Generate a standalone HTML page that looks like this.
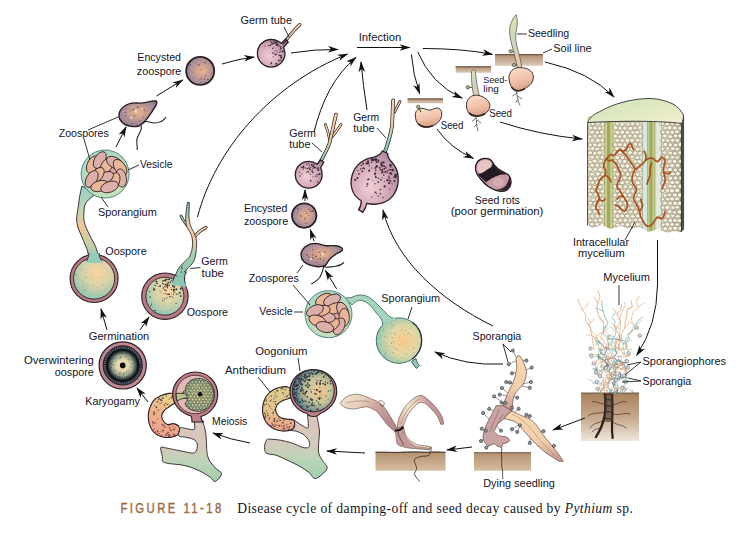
<!DOCTYPE html><html><head><meta charset="utf-8"><title>Figure 11-18</title><style>html,body{margin:0;padding:0;background:#fff}svg{display:block}</style></head><body>
<svg width="750" height="533" viewBox="0 0 750 533">
<rect width="750" height="533" fill="#fff"/>
<defs>
<radialGradient id="gEnc" cx="0.56" cy="0.5" r="0.6"><stop offset="0" stop-color="#eeb184"/><stop offset="0.4" stop-color="#c9a096"/><stop offset="0.8" stop-color="#a08a9a"/><stop offset="1" stop-color="#86748e"/></radialGradient>
<radialGradient id="gZoo" cx="0.5" cy="0.45" r="0.6"><stop offset="0" stop-color="#ecb488"/><stop offset="0.45" stop-color="#c39a94"/><stop offset="0.85" stop-color="#9a8698"/><stop offset="1" stop-color="#86748e"/></radialGradient>
<radialGradient id="gPink" cx="0.4" cy="0.58" r="0.68"><stop offset="0" stop-color="#f0d0d4"/><stop offset="0.55" stop-color="#d4aab8"/><stop offset="1" stop-color="#a8869e"/></radialGradient>
<radialGradient id="gOo" cx="0.58" cy="0.35" r="0.75"><stop offset="0" stop-color="#fbd3a0"/><stop offset="0.45" stop-color="#d9d3a8"/><stop offset="1" stop-color="#7fc3b8"/></radialGradient>
<radialGradient id="gSpor" cx="0.6" cy="0.5" r="0.68"><stop offset="0" stop-color="#fbc98f"/><stop offset="0.45" stop-color="#e4d7a4"/><stop offset="1" stop-color="#7cc4b8"/></radialGradient>
<radialGradient id="gOver" cx="0.5" cy="0.5" r="0.5"><stop offset="0" stop-color="#f2dcae"/><stop offset="0.35" stop-color="#e4d8a8"/><stop offset="0.6" stop-color="#a3ad98"/><stop offset="0.78" stop-color="#46504c"/><stop offset="0.88" stop-color="#14181a"/><stop offset="1" stop-color="#0e1014"/></radialGradient>
<radialGradient id="gOog" cx="0.62" cy="0.5" r="0.6"><stop offset="0" stop-color="#f6c795"/><stop offset="0.5" stop-color="#c9c79a"/><stop offset="1" stop-color="#4c6f80"/></radialGradient>
<radialGradient id="gOog2" cx="0.55" cy="0.5" r="0.6"><stop offset="0" stop-color="#e8d79a"/><stop offset="0.6" stop-color="#b9c79a"/><stop offset="1" stop-color="#6c96a0"/></radialGradient>
<linearGradient id="gStem1" x1="0" y1="0" x2="0" y2="1"><stop offset="0" stop-color="#9ccdb4"/><stop offset="0.45" stop-color="#f0cfa0"/><stop offset="1" stop-color="#7fc3b8"/></linearGradient>
<linearGradient id="gTube" x1="0" y1="1" x2="0" y2="0"><stop offset="0" stop-color="#7fbfb2"/><stop offset="0.5" stop-color="#f0c89a"/><stop offset="1" stop-color="#f4d4a8"/></linearGradient>
<linearGradient id="gSoil" x1="0" y1="0" x2="0" y2="1"><stop offset="0" stop-color="#b5916f"/><stop offset="1" stop-color="#d6bda2"/></linearGradient>
<linearGradient id="gSoil3" x1="0" y1="0" x2="0" y2="1"><stop offset="0" stop-color="#a98160"/><stop offset="0.5" stop-color="#c6a88a"/><stop offset="1" stop-color="#efe6dc"/></linearGradient>
<linearGradient id="gSoilT" x1="0" y1="0" x2="0" y2="1"><stop offset="0" stop-color="#b08d70"/><stop offset="1" stop-color="#dccab8"/></linearGradient>
<linearGradient id="gAnth" x1="0.5" y1="0" x2="0.3" y2="1"><stop offset="0" stop-color="#e9d68f"/><stop offset="0.5" stop-color="#f0b08c"/><stop offset="1" stop-color="#ee9f8c"/></linearGradient>
<linearGradient id="gAnth2" x1="0.5" y1="0" x2="0.5" y2="1"><stop offset="0" stop-color="#d9cf8f"/><stop offset="0.6" stop-color="#e8c08c"/><stop offset="1" stop-color="#ee9f8c"/></linearGradient>
<linearGradient id="gHyph" x1="0" y1="0" x2="0" y2="1"><stop offset="0" stop-color="#dcc4bc"/><stop offset="0.42" stop-color="#d6c8bc"/><stop offset="0.68" stop-color="#bcd4b8"/><stop offset="1" stop-color="#a3cfae"/></linearGradient>
<linearGradient id="gSeed" x1="0.2" y1="0" x2="0.5" y2="1"><stop offset="0" stop-color="#f9dfcc"/><stop offset="0.55" stop-color="#f2c2a8"/><stop offset="1" stop-color="#d69c88"/></linearGradient>
<linearGradient id="gShoot" x1="0" y1="0" x2="0" y2="1"><stop offset="0" stop-color="#e6e4ae"/><stop offset="0.45" stop-color="#c9d8c0"/><stop offset="1" stop-color="#ecc6a8"/></linearGradient>
<linearGradient id="gLeafA" x1="0" y1="0" x2="1" y2="0.6"><stop offset="0" stop-color="#efe6cc"/><stop offset="0.35" stop-color="#e6d2bc"/><stop offset="0.6" stop-color="#cfa4a0"/><stop offset="1" stop-color="#b58a8e"/></linearGradient>
<linearGradient id="gLeafB" x1="0" y1="0.6" x2="1" y2="0.3"><stop offset="0" stop-color="#d9b8a8"/><stop offset="0.3" stop-color="#efe6cc"/><stop offset="0.55" stop-color="#e2c4b4"/><stop offset="0.75" stop-color="#c4979c"/><stop offset="1" stop-color="#b98a92"/></linearGradient>
<linearGradient id="gLeafC" x1="0" y1="0" x2="0" y2="1"><stop offset="0" stop-color="#f8d9b0"/><stop offset="0.6" stop-color="#f0cfae"/><stop offset="1" stop-color="#c99890"/></linearGradient>
<linearGradient id="gCap" x1="0" y1="0" x2="1" y2="1"><stop offset="0" stop-color="#cfe3b4"/><stop offset="1" stop-color="#f1efcf"/></linearGradient>
<radialGradient id="gVes" cx="0.6" cy="0.7" r="0.7"><stop offset="0" stop-color="#d6e2b4"/><stop offset="1" stop-color="#acd8c4"/></radialGradient>
<linearGradient id="gT1" gradientUnits="userSpaceOnUse" x1="0" y1="285" x2="0" y2="200"><stop offset="0" stop-color="#7fbfb2"/><stop offset="0.38" stop-color="#a8cfae"/><stop offset="0.55" stop-color="#f2c9a0"/><stop offset="0.72" stop-color="#ecd0a8"/><stop offset="0.86" stop-color="#9cc8b0"/><stop offset="1" stop-color="#86bcae"/></linearGradient>
<linearGradient id="gT2" gradientUnits="userSpaceOnUse" x1="0" y1="170" x2="0" y2="112"><stop offset="0" stop-color="#7fbfb2"/><stop offset="0.4" stop-color="#bcd0a8"/><stop offset="0.65" stop-color="#f2c9a0"/><stop offset="1" stop-color="#f6d8b0"/></linearGradient>
<linearGradient id="gT3" gradientUnits="userSpaceOnUse" x1="0" y1="160" x2="0" y2="98"><stop offset="0" stop-color="#6fb5aa"/><stop offset="0.4" stop-color="#a8cfb0"/><stop offset="0.6" stop-color="#f2c9a0"/><stop offset="1" stop-color="#f6d8b0"/></linearGradient>
<linearGradient id="gT4" gradientUnits="userSpaceOnUse" x1="283" y1="46" x2="301" y2="26"><stop offset="0" stop-color="#4a7a78"/><stop offset="0.4" stop-color="#d9b890"/><stop offset="1" stop-color="#f6d8b0"/></linearGradient>
<linearGradient id="gS1" gradientUnits="userSpaceOnUse" x1="0" y1="190" x2="0" y2="262"><stop offset="0" stop-color="#9fd0c0"/><stop offset="0.25" stop-color="#b8d8b8"/><stop offset="0.5" stop-color="#eec896"/><stop offset="0.75" stop-color="#c9d0a8"/><stop offset="1" stop-color="#86c6b8"/></linearGradient>
</defs>
<circle cx="200.2" cy="70.9" r="14.0" fill="url(#gEnc)" stroke="#2b2026" stroke-width="1.8"/>
<g fill="#3a2a3a" opacity="0.75"><circle cx="207.8" cy="79.5" r="0.68"/><circle cx="199.9" cy="79.7" r="0.52"/><circle cx="193.8" cy="61.9" r="0.35"/><circle cx="211.4" cy="72.9" r="0.52"/><circle cx="200.2" cy="70.3" r="0.52"/><circle cx="199.1" cy="65.0" r="0.77"/><circle cx="202.0" cy="69.6" r="0.31"/><circle cx="188.5" cy="67.8" r="0.49"/><circle cx="201.9" cy="78.8" r="0.31"/><circle cx="201.7" cy="79.0" r="0.55"/><circle cx="200.8" cy="76.9" r="0.41"/><circle cx="193.7" cy="72.6" r="0.31"/><circle cx="205.1" cy="63.0" r="0.62"/><circle cx="205.1" cy="82.4" r="0.73"/><circle cx="205.4" cy="75.9" r="0.66"/><circle cx="197.3" cy="59.2" r="0.51"/><circle cx="205.1" cy="61.9" r="0.45"/><circle cx="190.2" cy="64.8" r="0.72"/><circle cx="190.6" cy="70.6" r="0.32"/><circle cx="200.7" cy="82.1" r="0.51"/><circle cx="204.5" cy="79.1" r="0.65"/><circle cx="196.7" cy="64.1" r="0.52"/></g>
<g transform="translate(137.0,114.0) scale(1.00)">
<path d="M-18,3 C-19,-6 -9,-12 0,-11 C8,-10 14,-14 19,-13 C21,-12 19,-8 16,-4 C12,2 9,8 2,12 C-6,14 -16,11 -18,3 Z" fill="url(#gZoo)" stroke="#2b2026" stroke-width="1.4"/>
<g fill="#3a2a3a" opacity="0.70"><circle cx="-1.4" cy="8.1" r="0.45"/><circle cx="-8.9" cy="-5.3" r="0.33"/><circle cx="8.0" cy="0.8" r="0.40"/><circle cx="-0.9" cy="10.9" r="0.49"/><circle cx="1.9" cy="-6.5" r="0.56"/><circle cx="3.1" cy="7.1" r="0.65"/><circle cx="-11.4" cy="-1.4" r="0.57"/><circle cx="6.8" cy="3.8" r="0.54"/><circle cx="-2.6" cy="1.8" r="0.65"/><circle cx="-11.2" cy="1.6" r="0.65"/><circle cx="-4.4" cy="-10.3" r="0.46"/><circle cx="0.3" cy="-7.0" r="0.67"/><circle cx="0.5" cy="-2.4" r="0.35"/><circle cx="0.2" cy="10.6" r="0.47"/><circle cx="-6.2" cy="-4.3" r="0.50"/><circle cx="-6.9" cy="4.3" r="0.53"/><circle cx="-11.0" cy="-5.3" r="0.57"/><circle cx="7.2" cy="-4.4" r="0.70"/><circle cx="-4.1" cy="-3.9" r="0.64"/><circle cx="8.2" cy="-2.3" r="0.53"/><circle cx="-3.1" cy="-4.9" r="0.63"/><circle cx="-7.3" cy="-2.6" r="0.33"/><circle cx="4.6" cy="-8.7" r="0.34"/><circle cx="0.2" cy="-6.7" r="0.36"/><circle cx="-4.6" cy="9.3" r="0.65"/><circle cx="6.3" cy="2.4" r="0.32"/></g>
<circle cx="-1" cy="-3" r="1.6" fill="#f6dcc0" opacity="0.9"/><circle cx="-6" cy="4" r="1.2" fill="#f6dcc0" opacity="0.8"/><circle cx="5" cy="-5" r="1" fill="#f6dcc0" opacity="0.8"/>
<path d="M4,11 C6,16 1,20 0,25 C-1,29 1,32 0,36" fill="none" stroke="#222" stroke-width="1.1"/>
<path d="M5,10 C9,5 13,9 17,9 C22,9 26,8 29,3" fill="none" stroke="#222" stroke-width="1.1"/>
</g>
<g transform="translate(-0.8,-0.7)">
<path d="M281,47 C286,42 291,36 295,31 C297,28.5 299,27 300.5,25.5" fill="none" stroke="#2b2026" stroke-width="3.4" stroke-linecap="round" stroke-linejoin="round"/>
<path d="M281,47 C286,42 291,36 295,31 C297,28.5 299,27 300.5,25.5" fill="none" stroke="url(#gT4)" stroke-width="2.0" stroke-linecap="round" stroke-linejoin="round"/>
<path d="M272,40.2 C276,40.2 279.5,42 282,44 C283.6,42.8 285.2,41.5 286.8,40.2 L289,43 C287.3,44.6 285.6,46.3 284.2,48.2 C285.4,50.3 285.8,52 285.8,54 C285.8,61.6 279.6,67.8 272,67.8 C264.4,67.8 258.2,61.6 258.2,54 C258.2,46.4 264.4,40.2 272,40.2 Z" fill="url(#gPink)" stroke="#2b2026" stroke-width="1.3"/>
<g fill="#2a1730" opacity="0.85"><circle cx="277.3" cy="55.1" r="0.66"/><circle cx="274.7" cy="42.6" r="0.92"/><circle cx="278.4" cy="52.9" r="0.63"/><circle cx="281.7" cy="47.3" r="0.69"/><circle cx="278.5" cy="44.9" r="0.91"/><circle cx="279.3" cy="49.7" r="0.46"/><circle cx="277.4" cy="64.8" r="0.98"/><circle cx="279.7" cy="45.8" r="0.66"/><circle cx="277.2" cy="43.0" r="1.02"/><circle cx="277.2" cy="45.5" r="0.88"/><circle cx="273.8" cy="57.5" r="0.55"/><circle cx="272.5" cy="43.3" r="0.73"/><circle cx="281.6" cy="48.8" r="0.93"/><circle cx="275.0" cy="52.6" r="0.44"/><circle cx="272.1" cy="64.1" r="0.85"/><circle cx="276.8" cy="51.4" r="0.70"/><circle cx="279.9" cy="56.0" r="0.83"/><circle cx="273.8" cy="54.2" r="0.65"/><circle cx="273.1" cy="44.5" r="0.68"/><circle cx="270.2" cy="54.1" r="0.47"/><circle cx="283.7" cy="52.2" r="0.88"/><circle cx="281.8" cy="60.9" r="0.76"/><circle cx="265.9" cy="46.7" r="0.57"/><circle cx="271.4" cy="46.0" r="0.73"/><circle cx="280.8" cy="50.9" r="0.63"/><circle cx="281.8" cy="56.6" r="0.77"/><circle cx="279.1" cy="47.0" r="0.50"/><circle cx="276.0" cy="54.4" r="0.52"/><circle cx="273.6" cy="49.1" r="0.77"/><circle cx="281.9" cy="58.5" r="1.00"/><circle cx="279.7" cy="61.2" r="0.93"/><circle cx="271.3" cy="42.1" r="0.63"/><circle cx="281.9" cy="52.3" r="0.50"/><circle cx="275.9" cy="54.0" r="0.56"/><circle cx="281.8" cy="49.5" r="0.61"/><circle cx="276.5" cy="48.6" r="0.49"/><circle cx="281.9" cy="56.5" r="0.93"/><circle cx="277.0" cy="64.2" r="0.74"/><circle cx="273.5" cy="52.9" r="0.52"/><circle cx="280.8" cy="47.4" r="0.59"/><circle cx="276.1" cy="55.6" r="0.73"/><circle cx="272.7" cy="45.0" r="0.73"/><circle cx="280.6" cy="53.3" r="0.70"/><circle cx="274.2" cy="51.2" r="0.36"/><circle cx="271.9" cy="52.2" r="0.34"/><circle cx="269.7" cy="46.2" r="0.84"/><circle cx="274.7" cy="44.1" r="0.68"/><circle cx="271.8" cy="63.3" r="0.52"/><circle cx="282.6" cy="51.6" r="0.49"/><circle cx="276.5" cy="43.7" r="0.95"/><circle cx="278.1" cy="46.1" r="0.74"/><circle cx="274.7" cy="47.7" r="0.51"/></g>
<path d="M283.2,45.2 L287.6,41.2" stroke="#3a2a44" stroke-width="2.2" opacity="0.6"/>
</g>
<path d="M82,186 C80,193 79,200 78.4,206 C77.5,211 76.6,216 76.6,220 C77,225 78.5,230 80.7,234 C82.5,239 85,244 86.8,248.7 C87.8,251.5 88.5,254.5 88.8,258 L99,258 C98,253.5 96.8,249.5 95.4,246.2 C93,241 90,236.5 88,231.6 C86,228 84.5,224 83.9,219.4 C83.5,215 84,211 84.4,207 C85,203 88,199.5 95.3,194.4 Z" fill="url(#gS1)" stroke="#2b2026" stroke-width="0.9"/>
<circle cx="105.1" cy="174.0" r="24.0" fill="url(#gVes)" stroke="#4f8a80" stroke-width="1"/>
<g transform="rotate(0 105.1 174.0)" stroke="#2e1c1c" stroke-width="0.8">
<ellipse cx="106.1" cy="173.0" rx="17.0" ry="15.5" fill="#d9a59c" stroke="none"/>
<ellipse cx="92.6" cy="164.6" rx="9.2" ry="5.3" fill="#e9b697" transform="rotate(-65 92.6 164.6)"/>
<ellipse cx="99.8" cy="160.1" rx="9.2" ry="5.3" fill="#dbb0aa" transform="rotate(-60 99.8 160.1)"/>
<ellipse cx="106.9" cy="165.5" rx="9.2" ry="5.3" fill="#e9b697" transform="rotate(-55 106.9 165.5)"/>
<ellipse cx="114.9" cy="162.8" rx="9.2" ry="5.3" fill="#dbb0aa" transform="rotate(30 114.9 162.8)"/>
<ellipse cx="120.1" cy="167.5" rx="9.2" ry="5.3" fill="#e9b697" transform="rotate(55 120.1 167.5)"/>
<ellipse cx="121.1" cy="178.0" rx="9.2" ry="5.3" fill="#dbb0aa" transform="rotate(80 121.1 178.0)"/>
<ellipse cx="114.1" cy="181.5" rx="9.2" ry="5.3" fill="#e9b697" transform="rotate(-70 114.1 181.5)"/>
<ellipse cx="105.1" cy="178.0" rx="9.2" ry="5.3" fill="#dbb0aa" transform="rotate(-30 105.1 178.0)"/>
<ellipse cx="97.1" cy="175.3" rx="9.2" ry="5.3" fill="#e9b697" transform="rotate(-50 97.1 175.3)"/>
<ellipse cx="91.7" cy="179.0" rx="9.2" ry="5.3" fill="#dbb0aa" transform="rotate(-60 91.7 179.0)"/>
<ellipse cx="99.8" cy="186.0" rx="9.2" ry="5.3" fill="#e9b697" transform="rotate(-15 99.8 186.0)"/>
<ellipse cx="109.6" cy="186.9" rx="9.2" ry="5.3" fill="#dbb0aa" transform="rotate(-20 109.6 186.9)"/>
</g>
<circle cx="94.1" cy="278.5" r="24.0" fill="#b97a84" stroke="#2b2026" stroke-width="1.1"/>
<circle cx="94.1" cy="278.5" r="20.6" fill="url(#gOo)" stroke="#2b2026" stroke-width="0.9"/>
<g fill="#3f7a76" opacity="0.65"><circle cx="82.8" cy="281.2" r="0.51"/><circle cx="78.7" cy="283.3" r="0.32"/><circle cx="80.0" cy="269.5" r="0.47"/><circle cx="92.2" cy="266.3" r="0.33"/><circle cx="105.3" cy="288.0" r="0.42"/><circle cx="100.9" cy="273.3" r="0.28"/><circle cx="91.7" cy="277.9" r="0.40"/><circle cx="80.0" cy="269.5" r="0.35"/><circle cx="78.7" cy="289.4" r="0.26"/><circle cx="97.0" cy="290.8" r="0.28"/><circle cx="78.1" cy="278.8" r="0.47"/><circle cx="83.5" cy="289.9" r="0.50"/><circle cx="92.5" cy="277.2" r="0.31"/><circle cx="89.7" cy="284.1" r="0.29"/><circle cx="103.9" cy="269.4" r="0.26"/><circle cx="108.6" cy="287.0" r="0.25"/><circle cx="99.9" cy="290.0" r="0.37"/><circle cx="76.1" cy="274.4" r="0.55"/><circle cx="76.5" cy="274.3" r="0.44"/><circle cx="81.4" cy="282.3" r="0.27"/><circle cx="96.1" cy="295.6" r="0.44"/><circle cx="82.3" cy="268.3" r="0.27"/><circle cx="99.6" cy="292.2" r="0.27"/><circle cx="86.1" cy="288.8" r="0.26"/><circle cx="102.9" cy="285.4" r="0.48"/><circle cx="97.3" cy="286.9" r="0.29"/><circle cx="83.8" cy="289.6" r="0.33"/><circle cx="85.7" cy="277.6" r="0.53"/><circle cx="87.1" cy="273.0" r="0.33"/><circle cx="103.0" cy="284.5" r="0.43"/><circle cx="87.1" cy="283.6" r="0.39"/><circle cx="83.1" cy="269.3" r="0.31"/><circle cx="85.3" cy="284.7" r="0.41"/><circle cx="103.8" cy="289.9" r="0.38"/><circle cx="92.8" cy="280.8" r="0.39"/><circle cx="91.1" cy="292.1" r="0.25"/><circle cx="97.5" cy="276.6" r="0.30"/><circle cx="87.9" cy="286.1" r="0.37"/><circle cx="93.1" cy="285.6" r="0.45"/><circle cx="85.6" cy="290.5" r="0.53"/><circle cx="91.2" cy="273.3" r="0.31"/><circle cx="76.7" cy="273.7" r="0.31"/><circle cx="83.7" cy="286.2" r="0.54"/><circle cx="76.1" cy="274.9" r="0.45"/><circle cx="101.9" cy="277.3" r="0.51"/><circle cx="92.7" cy="285.2" r="0.26"/></g>
<path d="M88.6,253 C88.6,257 87.6,260.5 85.6,263 L103,263 C100.6,260.5 99.4,257 99.2,253 Z" fill="#93ccb9"/>
<path d="M88.8,253 C88.7,256.5 87.9,259 86.6,260.8 M99,253 C99.2,256.5 100.2,259 101.8,260.6" fill="none" stroke="#2b2026" stroke-width="0.9"/>
<path d="M193.5,241 C194,237 196,234.5 199,232 C201.5,230 204,228.5 206,227.5" fill="none" stroke="#2b2026" stroke-width="3.2" stroke-linecap="round" stroke-linejoin="round"/>
<path d="M193.5,241 C194,237 196,234.5 199,232 C201.5,230 204,228.5 206,227.5" fill="none" stroke="#f4d0a4" stroke-width="1.8" stroke-linecap="round" stroke-linejoin="round"/>
<path d="M186.8,225 C184.5,222.5 182.5,219.5 181,216" fill="none" stroke="#2b2026" stroke-width="2.9" stroke-linecap="round" stroke-linejoin="round"/>
<path d="M186.8,225 C184.5,222.5 182.5,219.5 181,216" fill="none" stroke="#9cc8b0" stroke-width="1.5" stroke-linecap="round" stroke-linejoin="round"/>
<path d="M173.4,281 C175,275 177,271 179.5,267 C182.5,263 186.5,260.5 189.3,257.2 C191.5,253 192.5,248 192.6,243.8 C192.5,240.5 192.2,237.5 191.5,235.2 C190.4,232.5 188.6,230.2 187.4,228 C185.8,225 185.4,220 185.8,215 C186.2,210.5 186.8,206 187.4,202.3 L189.4,202.5 C189.2,207 189,211 188.9,215 C189,219.5 189.8,223.5 191,227 C192.6,230 194.5,233.2 195.4,236.5 C196.6,239 196.8,241.5 196.6,243.8 C196.6,250 195.8,256 194.1,260.9 C192,264.5 189,267 186.8,269.4 C185.3,272.5 184.6,277 184.4,282 Z" fill="url(#gT1)" stroke="#2b2026" stroke-width="0.8"/>
<circle cx="164.9" cy="296.2" r="23.2" fill="#b97a84" stroke="#2b2026" stroke-width="1.1"/>
<circle cx="164.9" cy="296.2" r="19.0" fill="url(#gOo)" stroke="#2b2026" stroke-width="0.9"/>
<g fill="#1a2630" opacity="0.90"><circle cx="166.1" cy="290.7" r="0.64"/><circle cx="173.9" cy="285.9" r="0.57"/><circle cx="174.2" cy="286.8" r="0.81"/><circle cx="174.9" cy="292.6" r="0.52"/><circle cx="164.9" cy="286.6" r="0.78"/><circle cx="167.8" cy="279.5" r="0.64"/><circle cx="169.8" cy="296.5" r="0.67"/><circle cx="168.1" cy="294.2" r="0.62"/><circle cx="176.1" cy="303.4" r="0.58"/><circle cx="173.8" cy="291.1" r="0.76"/><circle cx="155.1" cy="285.5" r="0.65"/><circle cx="157.3" cy="283.4" r="0.53"/><circle cx="169.3" cy="294.2" r="0.74"/><circle cx="163.4" cy="288.0" r="0.72"/><circle cx="173.5" cy="294.6" r="0.59"/><circle cx="172.6" cy="285.8" r="0.70"/><circle cx="167.4" cy="287.7" r="0.67"/><circle cx="162.8" cy="281.1" r="0.73"/><circle cx="169.4" cy="285.1" r="0.53"/><circle cx="165.4" cy="280.7" r="0.81"/><circle cx="180.0" cy="292.7" r="0.85"/><circle cx="174.5" cy="282.4" r="0.57"/><circle cx="167.9" cy="294.4" r="0.58"/><circle cx="173.5" cy="289.6" r="0.82"/><circle cx="173.0" cy="298.0" r="0.48"/><circle cx="174.4" cy="289.4" r="0.77"/><circle cx="167.1" cy="297.8" r="0.55"/><circle cx="167.2" cy="284.1" r="0.74"/><circle cx="154.7" cy="288.9" r="0.62"/><circle cx="166.7" cy="285.8" r="0.55"/><circle cx="171.6" cy="293.2" r="0.43"/><circle cx="170.3" cy="282.4" r="0.80"/><circle cx="153.2" cy="287.9" r="0.48"/><circle cx="156.3" cy="283.8" r="0.52"/><circle cx="150.6" cy="305.9" r="0.56"/><circle cx="165.4" cy="284.4" r="0.72"/><circle cx="178.3" cy="293.8" r="0.64"/><circle cx="171.1" cy="280.3" r="0.67"/><circle cx="155.2" cy="310.6" r="0.78"/><circle cx="149.7" cy="291.6" r="0.63"/><circle cx="180.8" cy="296.1" r="0.96"/><circle cx="167.8" cy="284.9" r="0.75"/><circle cx="174.1" cy="287.3" r="0.73"/><circle cx="162.5" cy="283.3" r="0.59"/><circle cx="170.9" cy="287.4" r="0.44"/><circle cx="164.0" cy="280.5" r="0.87"/><circle cx="168.9" cy="279.3" r="0.92"/><circle cx="171.3" cy="289.5" r="0.65"/><circle cx="163.3" cy="284.2" r="0.64"/><circle cx="170.5" cy="297.1" r="0.41"/><circle cx="172.7" cy="286.1" r="0.59"/><circle cx="166.5" cy="279.8" r="0.55"/><circle cx="160.2" cy="286.1" r="0.84"/><circle cx="175.4" cy="282.0" r="0.79"/><circle cx="172.2" cy="296.8" r="0.52"/><circle cx="176.2" cy="294.0" r="0.49"/><circle cx="180.8" cy="288.7" r="0.97"/><circle cx="173.9" cy="290.9" r="0.59"/><circle cx="160.8" cy="292.0" r="0.45"/><circle cx="164.9" cy="290.0" r="0.75"/><circle cx="151.5" cy="304.1" r="0.70"/><circle cx="153.9" cy="289.6" r="0.85"/><circle cx="175.3" cy="284.8" r="0.54"/><circle cx="150.2" cy="296.9" r="0.74"/><circle cx="163.5" cy="293.9" r="0.44"/><circle cx="174.4" cy="282.8" r="0.50"/><circle cx="168.2" cy="282.6" r="0.82"/><circle cx="164.8" cy="298.9" r="0.62"/><circle cx="154.0" cy="289.6" r="0.85"/><circle cx="166.3" cy="285.0" r="0.79"/><circle cx="176.4" cy="289.3" r="0.95"/><circle cx="156.5" cy="281.8" r="0.91"/><circle cx="168.8" cy="279.1" r="0.51"/><circle cx="167.6" cy="285.9" r="0.85"/><circle cx="165.8" cy="293.7" r="0.64"/><circle cx="162.5" cy="300.6" r="0.66"/><circle cx="156.3" cy="281.3" r="0.74"/><circle cx="176.8" cy="294.3" r="0.53"/><circle cx="158.9" cy="286.5" r="0.52"/><circle cx="165.9" cy="279.4" r="0.93"/></g>
<g fill="#3f7a76" opacity="0.70"><circle cx="173.7" cy="292.7" r="0.43"/><circle cx="152.1" cy="305.9" r="0.31"/><circle cx="169.7" cy="282.6" r="0.39"/><circle cx="172.5" cy="303.6" r="0.30"/><circle cx="159.7" cy="290.4" r="0.47"/><circle cx="156.9" cy="295.5" r="0.30"/><circle cx="168.7" cy="283.9" r="0.45"/><circle cx="173.1" cy="301.3" r="0.44"/><circle cx="174.9" cy="304.9" r="0.37"/><circle cx="159.6" cy="284.0" r="0.37"/><circle cx="151.9" cy="301.6" r="0.37"/><circle cx="148.9" cy="288.8" r="0.33"/><circle cx="170.3" cy="309.6" r="0.31"/><circle cx="162.3" cy="298.4" r="0.50"/><circle cx="159.2" cy="303.3" r="0.29"/><circle cx="164.1" cy="305.2" r="0.48"/><circle cx="160.8" cy="311.5" r="0.39"/><circle cx="148.2" cy="295.3" r="0.35"/><circle cx="158.0" cy="312.2" r="0.31"/><circle cx="164.4" cy="302.0" r="0.42"/><circle cx="170.8" cy="303.4" r="0.39"/><circle cx="153.1" cy="307.2" r="0.34"/><circle cx="159.1" cy="299.2" r="0.29"/><circle cx="154.3" cy="310.2" r="0.39"/></g>
<path d="M174.2,276 C174,279.5 172.6,282 170.5,284 L186.5,287.5 C185,284.5 184.3,281 184.4,277 Z" fill="#8cc6b6"/>
<path d="M174.3,276 C174.1,278.5 173.3,280.3 172.2,281.8 M184.4,277 C184.3,279.5 184.6,281.5 185.4,283.6" fill="none" stroke="#2b2026" stroke-width="0.9"/>
<g fill="#23323a" opacity="0.85"><circle cx="186.3" cy="272.6" r="0.58"/><circle cx="185.4" cy="269.0" r="0.44"/><circle cx="182.6" cy="266.0" r="0.46"/><circle cx="181.7" cy="267.1" r="0.62"/><circle cx="184.7" cy="271.6" r="0.67"/><circle cx="181.4" cy="272.0" r="0.63"/><circle cx="181.7" cy="268.6" r="0.54"/><circle cx="182.0" cy="268.3" r="0.58"/><circle cx="185.1" cy="272.0" r="0.38"/><circle cx="184.4" cy="274.7" r="0.49"/></g>
<circle cx="122.7" cy="365.4" r="23.6" fill="#c08890" stroke="#2b2026" stroke-width="1.2"/>
<circle cx="122.7" cy="365.4" r="19.6" fill="#70768a" stroke="#15151c" stroke-width="1"/>
<circle cx="122.7" cy="365.4" r="18.1" fill="none" stroke="#14141c" stroke-width="2.4" stroke-dasharray="1.1 0.8" opacity="0.8"/>
<circle cx="122.7" cy="365.4" r="17.0" fill="url(#gOver)"/>
<g fill="#2a3430" opacity="0.55"><circle cx="123.5" cy="375.6" r="0.41"/><circle cx="114.2" cy="358.9" r="0.32"/><circle cx="134.7" cy="366.4" r="0.38"/><circle cx="124.0" cy="378.3" r="0.44"/><circle cx="127.8" cy="357.0" r="0.49"/><circle cx="129.0" cy="374.2" r="0.56"/><circle cx="111.4" cy="363.7" r="0.50"/><circle cx="133.3" cy="369.9" r="0.48"/><circle cx="120.4" cy="372.2" r="0.56"/><circle cx="111.6" cy="367.3" r="0.56"/><circle cx="119.9" cy="353.2" r="0.42"/><circle cx="125.7" cy="356.2" r="0.58"/><circle cx="128.2" cy="360.2" r="0.34"/><circle cx="125.3" cy="377.9" r="0.43"/><circle cx="116.5" cy="359.1" r="0.45"/><circle cx="115.8" cy="371.4" r="0.48"/><circle cx="112.0" cy="359.1" r="0.50"/><circle cx="133.6" cy="360.2" r="0.60"/><circle cx="118.9" cy="358.4" r="0.56"/><circle cx="134.8" cy="362.7" r="0.47"/><circle cx="120.8" cy="357.3" r="0.55"/><circle cx="114.9" cy="361.5" r="0.32"/><circle cx="130.6" cy="355.1" r="0.33"/><circle cx="125.7" cy="356.4" r="0.35"/><circle cx="119.5" cy="376.6" r="0.56"/><circle cx="133.0" cy="368.3" r="0.31"/><circle cx="120.9" cy="356.6" r="0.56"/><circle cx="132.7" cy="364.2" r="0.60"/><circle cx="120.0" cy="372.3" r="0.48"/><circle cx="130.7" cy="367.0" r="0.42"/><circle cx="116.6" cy="360.3" r="0.31"/><circle cx="128.7" cy="358.8" r="0.59"/><circle cx="130.1" cy="359.8" r="0.44"/><circle cx="111.9" cy="364.0" r="0.48"/><circle cx="112.7" cy="361.5" r="0.58"/><circle cx="113.1" cy="365.0" r="0.52"/><circle cx="123.4" cy="374.2" r="0.59"/><circle cx="112.5" cy="364.0" r="0.30"/><circle cx="113.7" cy="370.7" r="0.31"/><circle cx="114.6" cy="358.2" r="0.32"/><circle cx="115.9" cy="358.4" r="0.50"/><circle cx="115.9" cy="374.4" r="0.52"/><circle cx="130.0" cy="366.4" r="0.50"/><circle cx="131.0" cy="363.5" r="0.44"/><circle cx="115.2" cy="360.5" r="0.41"/><circle cx="119.2" cy="373.9" r="0.48"/><circle cx="119.8" cy="374.2" r="0.53"/><circle cx="133.0" cy="367.2" r="0.52"/><circle cx="119.6" cy="373.1" r="0.54"/><circle cx="123.3" cy="373.5" r="0.43"/><circle cx="120.3" cy="358.2" r="0.40"/><circle cx="116.7" cy="375.8" r="0.43"/><circle cx="127.6" cy="359.1" r="0.40"/><circle cx="115.5" cy="355.4" r="0.44"/><circle cx="123.9" cy="373.0" r="0.46"/><circle cx="127.0" cy="376.4" r="0.55"/><circle cx="126.2" cy="373.3" r="0.54"/><circle cx="115.3" cy="356.2" r="0.40"/><circle cx="128.7" cy="371.8" r="0.54"/><circle cx="121.5" cy="374.4" r="0.43"/><circle cx="114.4" cy="370.0" r="0.58"/><circle cx="126.6" cy="371.2" r="0.58"/><circle cx="132.1" cy="356.6" r="0.43"/><circle cx="134.7" cy="361.5" r="0.37"/><circle cx="122.4" cy="353.4" r="0.50"/><circle cx="114.0" cy="364.4" r="0.40"/><circle cx="123.7" cy="372.7" r="0.48"/><circle cx="120.0" cy="376.9" r="0.31"/><circle cx="131.9" cy="359.0" r="0.58"/><circle cx="132.6" cy="357.9" r="0.47"/></g>
<circle cx="122.7" cy="365.4" r="2.8" fill="#08080c"/>
<path d="M194.1,421.0 C194.2,422.4 195.4,427.8 194.5,429.1 C193.6,430.5 190.6,429.3 188.6,429.1 C186.6,428.9 184.0,427.7 182.4,427.7 C180.8,427.7 179.4,427.7 178.8,429.1 C178.2,430.5 177.9,434.7 178.8,436.0 C179.7,437.3 182.2,436.6 184.4,437.0 C186.6,437.4 189.7,437.9 191.7,438.6 C193.7,439.4 195.2,440.2 196.2,441.5 C197.1,442.8 197.4,444.7 197.4,446.3 C197.4,447.9 197.0,449.9 196.2,451.0 C195.4,452.1 194.5,453.0 192.7,453.1 C190.9,453.2 188.4,452.4 185.5,451.9 C182.6,451.3 178.5,450.5 175.1,449.8 C171.7,449.1 167.2,448.1 164.8,447.7 C162.4,447.3 161.1,446.2 160.7,447.7 C160.3,449.2 161.9,454.2 162.3,456.6 C162.7,459.0 161.7,460.6 163.1,461.8 C164.5,463.0 168.0,463.3 171.0,463.8 C174.0,464.3 177.9,464.3 181.3,464.9 C184.8,465.5 188.2,466.4 191.7,467.6 C195.1,468.8 198.9,470.5 202.0,472.1 C205.1,473.7 208.0,475.8 210.2,477.3 C212.4,478.9 213.5,482.0 215.4,481.4 C217.3,480.8 221.4,475.9 221.6,473.8 C221.8,471.7 218.3,471.0 216.4,469.0 C214.5,467.0 211.8,464.4 210.2,461.8 C208.6,459.2 207.7,456.6 207.1,453.5 C206.5,450.4 206.7,446.6 206.5,443.2 C206.3,439.8 206.1,435.8 205.7,432.9 C205.3,430.0 204.6,427.6 204.0,425.6 C203.4,423.6 202.3,421.8 202.0,421.0 Z" fill="url(#gHyph)" stroke="#2b2026" stroke-width="0.9" stroke-linejoin="round"/>
<path d="M184.4,394.6 C183.0,394.4 178.8,393.8 176.2,393.6 C173.6,393.4 171.5,393.0 168.9,393.4 C166.3,393.8 163.3,394.5 160.7,395.7 C158.1,396.9 155.3,398.6 153.4,400.8 C151.5,403.0 150.2,406.2 149.3,409.1 C148.5,412.0 148.1,415.5 148.3,418.4 C148.5,421.3 149.1,424.1 150.3,426.7 C151.5,429.3 153.4,432.2 155.5,433.9 C157.6,435.6 160.1,436.4 162.7,437.0 C165.3,437.6 168.6,437.6 171.0,437.3 C173.4,437.0 175.8,436.4 177.2,435.2 C178.6,434.0 179.4,431.6 179.6,430.0 C179.8,428.4 179.3,426.7 178.2,425.6 C177.1,424.5 174.8,423.8 173.1,423.6 C171.4,423.4 169.4,425.0 167.9,424.6 C166.4,424.2 164.8,422.9 163.8,421.5 C162.8,420.1 161.7,418.0 161.7,416.3 C161.7,414.6 162.6,412.8 163.8,411.2 C165.0,409.6 167.0,408.4 168.9,407.0 C170.8,405.6 173.0,404.1 175.1,402.9 C177.2,401.7 179.6,400.6 181.3,399.8 C183.0,399.0 184.7,398.5 185.4,398.2 Z" fill="url(#gAnth)" stroke="#2b2026" stroke-width="1.1" stroke-linejoin="round"/>
<clipPath id="cpA1"><path d="M184.4,394.6 C183.0,394.4 178.8,393.8 176.2,393.6 C173.6,393.4 171.5,393.0 168.9,393.4 C166.3,393.8 163.3,394.5 160.7,395.7 C158.1,396.9 155.3,398.6 153.4,400.8 C151.5,403.0 150.2,406.2 149.3,409.1 C148.5,412.0 148.1,415.5 148.3,418.4 C148.5,421.3 149.1,424.1 150.3,426.7 C151.5,429.3 153.4,432.2 155.5,433.9 C157.6,435.6 160.1,436.4 162.7,437.0 C165.3,437.6 168.6,437.6 171.0,437.3 C173.4,437.0 175.8,436.4 177.2,435.2 C178.6,434.0 179.4,431.6 179.6,430.0 C179.8,428.4 179.3,426.7 178.2,425.6 C177.1,424.5 174.8,423.8 173.1,423.6 C171.4,423.4 169.4,425.0 167.9,424.6 C166.4,424.2 164.8,422.9 163.8,421.5 C162.8,420.1 161.7,418.0 161.7,416.3 C161.7,414.6 162.6,412.8 163.8,411.2 C165.0,409.6 167.0,408.4 168.9,407.0 C170.8,405.6 173.0,404.1 175.1,402.9 C177.2,401.7 179.6,400.6 181.3,399.8 C183.0,399.0 184.7,398.5 185.4,398.2 Z"/></clipPath>
<g clip-path="url(#cpA1)" fill="#4a3030" opacity="0.75"><circle cx="161.9" cy="402.6" r="0.54"/><circle cx="182.6" cy="418.6" r="0.83"/><circle cx="168.6" cy="409.6" r="0.85"/><circle cx="169.5" cy="427.9" r="0.81"/><circle cx="179.7" cy="412.2" r="0.54"/><circle cx="152.8" cy="425.3" r="0.54"/><circle cx="172.5" cy="420.6" r="0.48"/><circle cx="177.6" cy="393.5" r="0.93"/><circle cx="179.8" cy="401.9" r="0.85"/><circle cx="175.6" cy="397.8" r="0.82"/><circle cx="151.8" cy="434.0" r="0.83"/><circle cx="185.2" cy="394.5" r="0.62"/><circle cx="171.2" cy="420.0" r="0.55"/><circle cx="181.6" cy="430.9" r="0.62"/><circle cx="152.7" cy="422.7" r="0.67"/><circle cx="172.9" cy="414.7" r="0.67"/><circle cx="147.8" cy="398.2" r="0.70"/><circle cx="175.4" cy="411.6" r="0.86"/><circle cx="168.1" cy="432.5" r="0.81"/><circle cx="159.6" cy="398.4" r="0.49"/><circle cx="148.5" cy="431.7" r="0.93"/><circle cx="176.3" cy="397.0" r="0.81"/><circle cx="152.0" cy="432.9" r="0.81"/><circle cx="176.2" cy="420.0" r="0.68"/><circle cx="180.1" cy="436.2" r="0.58"/><circle cx="164.1" cy="425.7" r="0.82"/><circle cx="163.0" cy="412.7" r="0.98"/><circle cx="157.8" cy="401.7" r="0.83"/><circle cx="157.8" cy="433.3" r="0.63"/><circle cx="183.1" cy="409.5" r="0.94"/><circle cx="176.3" cy="425.7" r="0.57"/><circle cx="153.4" cy="393.4" r="0.55"/><circle cx="173.0" cy="395.0" r="0.58"/><circle cx="169.1" cy="399.1" r="0.63"/><circle cx="155.9" cy="423.1" r="0.52"/><circle cx="185.9" cy="419.5" r="0.84"/><circle cx="168.5" cy="414.9" r="0.98"/><circle cx="181.9" cy="429.8" r="0.47"/><circle cx="170.0" cy="435.3" r="0.80"/><circle cx="167.0" cy="421.9" r="0.55"/><circle cx="175.4" cy="428.1" r="0.49"/><circle cx="166.9" cy="419.4" r="0.64"/><circle cx="173.6" cy="434.4" r="0.95"/><circle cx="159.0" cy="399.0" r="0.92"/><circle cx="170.9" cy="430.2" r="0.93"/><circle cx="157.9" cy="419.0" r="0.62"/><circle cx="178.1" cy="423.8" r="0.58"/><circle cx="166.5" cy="419.3" r="0.58"/><circle cx="154.1" cy="413.8" r="0.49"/><circle cx="166.3" cy="435.2" r="0.90"/><circle cx="149.1" cy="430.0" r="0.84"/><circle cx="174.6" cy="393.2" r="0.87"/><circle cx="154.6" cy="428.9" r="0.63"/><circle cx="161.3" cy="399.9" r="0.93"/><circle cx="155.7" cy="432.1" r="0.73"/><circle cx="152.8" cy="422.1" r="0.74"/><circle cx="148.1" cy="429.9" r="0.60"/><circle cx="147.9" cy="427.3" r="0.85"/><circle cx="162.0" cy="400.6" r="0.74"/><circle cx="169.9" cy="423.7" r="0.72"/><circle cx="169.1" cy="425.2" r="0.55"/><circle cx="154.0" cy="414.3" r="0.86"/><circle cx="178.3" cy="431.3" r="0.69"/><circle cx="174.8" cy="396.9" r="0.66"/><circle cx="149.6" cy="430.4" r="1.00"/><circle cx="173.1" cy="426.6" r="0.65"/><circle cx="178.0" cy="395.9" r="0.65"/><circle cx="160.7" cy="431.7" r="0.55"/><circle cx="153.2" cy="396.1" r="0.91"/><circle cx="159.3" cy="433.5" r="0.62"/><circle cx="179.6" cy="401.0" r="0.95"/><circle cx="185.0" cy="432.4" r="0.83"/><circle cx="182.0" cy="434.1" r="0.98"/><circle cx="157.7" cy="431.1" r="0.88"/><circle cx="160.5" cy="399.7" r="0.94"/><circle cx="165.4" cy="416.4" r="0.94"/><circle cx="165.9" cy="403.6" r="0.83"/><circle cx="167.8" cy="404.5" r="0.83"/><circle cx="182.3" cy="403.3" r="0.90"/><circle cx="176.4" cy="416.0" r="0.56"/><circle cx="172.9" cy="404.9" r="0.59"/><circle cx="180.3" cy="404.4" r="0.50"/><circle cx="180.0" cy="437.8" r="0.62"/><circle cx="162.8" cy="417.0" r="0.86"/><circle cx="147.5" cy="421.8" r="0.58"/><circle cx="183.2" cy="411.1" r="0.97"/><circle cx="164.6" cy="422.1" r="0.47"/><circle cx="154.9" cy="405.6" r="0.65"/><circle cx="153.7" cy="411.4" r="0.50"/><circle cx="169.1" cy="436.3" r="0.92"/><circle cx="171.3" cy="437.2" r="0.85"/><circle cx="171.7" cy="413.0" r="0.50"/><circle cx="181.8" cy="433.2" r="0.89"/><circle cx="173.9" cy="429.4" r="0.98"/><circle cx="184.9" cy="427.4" r="0.46"/><circle cx="183.9" cy="418.1" r="0.70"/><circle cx="163.8" cy="404.4" r="0.47"/><circle cx="171.1" cy="420.4" r="0.50"/><circle cx="183.0" cy="433.6" r="0.93"/><circle cx="168.0" cy="409.7" r="0.71"/><circle cx="161.5" cy="436.0" r="0.96"/><circle cx="182.0" cy="415.9" r="0.73"/><circle cx="173.8" cy="405.3" r="0.55"/><circle cx="185.4" cy="404.4" r="0.60"/><circle cx="166.2" cy="396.1" r="0.74"/><circle cx="153.2" cy="430.1" r="0.50"/><circle cx="178.3" cy="404.4" r="0.88"/><circle cx="178.2" cy="435.9" r="0.55"/><circle cx="185.4" cy="398.8" r="0.64"/><circle cx="147.3" cy="414.7" r="0.50"/><circle cx="168.7" cy="434.9" r="0.88"/><circle cx="172.3" cy="396.2" r="0.99"/><circle cx="161.2" cy="435.7" r="0.53"/><circle cx="158.7" cy="435.6" r="0.86"/><circle cx="154.3" cy="413.0" r="0.75"/><circle cx="156.8" cy="402.1" r="0.50"/><circle cx="166.9" cy="411.1" r="0.64"/><circle cx="165.7" cy="407.9" r="0.66"/><circle cx="176.8" cy="398.8" r="0.50"/><circle cx="164.4" cy="405.3" r="0.71"/><circle cx="180.5" cy="435.5" r="0.90"/><circle cx="182.9" cy="402.6" r="0.64"/><circle cx="151.4" cy="405.3" r="0.59"/><circle cx="156.4" cy="407.3" r="0.97"/><circle cx="167.1" cy="433.4" r="0.74"/><circle cx="176.2" cy="422.8" r="0.78"/><circle cx="183.1" cy="419.3" r="0.73"/><circle cx="155.9" cy="396.6" r="0.69"/><circle cx="162.8" cy="398.0" r="0.97"/><circle cx="147.7" cy="412.3" r="0.59"/><circle cx="162.9" cy="430.5" r="0.98"/><circle cx="162.5" cy="424.8" r="0.94"/><circle cx="158.3" cy="410.2" r="0.69"/><circle cx="179.6" cy="405.9" r="0.94"/><circle cx="154.2" cy="423.3" r="0.80"/><circle cx="148.3" cy="407.1" r="0.91"/><circle cx="162.7" cy="394.6" r="0.71"/><circle cx="168.1" cy="413.6" r="0.68"/><circle cx="183.6" cy="422.9" r="0.69"/><circle cx="164.4" cy="427.4" r="0.58"/><circle cx="165.8" cy="427.0" r="0.50"/><circle cx="152.8" cy="394.3" r="0.82"/><circle cx="178.2" cy="422.4" r="0.79"/><circle cx="148.2" cy="408.7" r="0.70"/><circle cx="160.1" cy="403.5" r="0.65"/><circle cx="155.9" cy="395.2" r="0.76"/><circle cx="148.0" cy="411.9" r="0.67"/><circle cx="178.6" cy="424.5" r="0.70"/><circle cx="147.2" cy="424.7" r="0.85"/><circle cx="171.9" cy="437.6" r="0.72"/><circle cx="162.4" cy="416.6" r="0.51"/><circle cx="171.4" cy="398.1" r="0.82"/><circle cx="170.9" cy="423.5" r="0.55"/><circle cx="174.8" cy="435.4" r="0.99"/><circle cx="176.8" cy="399.2" r="0.88"/><circle cx="153.9" cy="437.1" r="0.47"/><circle cx="147.7" cy="410.5" r="0.49"/><circle cx="184.1" cy="434.8" r="0.59"/><circle cx="180.9" cy="408.1" r="0.90"/><circle cx="151.9" cy="435.3" r="0.70"/><circle cx="156.2" cy="412.5" r="0.45"/><circle cx="148.5" cy="413.8" r="0.78"/><circle cx="185.9" cy="416.0" r="0.63"/><circle cx="157.2" cy="393.0" r="0.95"/><circle cx="174.3" cy="404.2" r="0.87"/><circle cx="173.9" cy="421.4" r="0.70"/><circle cx="180.9" cy="434.6" r="0.87"/><circle cx="154.2" cy="412.6" r="0.80"/><circle cx="184.1" cy="415.2" r="0.72"/><circle cx="149.7" cy="395.0" r="0.60"/></g>
<path d="M191,416 C181,413 173,405 172.7,394.5 C172.7,382 183,372 195.2,372 C208,372 217.7,382 217.7,394.5 C217.7,405 210,414 201,416.5 C201,419 202,421 204,422 L192,422 C192,420 192,418 191,416 Z" fill="#c08088" stroke="#2b2026" stroke-width="1.2"/>
<circle cx="195.2" cy="394.5" r="19.3" fill="#e2b9b4" stroke="#2b2026" stroke-width="0.8"/>
<clipPath id="cpOs"><path d="M186,389 C185,385 189,380 195,379 C203,377 212,382 213.5,391 C215,400 210,409 201,411 C194,412 187,409 185,404 L188,399 L183,398 L183,392 Z"/></clipPath>
<path d="M186,389 C185,385 189,380 195,379 C203,377 212,382 213.5,391 C215,400 210,409 201,411 C194,412 187,409 185,404 L188,399 L183,398 L183,392 Z" fill="url(#gOog2)" stroke="#2b2026" stroke-width="0.9"/>
<g clip-path="url(#cpOs)" fill="#dcd68c" fill-opacity="0.55" stroke="#22323a" stroke-width="0.5" stroke-opacity="0.8"><circle cx="184.2" cy="378.9" r="1.45"/><circle cx="187.2" cy="379.2" r="1.45"/><circle cx="190.6" cy="379.0" r="1.45"/><circle cx="194.2" cy="379.1" r="1.45"/><circle cx="197.4" cy="379.1" r="1.45"/><circle cx="201.0" cy="379.2" r="1.45"/><circle cx="204.1" cy="379.3" r="1.45"/><circle cx="207.6" cy="379.2" r="1.45"/><circle cx="211.2" cy="379.2" r="1.45"/><circle cx="214.4" cy="378.9" r="1.45"/><circle cx="185.5" cy="382.1" r="1.45"/><circle cx="189.1" cy="381.7" r="1.45"/><circle cx="192.3" cy="381.6" r="1.45"/><circle cx="195.7" cy="381.9" r="1.45"/><circle cx="199.3" cy="382.0" r="1.45"/><circle cx="202.4" cy="382.1" r="1.45"/><circle cx="206.4" cy="382.0" r="1.45"/><circle cx="209.6" cy="382.1" r="1.45"/><circle cx="212.7" cy="381.9" r="1.45"/><circle cx="183.7" cy="385.0" r="1.45"/><circle cx="187.4" cy="384.6" r="1.45"/><circle cx="190.8" cy="385.0" r="1.45"/><circle cx="194.2" cy="384.6" r="1.45"/><circle cx="197.9" cy="384.5" r="1.45"/><circle cx="201.2" cy="385.1" r="1.45"/><circle cx="204.6" cy="385.1" r="1.45"/><circle cx="207.8" cy="384.6" r="1.45"/><circle cx="211.2" cy="384.9" r="1.45"/><circle cx="214.8" cy="384.7" r="1.45"/><circle cx="186.0" cy="387.4" r="1.45"/><circle cx="189.1" cy="387.4" r="1.45"/><circle cx="192.4" cy="388.0" r="1.45"/><circle cx="195.7" cy="388.0" r="1.45"/><circle cx="199.5" cy="387.8" r="1.45"/><circle cx="202.4" cy="387.7" r="1.45"/><circle cx="206.2" cy="387.5" r="1.45"/><circle cx="209.4" cy="387.5" r="1.45"/><circle cx="213.1" cy="387.9" r="1.45"/><circle cx="184.3" cy="390.8" r="1.45"/><circle cx="187.4" cy="390.3" r="1.45"/><circle cx="190.8" cy="390.8" r="1.45"/><circle cx="194.4" cy="390.3" r="1.45"/><circle cx="197.3" cy="390.4" r="1.45"/><circle cx="201.3" cy="390.4" r="1.45"/><circle cx="204.3" cy="390.6" r="1.45"/><circle cx="208.0" cy="390.4" r="1.45"/><circle cx="211.1" cy="390.8" r="1.45"/><circle cx="214.4" cy="390.4" r="1.45"/><circle cx="185.4" cy="393.8" r="1.45"/><circle cx="188.9" cy="393.5" r="1.45"/><circle cx="192.4" cy="393.8" r="1.45"/><circle cx="196.0" cy="393.6" r="1.45"/><circle cx="199.3" cy="393.4" r="1.45"/><circle cx="202.9" cy="393.3" r="1.45"/><circle cx="206.2" cy="393.4" r="1.45"/><circle cx="209.4" cy="393.5" r="1.45"/><circle cx="212.7" cy="393.6" r="1.45"/><circle cx="183.7" cy="396.1" r="1.45"/><circle cx="187.2" cy="396.2" r="1.45"/><circle cx="191.0" cy="396.4" r="1.45"/><circle cx="194.3" cy="396.6" r="1.45"/><circle cx="197.4" cy="396.7" r="1.45"/><circle cx="200.9" cy="396.4" r="1.45"/><circle cx="204.4" cy="396.5" r="1.45"/><circle cx="208.0" cy="396.2" r="1.45"/><circle cx="211.4" cy="396.4" r="1.45"/><circle cx="214.5" cy="396.6" r="1.45"/><circle cx="185.9" cy="399.5" r="1.45"/><circle cx="189.0" cy="399.5" r="1.45"/><circle cx="192.7" cy="399.6" r="1.45"/><circle cx="196.1" cy="399.6" r="1.45"/><circle cx="199.3" cy="399.4" r="1.45"/><circle cx="202.9" cy="399.3" r="1.45"/><circle cx="206.1" cy="399.2" r="1.45"/><circle cx="209.7" cy="399.2" r="1.45"/><circle cx="213.0" cy="399.3" r="1.45"/><circle cx="184.1" cy="402.1" r="1.45"/><circle cx="187.1" cy="402.3" r="1.45"/><circle cx="190.6" cy="402.1" r="1.45"/><circle cx="194.4" cy="401.9" r="1.45"/><circle cx="197.8" cy="402.3" r="1.45"/><circle cx="201.0" cy="402.3" r="1.45"/><circle cx="204.1" cy="401.9" r="1.45"/><circle cx="207.9" cy="402.3" r="1.45"/><circle cx="211.3" cy="402.4" r="1.45"/><circle cx="214.5" cy="402.0" r="1.45"/><circle cx="186.0" cy="404.8" r="1.45"/><circle cx="189.1" cy="405.2" r="1.45"/><circle cx="192.8" cy="404.9" r="1.45"/><circle cx="196.0" cy="404.8" r="1.45"/><circle cx="199.3" cy="405.2" r="1.45"/><circle cx="202.9" cy="404.8" r="1.45"/><circle cx="206.2" cy="404.9" r="1.45"/><circle cx="209.4" cy="405.4" r="1.45"/><circle cx="213.1" cy="404.8" r="1.45"/><circle cx="183.7" cy="407.7" r="1.45"/><circle cx="187.6" cy="407.7" r="1.45"/><circle cx="191.0" cy="408.2" r="1.45"/><circle cx="194.4" cy="408.3" r="1.45"/><circle cx="197.7" cy="408.2" r="1.45"/><circle cx="201.0" cy="408.1" r="1.45"/><circle cx="204.1" cy="408.0" r="1.45"/><circle cx="208.1" cy="407.9" r="1.45"/><circle cx="211.3" cy="407.8" r="1.45"/><circle cx="214.6" cy="408.0" r="1.45"/><circle cx="185.9" cy="410.8" r="1.45"/><circle cx="189.1" cy="410.7" r="1.45"/><circle cx="192.5" cy="411.2" r="1.45"/><circle cx="195.8" cy="411.0" r="1.45"/><circle cx="199.3" cy="410.7" r="1.45"/><circle cx="202.8" cy="410.7" r="1.45"/><circle cx="206.2" cy="411.2" r="1.45"/><circle cx="209.4" cy="411.0" r="1.45"/><circle cx="212.8" cy="411.0" r="1.45"/></g>
<path d="M176,393.5 C180,393 184,393.5 187,394.5 L187,398 C183,398 180,399.5 177,401 Z" fill="#b9c48a" stroke="#2b2026" stroke-width="0.8"/>
<circle cx="200.2" cy="394.3" r="2.3" fill="#0c0c10"/>
<path d="M307.5,415.0 C307.6,417.1 308.9,425.7 308.2,427.5 C307.4,429.3 304.9,426.9 303.0,426.0 C301.1,425.1 298.6,423.1 297.0,422.2 C295.4,421.3 294.2,419.4 293.2,420.7 C292.2,421.9 290.5,427.9 291.0,429.7 C291.5,431.4 294.2,430.4 296.2,431.2 C298.2,431.9 301.0,432.8 303.0,434.2 C305.0,435.6 307.1,437.8 308.2,439.5 C309.3,441.2 309.8,443.3 309.7,444.7 C309.6,446.1 308.9,447.3 307.5,447.7 C306.1,448.1 304.0,447.8 301.5,447.0 C299.0,446.2 296.0,444.3 292.5,443.2 C289.0,442.1 284.2,440.9 280.5,440.2 C276.8,439.5 272.2,439.3 270.0,439.2 C267.8,439.1 267.9,438.4 267.0,439.5 C266.1,440.6 264.8,443.2 264.7,445.5 C264.6,447.8 264.3,451.4 266.2,453.0 C268.1,454.6 272.4,453.9 276.0,455.2 C279.6,456.4 284.0,458.6 288.0,460.5 C292.0,462.4 296.5,464.5 300.0,466.5 C303.5,468.5 306.4,470.5 309.0,472.5 C311.6,474.5 312.7,479.1 315.7,478.5 C318.7,477.9 325.9,471.7 327.0,468.7 C328.1,465.7 323.9,463.1 322.5,460.5 C321.1,457.9 319.3,456.0 318.7,453.0 C318.1,450.0 318.6,446.0 318.7,442.5 C318.8,439.0 319.6,435.5 319.5,432.0 C319.4,428.5 318.5,424.3 318.0,421.5 C317.5,418.7 316.8,416.1 316.5,415.0 Z" fill="url(#gHyph)" stroke="#2b2026" stroke-width="0.9" stroke-linejoin="round"/>
<path d="M292.5,389.5 C291.6,389.1 288.9,387.2 287.0,386.8 C285.1,386.4 283.2,386.6 281.0,387.0 C278.8,387.4 276.2,388.3 274.0,389.5 C271.8,390.7 269.6,392.2 268.0,394.0 C266.4,395.8 265.1,398.2 264.2,400.5 C263.3,402.8 262.8,405.5 262.6,408.0 C262.4,410.5 262.6,413.2 263.2,415.5 C263.8,417.8 264.7,420.1 266.0,422.0 C267.3,423.9 269.0,425.6 271.0,427.0 C273.0,428.4 275.5,429.6 278.0,430.3 C280.5,431.0 283.6,431.2 286.0,431.0 C288.4,430.8 291.0,430.4 292.5,429.3 C294.0,428.2 294.7,426.1 294.8,424.5 C294.9,422.9 294.5,420.7 293.3,419.8 C292.1,418.9 289.5,419.6 287.5,419.3 C285.5,419.0 283.2,418.8 281.5,418.0 C279.8,417.2 278.2,415.9 277.2,414.5 C276.2,413.1 275.6,411.2 275.6,409.5 C275.7,407.8 276.4,405.9 277.5,404.5 C278.6,403.1 280.2,401.9 282.0,401.0 C283.8,400.1 286.1,399.5 288.0,398.8 C289.9,398.1 292.6,397.3 293.5,397.0 Z" fill="url(#gAnth2)" stroke="#2b2026" stroke-width="1.1" stroke-linejoin="round"/>
<clipPath id="cpA2"><path d="M292.5,389.5 C291.6,389.1 288.9,387.2 287.0,386.8 C285.1,386.4 283.2,386.6 281.0,387.0 C278.8,387.4 276.2,388.3 274.0,389.5 C271.8,390.7 269.6,392.2 268.0,394.0 C266.4,395.8 265.1,398.2 264.2,400.5 C263.3,402.8 262.8,405.5 262.6,408.0 C262.4,410.5 262.6,413.2 263.2,415.5 C263.8,417.8 264.7,420.1 266.0,422.0 C267.3,423.9 269.0,425.6 271.0,427.0 C273.0,428.4 275.5,429.6 278.0,430.3 C280.5,431.0 283.6,431.2 286.0,431.0 C288.4,430.8 291.0,430.4 292.5,429.3 C294.0,428.2 294.7,426.1 294.8,424.5 C294.9,422.9 294.5,420.7 293.3,419.8 C292.1,418.9 289.5,419.6 287.5,419.3 C285.5,419.0 283.2,418.8 281.5,418.0 C279.8,417.2 278.2,415.9 277.2,414.5 C276.2,413.1 275.6,411.2 275.6,409.5 C275.7,407.8 276.4,405.9 277.5,404.5 C278.6,403.1 280.2,401.9 282.0,401.0 C283.8,400.1 286.1,399.5 288.0,398.8 C289.9,398.1 292.6,397.3 293.5,397.0 Z"/></clipPath>
<g clip-path="url(#cpA2)" fill="#4a3a30" opacity="0.75"><circle cx="271.0" cy="408.4" r="0.50"/><circle cx="273.2" cy="389.3" r="0.46"/><circle cx="271.4" cy="391.4" r="0.62"/><circle cx="286.5" cy="387.6" r="0.79"/><circle cx="266.5" cy="422.6" r="0.86"/><circle cx="269.0" cy="425.0" r="0.84"/><circle cx="264.5" cy="404.8" r="0.84"/><circle cx="292.5" cy="393.9" r="0.59"/><circle cx="287.6" cy="430.3" r="0.50"/><circle cx="265.0" cy="420.6" r="0.62"/><circle cx="274.8" cy="426.3" r="0.86"/><circle cx="283.8" cy="425.9" r="0.85"/><circle cx="288.7" cy="415.6" r="0.78"/><circle cx="264.0" cy="427.8" r="0.95"/><circle cx="273.6" cy="414.8" r="0.46"/><circle cx="278.5" cy="414.7" r="0.61"/><circle cx="275.7" cy="424.4" r="0.53"/><circle cx="277.0" cy="390.0" r="0.66"/><circle cx="291.1" cy="414.2" r="0.47"/><circle cx="290.3" cy="416.3" r="0.74"/><circle cx="271.5" cy="399.8" r="0.55"/><circle cx="282.5" cy="388.3" r="0.97"/><circle cx="265.4" cy="414.7" r="0.77"/><circle cx="274.0" cy="398.8" r="0.69"/><circle cx="272.9" cy="430.7" r="0.80"/><circle cx="279.1" cy="416.5" r="0.72"/><circle cx="266.9" cy="387.0" r="0.98"/><circle cx="289.9" cy="390.4" r="0.79"/><circle cx="287.9" cy="427.1" r="0.49"/><circle cx="266.4" cy="404.0" r="0.78"/><circle cx="264.7" cy="418.0" r="0.87"/><circle cx="276.7" cy="425.1" r="0.66"/><circle cx="289.5" cy="403.6" r="0.67"/><circle cx="274.4" cy="418.7" r="0.94"/><circle cx="264.4" cy="413.1" r="0.91"/><circle cx="284.8" cy="396.8" r="0.65"/><circle cx="291.2" cy="395.9" r="0.97"/><circle cx="274.9" cy="409.9" r="0.84"/><circle cx="284.5" cy="413.2" r="0.93"/><circle cx="283.1" cy="428.1" r="0.81"/><circle cx="281.4" cy="388.6" r="0.95"/><circle cx="269.6" cy="396.4" r="0.48"/><circle cx="282.5" cy="403.0" r="0.81"/><circle cx="288.8" cy="429.3" r="0.89"/><circle cx="289.7" cy="403.5" r="0.48"/><circle cx="287.4" cy="431.8" r="0.70"/><circle cx="291.7" cy="412.0" r="0.66"/><circle cx="289.5" cy="388.9" r="0.65"/><circle cx="285.0" cy="389.8" r="0.75"/><circle cx="274.8" cy="396.1" r="0.67"/><circle cx="286.5" cy="416.8" r="0.78"/><circle cx="287.6" cy="404.8" r="0.77"/><circle cx="265.3" cy="416.4" r="0.82"/><circle cx="282.7" cy="422.7" r="0.99"/><circle cx="285.9" cy="430.8" r="0.81"/><circle cx="271.2" cy="425.8" r="0.82"/><circle cx="282.7" cy="392.7" r="0.76"/><circle cx="273.2" cy="412.5" r="0.96"/><circle cx="274.6" cy="386.9" r="0.52"/><circle cx="279.8" cy="424.8" r="0.48"/><circle cx="275.6" cy="401.6" r="0.69"/><circle cx="282.7" cy="409.1" r="0.60"/><circle cx="290.7" cy="423.2" r="0.94"/><circle cx="266.2" cy="410.6" r="0.58"/><circle cx="265.2" cy="428.6" r="0.81"/><circle cx="277.1" cy="421.2" r="0.92"/><circle cx="277.4" cy="390.9" r="0.95"/><circle cx="278.7" cy="405.2" r="0.56"/><circle cx="279.2" cy="425.9" r="0.96"/><circle cx="266.7" cy="391.5" r="1.00"/><circle cx="279.3" cy="415.2" r="0.83"/><circle cx="275.6" cy="404.1" r="0.93"/><circle cx="282.6" cy="387.1" r="0.47"/><circle cx="289.7" cy="413.3" r="0.86"/><circle cx="278.5" cy="418.7" r="0.64"/><circle cx="274.1" cy="401.7" r="0.61"/><circle cx="293.3" cy="426.3" r="0.75"/><circle cx="263.4" cy="428.6" r="0.90"/><circle cx="283.1" cy="430.3" r="0.87"/><circle cx="282.0" cy="401.5" r="0.79"/><circle cx="275.9" cy="394.0" r="0.54"/><circle cx="265.5" cy="417.5" r="0.66"/><circle cx="294.6" cy="428.1" r="0.61"/><circle cx="265.4" cy="424.3" r="0.92"/><circle cx="274.2" cy="421.1" r="0.97"/><circle cx="276.7" cy="406.4" r="0.79"/><circle cx="289.9" cy="418.3" r="0.99"/><circle cx="266.7" cy="390.4" r="0.52"/><circle cx="293.0" cy="399.7" r="0.49"/><circle cx="267.0" cy="387.0" r="0.74"/><circle cx="283.0" cy="399.1" r="0.46"/><circle cx="263.3" cy="417.7" r="0.45"/><circle cx="269.9" cy="406.6" r="0.68"/><circle cx="292.7" cy="428.9" r="0.73"/><circle cx="282.3" cy="402.4" r="0.80"/><circle cx="263.9" cy="394.6" r="0.90"/><circle cx="277.1" cy="408.7" r="0.91"/><circle cx="283.5" cy="393.9" r="0.71"/><circle cx="290.2" cy="402.1" r="0.97"/><circle cx="268.4" cy="404.2" r="0.55"/><circle cx="271.3" cy="396.1" r="0.81"/><circle cx="286.7" cy="426.3" r="0.53"/><circle cx="294.9" cy="417.6" r="0.60"/><circle cx="284.2" cy="414.2" r="0.64"/><circle cx="271.0" cy="389.9" r="0.57"/><circle cx="290.3" cy="403.1" r="0.81"/><circle cx="276.8" cy="396.8" r="0.69"/><circle cx="269.4" cy="405.7" r="0.56"/><circle cx="266.3" cy="422.5" r="0.62"/><circle cx="284.6" cy="428.6" r="0.95"/><circle cx="289.5" cy="408.9" r="0.73"/><circle cx="262.6" cy="417.1" r="0.73"/><circle cx="273.3" cy="425.3" r="0.86"/><circle cx="288.0" cy="401.7" r="0.73"/><circle cx="287.7" cy="427.7" r="0.72"/><circle cx="285.7" cy="412.0" r="0.57"/><circle cx="290.8" cy="410.8" r="0.55"/><circle cx="281.2" cy="425.5" r="0.54"/><circle cx="267.5" cy="415.2" r="0.53"/><circle cx="287.2" cy="414.0" r="0.71"/><circle cx="276.9" cy="430.8" r="0.62"/><circle cx="280.7" cy="405.9" r="0.98"/><circle cx="274.6" cy="386.2" r="0.69"/><circle cx="280.0" cy="420.4" r="0.80"/><circle cx="291.3" cy="397.2" r="0.80"/><circle cx="289.5" cy="426.9" r="0.89"/><circle cx="283.8" cy="405.3" r="0.96"/><circle cx="286.5" cy="405.8" r="0.97"/><circle cx="291.1" cy="430.6" r="0.97"/><circle cx="293.2" cy="405.1" r="0.67"/><circle cx="294.2" cy="387.3" r="0.97"/><circle cx="289.2" cy="394.7" r="0.80"/><circle cx="274.5" cy="420.3" r="0.95"/><circle cx="286.8" cy="424.7" r="0.61"/><circle cx="278.5" cy="407.6" r="0.97"/><circle cx="269.1" cy="419.1" r="0.83"/><circle cx="273.5" cy="429.0" r="0.95"/><circle cx="270.5" cy="400.9" r="0.80"/><circle cx="266.3" cy="399.1" r="0.51"/><circle cx="285.4" cy="408.5" r="0.50"/><circle cx="289.6" cy="411.0" r="0.81"/><circle cx="269.9" cy="417.3" r="0.64"/><circle cx="294.4" cy="389.1" r="0.48"/><circle cx="274.9" cy="392.2" r="0.52"/><circle cx="287.0" cy="411.2" r="0.83"/><circle cx="267.8" cy="415.5" r="0.87"/><circle cx="264.8" cy="394.1" r="0.70"/><circle cx="272.8" cy="424.9" r="0.76"/><circle cx="277.5" cy="404.0" r="0.54"/><circle cx="268.2" cy="398.6" r="0.46"/><circle cx="267.5" cy="413.0" r="0.73"/><circle cx="278.4" cy="411.0" r="0.77"/><circle cx="295.0" cy="410.0" r="0.87"/><circle cx="272.0" cy="423.1" r="0.74"/><circle cx="290.4" cy="430.1" r="0.56"/><circle cx="291.4" cy="415.2" r="0.94"/><circle cx="263.6" cy="424.6" r="0.86"/><circle cx="290.2" cy="399.0" r="0.63"/><circle cx="283.5" cy="402.3" r="0.75"/><circle cx="289.5" cy="403.3" r="1.00"/><circle cx="291.4" cy="419.8" r="0.92"/><circle cx="262.6" cy="414.6" r="0.95"/><circle cx="273.2" cy="413.8" r="0.50"/><circle cx="287.1" cy="396.2" r="0.99"/><circle cx="282.1" cy="388.3" r="0.74"/><circle cx="266.1" cy="400.9" r="0.82"/><circle cx="264.8" cy="424.2" r="0.83"/><circle cx="284.3" cy="400.9" r="0.51"/><circle cx="279.6" cy="416.8" r="0.97"/><circle cx="283.8" cy="420.3" r="0.70"/></g>
<path d="M307,413.5 C297,411 290,402 290,391.5 C290,379 300.5,369.5 313.5,369.5 C326,369.5 336.7,379 336.7,391.5 C336.7,402 329,410 320,413.5 C318,417 310,418 307,413.5 Z" fill="#c08088" stroke="#2b2026" stroke-width="1.2"/>
<circle cx="313.3" cy="390.8" r="21" fill="url(#gOog)" stroke="#2b2026" stroke-width="1"/>
<g fill="#18242f" opacity="0.85"><circle cx="305.5" cy="401.3" r="0.64"/><circle cx="300.8" cy="389.8" r="0.68"/><circle cx="319.6" cy="391.7" r="0.98"/><circle cx="325.4" cy="381.8" r="0.74"/><circle cx="300.9" cy="406.0" r="0.66"/><circle cx="307.4" cy="376.5" r="0.87"/><circle cx="302.4" cy="400.6" r="0.81"/><circle cx="300.3" cy="380.8" r="0.88"/><circle cx="314.3" cy="405.7" r="0.74"/><circle cx="300.9" cy="381.0" r="0.72"/><circle cx="294.7" cy="397.6" r="0.89"/><circle cx="296.4" cy="385.7" r="0.96"/><circle cx="297.0" cy="389.1" r="0.84"/><circle cx="316.7" cy="380.1" r="0.58"/><circle cx="306.3" cy="401.2" r="0.45"/><circle cx="317.0" cy="394.4" r="0.47"/><circle cx="317.0" cy="373.2" r="0.76"/><circle cx="320.3" cy="384.1" r="0.52"/><circle cx="296.7" cy="385.4" r="0.99"/><circle cx="306.6" cy="391.2" r="0.89"/><circle cx="314.8" cy="393.4" r="0.70"/><circle cx="303.1" cy="393.4" r="0.83"/><circle cx="330.4" cy="381.2" r="0.82"/><circle cx="309.4" cy="375.8" r="0.88"/><circle cx="302.0" cy="384.7" r="0.94"/><circle cx="301.7" cy="387.9" r="0.96"/><circle cx="323.9" cy="377.2" r="0.64"/><circle cx="312.3" cy="399.9" r="0.92"/><circle cx="321.7" cy="373.1" r="0.88"/><circle cx="306.5" cy="405.8" r="0.71"/><circle cx="299.3" cy="378.6" r="0.62"/><circle cx="300.2" cy="382.6" r="0.70"/><circle cx="297.9" cy="384.9" r="0.47"/><circle cx="306.8" cy="385.2" r="0.68"/><circle cx="320.8" cy="391.0" r="0.66"/><circle cx="300.4" cy="402.2" r="0.85"/><circle cx="297.2" cy="400.7" r="0.79"/><circle cx="295.9" cy="398.7" r="0.92"/><circle cx="309.5" cy="385.6" r="0.99"/><circle cx="296.4" cy="390.0" r="0.62"/><circle cx="298.2" cy="379.0" r="0.85"/><circle cx="303.5" cy="391.5" r="0.45"/><circle cx="296.4" cy="384.8" r="0.49"/><circle cx="301.9" cy="406.8" r="0.80"/><circle cx="308.2" cy="380.2" r="0.62"/><circle cx="308.3" cy="380.1" r="0.68"/><circle cx="298.0" cy="396.9" r="0.46"/><circle cx="305.4" cy="375.1" r="0.86"/><circle cx="314.3" cy="389.5" r="0.56"/><circle cx="317.4" cy="409.3" r="0.98"/><circle cx="300.0" cy="378.9" r="0.62"/><circle cx="307.0" cy="379.4" r="0.68"/><circle cx="314.1" cy="371.2" r="0.76"/><circle cx="308.1" cy="377.8" r="0.48"/><circle cx="325.9" cy="396.3" r="0.54"/><circle cx="294.0" cy="394.4" r="0.95"/><circle cx="306.2" cy="377.2" r="0.90"/><circle cx="294.9" cy="386.4" r="0.62"/><circle cx="297.8" cy="388.4" r="0.76"/><circle cx="305.0" cy="381.3" r="0.94"/><circle cx="307.7" cy="406.7" r="0.95"/><circle cx="296.7" cy="394.7" r="0.50"/><circle cx="325.0" cy="375.3" r="0.50"/><circle cx="307.3" cy="396.7" r="0.77"/><circle cx="319.9" cy="397.5" r="0.69"/><circle cx="309.2" cy="376.1" r="0.88"/><circle cx="312.2" cy="373.6" r="0.80"/><circle cx="315.7" cy="394.0" r="0.85"/><circle cx="294.5" cy="385.0" r="0.77"/><circle cx="299.3" cy="383.3" r="0.58"/><circle cx="295.4" cy="392.6" r="0.90"/><circle cx="305.2" cy="393.5" r="0.88"/><circle cx="299.0" cy="402.0" r="0.87"/><circle cx="311.7" cy="404.4" r="0.94"/><circle cx="305.0" cy="377.8" r="0.80"/><circle cx="319.4" cy="399.0" r="0.92"/><circle cx="327.7" cy="383.1" r="0.83"/><circle cx="317.1" cy="373.0" r="0.89"/><circle cx="296.1" cy="386.2" r="0.47"/><circle cx="330.8" cy="383.6" r="0.78"/><circle cx="298.8" cy="393.7" r="0.59"/><circle cx="313.1" cy="374.5" r="0.78"/><circle cx="320.2" cy="383.4" r="0.66"/><circle cx="307.7" cy="383.1" r="0.78"/><circle cx="309.7" cy="380.0" r="0.98"/><circle cx="310.7" cy="410.6" r="0.83"/><circle cx="300.9" cy="391.2" r="0.87"/><circle cx="307.9" cy="387.2" r="0.96"/><circle cx="323.7" cy="377.0" r="0.80"/><circle cx="320.0" cy="384.1" r="1.00"/><circle cx="308.9" cy="402.2" r="0.83"/><circle cx="296.5" cy="395.7" r="0.74"/><circle cx="318.8" cy="371.8" r="0.89"/><circle cx="311.8" cy="373.1" r="0.78"/><circle cx="302.7" cy="390.1" r="1.00"/><circle cx="299.1" cy="379.0" r="0.63"/><circle cx="300.9" cy="376.9" r="0.55"/><circle cx="294.4" cy="389.7" r="0.85"/><circle cx="310.8" cy="399.4" r="0.93"/><circle cx="303.1" cy="379.9" r="0.86"/><circle cx="320.4" cy="380.8" r="0.85"/><circle cx="309.6" cy="380.6" r="0.80"/><circle cx="317.8" cy="398.0" r="0.62"/><circle cx="316.5" cy="405.6" r="0.46"/><circle cx="325.2" cy="384.5" r="0.95"/><circle cx="310.2" cy="373.9" r="0.55"/><circle cx="295.5" cy="386.2" r="0.54"/><circle cx="317.9" cy="371.9" r="0.63"/><circle cx="297.9" cy="385.0" r="0.89"/><circle cx="316.7" cy="389.7" r="0.83"/><circle cx="309.4" cy="373.6" r="0.75"/><circle cx="301.4" cy="375.2" r="0.63"/><circle cx="300.9" cy="378.1" r="0.60"/><circle cx="330.6" cy="390.6" r="0.55"/><circle cx="318.6" cy="403.1" r="0.56"/><circle cx="308.9" cy="372.9" r="0.59"/><circle cx="320.2" cy="404.7" r="0.79"/><circle cx="303.7" cy="376.6" r="0.62"/><circle cx="309.5" cy="406.0" r="0.62"/><circle cx="301.8" cy="399.2" r="0.66"/><circle cx="299.3" cy="386.9" r="0.69"/><circle cx="316.6" cy="382.9" r="0.95"/><circle cx="323.2" cy="383.5" r="0.85"/><circle cx="307.8" cy="406.8" r="0.49"/><circle cx="305.9" cy="385.6" r="0.90"/><circle cx="297.0" cy="392.1" r="0.62"/><circle cx="316.5" cy="400.9" r="0.63"/><circle cx="293.7" cy="388.7" r="0.61"/><circle cx="305.0" cy="400.8" r="0.63"/><circle cx="312.4" cy="405.4" r="0.97"/><circle cx="305.0" cy="374.9" r="0.80"/><circle cx="315.7" cy="373.7" r="0.93"/><circle cx="317.0" cy="390.2" r="0.96"/><circle cx="297.8" cy="398.9" r="0.73"/><circle cx="321.4" cy="394.3" r="0.45"/><circle cx="304.7" cy="376.3" r="0.73"/><circle cx="301.7" cy="379.2" r="0.87"/><circle cx="301.3" cy="383.4" r="0.67"/><circle cx="311.3" cy="391.9" r="0.75"/><circle cx="320.2" cy="383.2" r="0.94"/><circle cx="295.6" cy="382.4" r="0.96"/><circle cx="312.4" cy="402.6" r="0.80"/><circle cx="305.7" cy="392.4" r="0.92"/><circle cx="305.3" cy="378.7" r="0.80"/><circle cx="303.2" cy="401.8" r="0.75"/><circle cx="295.8" cy="392.8" r="0.84"/><circle cx="306.8" cy="373.3" r="0.58"/><circle cx="300.6" cy="384.2" r="0.70"/><circle cx="308.0" cy="384.4" r="0.63"/><circle cx="298.9" cy="381.4" r="0.70"/></g>
<g fill="#1c2a36" opacity="0.70"><circle cx="310.5" cy="389.3" r="0.58"/><circle cx="311.0" cy="405.7" r="0.38"/><circle cx="316.5" cy="384.5" r="0.69"/><circle cx="319.7" cy="387.3" r="0.56"/><circle cx="318.3" cy="402.2" r="0.64"/><circle cx="320.2" cy="397.2" r="0.33"/><circle cx="326.4" cy="395.4" r="0.37"/><circle cx="325.2" cy="400.7" r="0.42"/><circle cx="311.1" cy="398.9" r="0.64"/><circle cx="314.2" cy="403.8" r="0.67"/><circle cx="308.3" cy="387.3" r="0.36"/><circle cx="312.2" cy="385.5" r="0.46"/><circle cx="321.6" cy="378.0" r="0.41"/><circle cx="310.3" cy="397.4" r="0.42"/><circle cx="310.5" cy="391.1" r="0.35"/><circle cx="321.5" cy="398.3" r="0.51"/><circle cx="311.6" cy="400.5" r="0.61"/><circle cx="318.0" cy="380.8" r="0.65"/><circle cx="328.2" cy="391.1" r="0.57"/><circle cx="307.3" cy="396.9" r="0.40"/><circle cx="316.7" cy="384.0" r="0.53"/><circle cx="312.9" cy="376.8" r="0.67"/><circle cx="319.2" cy="396.4" r="0.41"/><circle cx="321.7" cy="380.2" r="0.59"/><circle cx="305.3" cy="395.6" r="0.69"/><circle cx="307.8" cy="397.6" r="0.56"/><circle cx="326.0" cy="379.5" r="0.51"/><circle cx="320.8" cy="392.3" r="0.31"/><circle cx="328.8" cy="391.2" r="0.45"/><circle cx="328.1" cy="398.8" r="0.54"/><circle cx="301.4" cy="390.1" r="0.34"/><circle cx="304.4" cy="394.7" r="0.49"/><circle cx="318.9" cy="404.8" r="0.64"/><circle cx="328.4" cy="390.6" r="0.38"/></g>
<circle cx="304.2" cy="215.6" r="12.2" fill="url(#gEnc)" stroke="#2b2026" stroke-width="1.8"/>
<g fill="#3a2a3a" opacity="0.75"><circle cx="304.5" cy="219.0" r="0.50"/><circle cx="305.8" cy="217.9" r="0.50"/><circle cx="312.5" cy="210.9" r="0.68"/><circle cx="305.6" cy="223.3" r="0.44"/><circle cx="305.8" cy="218.7" r="0.41"/><circle cx="312.9" cy="211.3" r="0.70"/><circle cx="305.7" cy="211.1" r="0.45"/><circle cx="297.8" cy="209.0" r="0.73"/><circle cx="306.5" cy="213.4" r="0.60"/><circle cx="300.6" cy="208.9" r="0.39"/><circle cx="301.0" cy="216.1" r="0.77"/><circle cx="309.5" cy="209.7" r="0.45"/><circle cx="311.0" cy="211.2" r="0.74"/><circle cx="308.6" cy="209.4" r="0.51"/><circle cx="298.5" cy="211.5" r="0.38"/><circle cx="300.9" cy="224.7" r="0.32"/><circle cx="312.3" cy="218.0" r="0.44"/><circle cx="297.0" cy="214.0" r="0.47"/><circle cx="308.9" cy="215.5" r="0.51"/><circle cx="306.7" cy="223.7" r="0.44"/><circle cx="298.5" cy="222.9" r="0.46"/><circle cx="294.7" cy="211.9" r="0.35"/></g>
<path d="M305.6,246.6 C308.5,244.3 311.8,243.4 315,243.4 C319,243.6 322.5,245.2 326.3,245.7 C329.5,246 332.5,245.3 335.7,245.7 C337.8,246 339.8,246.5 341.3,247.5 C342.5,248.3 342.8,249.5 342.2,250.3 C341,251.8 339.2,252.3 337.5,253.2 C334.8,254.8 332.2,256.6 330,258.8 C328,261 327,263.6 325.3,265.4 C321.5,267 317,267 313.1,265.9 C309.5,265.2 306,263.8 303.8,261.6 C301.8,259.5 300.8,256.8 301,254.1 C301.3,251 303.2,248.4 305.6,246.6 Z" fill="url(#gZoo)" stroke="#2b2026" stroke-width="1.4"/>
<g fill="#3a2a3a" opacity="0.70"><circle cx="317.6" cy="265.7" r="0.36"/><circle cx="315.1" cy="251.9" r="0.42"/><circle cx="321.0" cy="255.0" r="0.62"/><circle cx="308.8" cy="256.9" r="0.55"/><circle cx="319.6" cy="264.4" r="0.34"/><circle cx="316.2" cy="256.5" r="0.43"/><circle cx="307.3" cy="260.7" r="0.49"/><circle cx="320.2" cy="258.7" r="0.80"/><circle cx="324.0" cy="258.3" r="0.49"/><circle cx="312.6" cy="249.6" r="0.65"/><circle cx="307.1" cy="255.1" r="0.75"/><circle cx="312.4" cy="253.0" r="0.33"/><circle cx="323.3" cy="252.4" r="0.40"/><circle cx="323.9" cy="252.2" r="0.66"/><circle cx="320.3" cy="251.0" r="0.48"/><circle cx="318.9" cy="252.2" r="0.68"/><circle cx="323.5" cy="260.3" r="0.65"/><circle cx="325.6" cy="251.9" r="0.55"/><circle cx="317.4" cy="259.0" r="0.56"/><circle cx="313.1" cy="254.8" r="0.75"/><circle cx="306.8" cy="254.6" r="0.41"/><circle cx="316.0" cy="256.2" r="0.47"/><circle cx="315.2" cy="262.1" r="0.49"/><circle cx="321.2" cy="246.0" r="0.39"/><circle cx="312.4" cy="257.7" r="0.63"/><circle cx="320.9" cy="254.2" r="0.68"/><circle cx="315.6" cy="256.2" r="0.68"/><circle cx="313.5" cy="258.8" r="0.52"/><circle cx="316.8" cy="262.0" r="0.52"/><circle cx="308.7" cy="259.2" r="0.44"/></g>
<circle cx="322.5" cy="254" r="1.8" fill="#f6d0a8" opacity="0.95"/><circle cx="311" cy="259" r="1.1" fill="#f6dcc0" opacity="0.8"/>
<path d="M323.5,266 C323.5,270 321.5,274 319.7,277.5 C317.5,280.5 314,282.5 311.3,284" fill="none" stroke="#222" stroke-width="1.1"/>
<path d="M323.5,266 C325,267.3 326,267.5 327.2,267.2 C330,266.8 333,267 335.7,266.3 C339,265.8 342,264.5 344,262.5" fill="none" stroke="#222" stroke-width="1.1"/>
<path d="M329.5,139 C328.5,133 327,128.5 325.3,124.5" fill="none" stroke="#2b2026" stroke-width="2.8" stroke-linecap="round" stroke-linejoin="round"/>
<path d="M329.5,139 C328.5,133 327,128.5 325.3,124.5" fill="none" stroke="#f4d4a8" stroke-width="1.5" stroke-linecap="round" stroke-linejoin="round"/>
<path d="M332,137 C335.5,132.5 338.5,128.5 341,124.5" fill="none" stroke="#2b2026" stroke-width="2.8" stroke-linecap="round" stroke-linejoin="round"/>
<path d="M332,137 C335.5,132.5 338.5,128.5 341,124.5" fill="none" stroke="#f4d4a8" stroke-width="1.5" stroke-linecap="round" stroke-linejoin="round"/>
<path d="M319,164 C323,157.5 327,150 329.5,143 C331.5,135 333.5,125 336,114.5" fill="none" stroke="#2b2026" stroke-width="3.6" stroke-linecap="round" stroke-linejoin="round"/>
<path d="M319,164 C323,157.5 327,150 329.5,143 C331.5,135 333.5,125 336,114.5" fill="none" stroke="url(#gT2)" stroke-width="2.2" stroke-linecap="round" stroke-linejoin="round"/>
<path d="M308.7,161.3 C312,161.3 315,162.5 317.3,164.2 C318.5,162.8 319.5,161.5 320.5,160 L323.8,162.2 C322.8,164 321.8,165.8 320.6,167.5 C321.6,169.8 322.1,172.2 322.1,174.7 C322.1,182.1 316.1,188.1 308.7,188.1 C301.3,188.1 295.3,182.1 295.3,174.7 C295.3,167.3 301.3,161.3 308.7,161.3 Z" fill="url(#gPink)" stroke="#2b2026" stroke-width="1.3"/>
<g fill="#2a1730" opacity="0.85"><circle cx="310.8" cy="180.6" r="0.81"/><circle cx="317.1" cy="176.1" r="0.65"/><circle cx="308.5" cy="163.4" r="0.60"/><circle cx="306.9" cy="164.3" r="0.72"/><circle cx="318.1" cy="168.1" r="0.88"/><circle cx="303.8" cy="167.2" r="0.82"/><circle cx="311.8" cy="164.7" r="0.89"/><circle cx="303.1" cy="169.0" r="0.73"/><circle cx="319.6" cy="173.9" r="0.89"/><circle cx="305.9" cy="168.2" r="0.72"/><circle cx="312.1" cy="165.4" r="0.71"/><circle cx="310.0" cy="169.5" r="0.58"/><circle cx="309.7" cy="165.4" r="0.55"/><circle cx="307.5" cy="171.3" r="0.44"/><circle cx="316.7" cy="168.2" r="0.50"/><circle cx="310.3" cy="169.5" r="0.75"/><circle cx="309.0" cy="167.1" r="0.57"/><circle cx="308.4" cy="171.0" r="0.58"/><circle cx="313.2" cy="166.4" r="0.86"/><circle cx="308.7" cy="171.9" r="0.44"/><circle cx="300.1" cy="176.1" r="0.74"/><circle cx="318.4" cy="170.0" r="1.00"/><circle cx="318.7" cy="174.4" r="0.48"/><circle cx="313.0" cy="172.6" r="0.79"/><circle cx="310.4" cy="174.4" r="0.53"/><circle cx="317.3" cy="181.8" r="0.68"/><circle cx="319.7" cy="174.2" r="0.59"/><circle cx="318.0" cy="174.7" r="0.56"/><circle cx="310.5" cy="181.3" r="0.52"/><circle cx="316.8" cy="174.5" r="0.52"/><circle cx="299.6" cy="172.4" r="0.59"/><circle cx="302.0" cy="174.0" r="0.62"/><circle cx="306.7" cy="172.3" r="0.67"/><circle cx="315.7" cy="176.2" r="0.61"/><circle cx="308.2" cy="171.7" r="0.60"/><circle cx="312.9" cy="168.3" r="0.62"/><circle cx="312.3" cy="170.5" r="0.63"/><circle cx="315.3" cy="167.6" r="0.79"/><circle cx="307.8" cy="168.5" r="0.78"/><circle cx="309.6" cy="173.2" r="0.36"/><circle cx="302.7" cy="167.4" r="0.58"/><circle cx="303.4" cy="166.5" r="0.69"/><circle cx="314.2" cy="164.8" r="0.70"/><circle cx="314.2" cy="167.4" r="0.89"/><circle cx="312.5" cy="172.1" r="0.45"/><circle cx="303.7" cy="165.9" r="0.51"/><circle cx="309.7" cy="168.4" r="0.72"/><circle cx="301.6" cy="167.3" r="0.75"/><circle cx="308.5" cy="172.9" r="0.36"/><circle cx="313.1" cy="176.8" r="0.59"/><circle cx="311.9" cy="171.5" r="0.63"/><circle cx="310.8" cy="167.4" r="0.59"/></g>
<path d="M394.5,112 C396.5,108 398.5,104.5 400,101.5" fill="none" stroke="#2b2026" stroke-width="2.8" stroke-linecap="round" stroke-linejoin="round"/>
<path d="M394.5,112 C396.5,108 398.5,104.5 400,101.5" fill="none" stroke="#f4d4a8" stroke-width="1.5" stroke-linecap="round" stroke-linejoin="round"/>
<path d="M384.5,153 C387.5,145 390.5,136 391.8,127 C392.8,118 392.4,109 393.2,100.5" fill="none" stroke="#2b2026" stroke-width="3.8" stroke-linecap="round" stroke-linejoin="round"/>
<path d="M384.5,153 C387.5,145 390.5,136 391.8,127 C392.8,118 392.4,109 393.2,100.5" fill="none" stroke="url(#gT3)" stroke-width="2.4" stroke-linecap="round" stroke-linejoin="round"/>
<path d="M373,157.3 C377,156.5 380.5,155 382.3,151 L387.6,153.5 C387.4,157 389.5,160 392.5,163 C399,170 400.5,183 394.5,193.5 C389,203 377,205.8 366.8,203.4 C366.3,206.5 364.8,209.5 362.8,212.3 L358.6,209.7 C360.5,207 361.5,204 361.2,200.8 C352,195.5 349,184.5 352.5,174 C355.8,164.5 364,158.5 373,157.3 Z" fill="url(#gPink)" stroke="#2b2026" stroke-width="1.3"/>
<g fill="#2a1730" opacity="0.85"><circle cx="368.5" cy="179.2" r="0.94"/><circle cx="378.3" cy="178.2" r="0.75"/><circle cx="378.2" cy="195.9" r="0.75"/><circle cx="375.4" cy="167.9" r="0.91"/><circle cx="387.3" cy="180.3" r="1.04"/><circle cx="355.3" cy="179.8" r="1.09"/><circle cx="386.0" cy="167.9" r="0.83"/><circle cx="373.2" cy="159.9" r="1.36"/><circle cx="376.6" cy="162.1" r="1.02"/><circle cx="371.5" cy="162.4" r="0.73"/><circle cx="375.2" cy="159.8" r="1.06"/><circle cx="371.8" cy="159.8" r="1.30"/><circle cx="392.7" cy="170.1" r="1.23"/><circle cx="382.3" cy="170.4" r="0.88"/><circle cx="363.3" cy="168.1" r="0.95"/><circle cx="375.8" cy="159.3" r="1.25"/><circle cx="381.3" cy="162.7" r="0.91"/><circle cx="383.7" cy="175.1" r="0.78"/><circle cx="368.0" cy="161.3" r="1.10"/><circle cx="378.3" cy="161.9" r="0.71"/><circle cx="389.2" cy="183.1" r="1.13"/><circle cx="381.5" cy="166.6" r="0.67"/><circle cx="394.0" cy="177.0" r="0.74"/><circle cx="362.3" cy="171.4" r="0.95"/><circle cx="366.4" cy="163.6" r="0.98"/><circle cx="358.9" cy="173.9" r="0.92"/><circle cx="372.3" cy="180.4" r="0.48"/><circle cx="380.5" cy="169.5" r="1.04"/><circle cx="375.7" cy="170.3" r="0.88"/><circle cx="383.4" cy="162.3" r="1.17"/><circle cx="381.4" cy="164.4" r="1.16"/><circle cx="378.5" cy="160.5" r="1.02"/><circle cx="381.5" cy="180.1" r="0.61"/><circle cx="392.1" cy="183.8" r="0.65"/><circle cx="367.5" cy="184.0" r="0.90"/><circle cx="387.3" cy="172.4" r="0.74"/><circle cx="390.3" cy="180.8" r="1.03"/><circle cx="381.9" cy="172.4" r="1.03"/><circle cx="389.6" cy="169.3" r="0.66"/><circle cx="391.6" cy="174.3" r="0.71"/><circle cx="384.3" cy="168.7" r="1.04"/><circle cx="376.3" cy="166.0" r="0.87"/><circle cx="375.0" cy="174.9" r="0.61"/><circle cx="375.8" cy="176.6" r="0.58"/><circle cx="362.9" cy="168.7" r="0.60"/><circle cx="375.3" cy="173.5" r="1.01"/><circle cx="371.8" cy="168.1" r="0.58"/><circle cx="363.1" cy="163.7" r="1.01"/><circle cx="376.9" cy="166.5" r="1.15"/><circle cx="382.4" cy="169.4" r="0.59"/><circle cx="390.6" cy="167.1" r="0.73"/><circle cx="364.5" cy="168.8" r="0.67"/><circle cx="387.7" cy="180.2" r="0.98"/><circle cx="390.6" cy="173.3" r="1.21"/><circle cx="383.0" cy="197.5" r="0.65"/><circle cx="378.0" cy="182.5" r="0.48"/><circle cx="384.5" cy="181.7" r="0.52"/><circle cx="374.8" cy="173.7" r="0.88"/><circle cx="376.6" cy="193.5" r="0.59"/><circle cx="380.4" cy="189.6" r="0.80"/><circle cx="385.6" cy="171.7" r="0.95"/><circle cx="375.8" cy="177.3" r="0.76"/><circle cx="369.4" cy="165.9" r="0.66"/><circle cx="395.6" cy="175.1" r="1.33"/><circle cx="360.6" cy="169.1" r="0.74"/><circle cx="373.2" cy="159.2" r="0.98"/><circle cx="367.5" cy="179.8" r="0.61"/><circle cx="382.0" cy="177.8" r="0.55"/><circle cx="384.0" cy="172.3" r="0.80"/><circle cx="390.5" cy="165.3" r="1.30"/><circle cx="371.7" cy="160.5" r="0.81"/><circle cx="390.5" cy="169.8" r="0.91"/><circle cx="394.5" cy="181.0" r="1.12"/><circle cx="379.4" cy="167.8" r="0.82"/><circle cx="380.5" cy="179.6" r="0.68"/><circle cx="380.4" cy="193.8" r="0.79"/><circle cx="376.6" cy="159.5" r="0.66"/><circle cx="389.4" cy="178.2" r="0.73"/><circle cx="384.2" cy="166.3" r="1.04"/><circle cx="395.5" cy="176.9" r="1.33"/><circle cx="380.1" cy="167.6" r="0.58"/><circle cx="388.8" cy="176.3" r="0.72"/><circle cx="368.0" cy="163.2" r="1.25"/><circle cx="376.0" cy="160.5" r="0.79"/><circle cx="389.5" cy="189.1" r="0.66"/><circle cx="357.8" cy="170.6" r="0.71"/><circle cx="369.2" cy="170.7" r="1.10"/><circle cx="375.4" cy="192.3" r="0.86"/><circle cx="361.3" cy="165.5" r="0.74"/><circle cx="375.0" cy="183.7" r="0.68"/><circle cx="387.9" cy="170.6" r="0.83"/><circle cx="366.8" cy="186.3" r="0.74"/><circle cx="382.2" cy="165.6" r="1.10"/><circle cx="371.8" cy="196.9" r="0.60"/><circle cx="376.2" cy="177.4" r="0.65"/><circle cx="375.5" cy="176.9" r="0.65"/><circle cx="388.9" cy="177.8" r="0.59"/><circle cx="384.6" cy="186.4" r="1.07"/><circle cx="378.3" cy="182.1" r="0.84"/><circle cx="357.5" cy="178.0" r="0.98"/></g>
<path d="M345,298.5 C347,297.5 349,297.6 351,297.7 C354,296.2 357,295 360.3,295 C363.8,295 367,296 369.6,297.7 C373.2,300 376.2,303 379,306 C382.2,309.2 385.3,312.4 388.3,315.4 C390.5,317.2 393,318.3 395.7,319 L382.7,326 C382.8,323.8 382.5,321.8 381.8,320 C379.9,316.9 377.6,314.2 375.2,311.7 C373,308.5 370.7,305.3 367.8,303.3 C364.8,301 361.3,300 358.4,300.5 C356,301.3 353.8,303 352,305 Z" fill="#a6d4be" stroke="#3f6f66" stroke-width="0.9"/>
<path d="M411.5,361.5 C413,364 414.5,366.5 416.5,368.5 L419.5,365.5 C417.5,363.8 416.5,361 416,358.5 Z" fill="#8cc9b8" stroke="#35524c" stroke-width="0.9"/>
<circle cx="399" cy="340.6" r="22.7" fill="url(#gSpor)" stroke="#3f6f66" stroke-width="1"/>
<path d="M412,322 A22.7,22.7 0 0 1 412,359.2" fill="none" stroke="#1f3a36" stroke-width="1.3"/>
<g fill="#3f7a76" opacity="0.75"><circle cx="395.8" cy="333.4" r="0.32"/><circle cx="394.9" cy="334.0" r="0.38"/><circle cx="381.1" cy="351.5" r="0.26"/><circle cx="411.4" cy="335.7" r="0.35"/><circle cx="385.4" cy="356.0" r="0.32"/><circle cx="405.6" cy="330.0" r="0.50"/><circle cx="410.5" cy="328.1" r="0.49"/><circle cx="399.8" cy="344.8" r="0.35"/><circle cx="401.9" cy="329.3" r="0.44"/><circle cx="382.5" cy="335.7" r="0.31"/><circle cx="386.6" cy="323.7" r="0.39"/><circle cx="392.3" cy="337.9" r="0.54"/><circle cx="405.8" cy="346.9" r="0.46"/><circle cx="401.6" cy="329.8" r="0.43"/><circle cx="396.3" cy="337.5" r="0.29"/><circle cx="411.3" cy="339.4" r="0.36"/><circle cx="397.2" cy="349.2" r="0.29"/><circle cx="396.3" cy="349.2" r="0.46"/><circle cx="379.8" cy="337.6" r="0.41"/><circle cx="391.5" cy="342.2" r="0.48"/><circle cx="409.0" cy="349.9" r="0.36"/><circle cx="397.2" cy="321.6" r="0.43"/><circle cx="407.5" cy="334.1" r="0.49"/><circle cx="392.0" cy="346.8" r="0.35"/><circle cx="397.5" cy="349.4" r="0.39"/><circle cx="394.8" cy="354.4" r="0.25"/><circle cx="385.7" cy="353.1" r="0.52"/><circle cx="387.5" cy="337.6" r="0.42"/><circle cx="392.1" cy="326.6" r="0.37"/><circle cx="406.9" cy="340.5" r="0.34"/><circle cx="391.7" cy="343.5" r="0.49"/><circle cx="385.5" cy="346.0" r="0.46"/><circle cx="394.4" cy="347.9" r="0.51"/><circle cx="393.3" cy="352.4" r="0.53"/><circle cx="391.3" cy="323.0" r="0.47"/><circle cx="402.1" cy="326.8" r="0.43"/><circle cx="412.5" cy="326.4" r="0.36"/><circle cx="388.7" cy="346.2" r="0.38"/><circle cx="393.1" cy="329.8" r="0.32"/><circle cx="397.8" cy="360.6" r="0.48"/><circle cx="413.5" cy="352.3" r="0.48"/><circle cx="393.7" cy="343.0" r="0.49"/><circle cx="384.9" cy="336.8" r="0.46"/><circle cx="393.8" cy="341.2" r="0.34"/><circle cx="383.6" cy="330.5" r="0.41"/><circle cx="413.7" cy="348.1" r="0.54"/><circle cx="405.0" cy="353.5" r="0.51"/><circle cx="394.3" cy="332.8" r="0.51"/><circle cx="391.6" cy="332.1" r="0.28"/><circle cx="401.4" cy="345.7" r="0.34"/><circle cx="401.1" cy="344.0" r="0.29"/><circle cx="408.7" cy="333.5" r="0.51"/><circle cx="383.2" cy="328.1" r="0.37"/><circle cx="395.0" cy="321.3" r="0.33"/><circle cx="391.1" cy="328.2" r="0.30"/><circle cx="386.6" cy="343.2" r="0.44"/><circle cx="381.6" cy="344.4" r="0.38"/><circle cx="380.0" cy="332.1" r="0.39"/><circle cx="393.2" cy="341.6" r="0.43"/><circle cx="391.2" cy="323.8" r="0.41"/><circle cx="399.4" cy="337.1" r="0.46"/><circle cx="407.8" cy="354.3" r="0.46"/><circle cx="390.2" cy="334.0" r="0.53"/><circle cx="393.4" cy="325.0" r="0.52"/><circle cx="387.5" cy="349.1" r="0.38"/><circle cx="401.9" cy="320.5" r="0.35"/><circle cx="404.3" cy="335.7" r="0.27"/><circle cx="392.0" cy="327.7" r="0.38"/><circle cx="384.6" cy="353.9" r="0.42"/><circle cx="403.9" cy="343.6" r="0.36"/></g>
<path d="M383.5,325.5 C386,321.5 390,319.5 395,319.2" fill="none" stroke="#9fd1bb" stroke-width="2.2"/>
<circle cx="328.5" cy="314.2" r="23.5" fill="url(#gVes)" stroke="#4f8a80" stroke-width="1"/>
<g transform="rotate(35 328.5 314.2)" stroke="#2e1c1c" stroke-width="0.8">
<ellipse cx="329.5" cy="313.2" rx="16.6" ry="15.2" fill="#d9a59c" stroke="none"/>
<ellipse cx="316.3" cy="305.0" rx="9.0" ry="5.2" fill="#e9b697" transform="rotate(-65 316.3 305.0)"/>
<ellipse cx="323.3" cy="300.6" rx="9.0" ry="5.2" fill="#dbb0aa" transform="rotate(-60 323.3 300.6)"/>
<ellipse cx="330.3" cy="305.9" rx="9.0" ry="5.2" fill="#e9b697" transform="rotate(-55 330.3 305.9)"/>
<ellipse cx="338.1" cy="303.2" rx="9.0" ry="5.2" fill="#dbb0aa" transform="rotate(30 338.1 303.2)"/>
<ellipse cx="343.2" cy="307.8" rx="9.0" ry="5.2" fill="#e9b697" transform="rotate(55 343.2 307.8)"/>
<ellipse cx="344.2" cy="318.1" rx="9.0" ry="5.2" fill="#dbb0aa" transform="rotate(80 344.2 318.1)"/>
<ellipse cx="337.3" cy="321.5" rx="9.0" ry="5.2" fill="#e9b697" transform="rotate(-70 337.3 321.5)"/>
<ellipse cx="328.5" cy="318.1" rx="9.0" ry="5.2" fill="#dbb0aa" transform="rotate(-30 328.5 318.1)"/>
<ellipse cx="320.7" cy="315.5" rx="9.0" ry="5.2" fill="#e9b697" transform="rotate(-50 320.7 315.5)"/>
<ellipse cx="315.4" cy="319.1" rx="9.0" ry="5.2" fill="#dbb0aa" transform="rotate(-60 315.4 319.1)"/>
<ellipse cx="323.3" cy="325.9" rx="9.0" ry="5.2" fill="#e9b697" transform="rotate(-15 323.3 325.9)"/>
<ellipse cx="332.9" cy="326.8" rx="9.0" ry="5.2" fill="#dbb0aa" transform="rotate(-20 332.9 326.8)"/>
</g>
<rect x="407.6" y="98.7" width="35.4" height="4.6" fill="url(#gSoilT)"/><path d="M407.6,98.9 H443" stroke="#5a4636" stroke-width="1"/>
<path d="M415.3,116 C415,111.5 417.5,108.6 421.5,108.3 C425,108.2 427.5,110.5 430.5,110 C433.5,109.3 436,107.3 438.8,108.3 C441.5,109.5 442.3,113 441.5,116.5 C440.5,121 436.5,124.5 431.5,126.3 C427,127.8 422,127.6 419,125 C416.5,122.8 415.5,119.5 415.3,116 Z" fill="url(#gSeed)" stroke="#2b2026" stroke-width="0.9"/>
<path d="M418,123.5 C421.5,127.5 428,128 433,125.5" fill="none" stroke="#2a1a18" stroke-width="1.7" opacity="0.85"/>
<path d="M421,112 C420,110.5 419.2,109 418.6,107.8" fill="none" stroke="#5a6a3a" stroke-width="1.3"/><circle cx="418.2" cy="106.8" r="1.7" fill="#a8b878" stroke="#333" stroke-width="0.6"/>
<rect x="455.7" y="66.5" width="35.4" height="6.3" fill="url(#gSoilT)"/><path d="M455.7,66.8 H491.1" stroke="#5a4636" stroke-width="1"/>
<path d="M471.5,72 C471.2,78 471.8,85 472.8,91 C473.2,93.5 473.8,96 474.5,98 L480,98 C478.8,94 477.8,89.5 477,85 C476.3,80.5 476,76 475.3,71.5 C474.8,69 472.2,69 471.5,72 Z" fill="url(#gShoot)" stroke="#4a4a4a" stroke-width="0.7"/>
<path d="M472.3,87.5 L469.3,87.3" stroke="#444" stroke-width="0.9"/><circle cx="467.8" cy="87.3" r="1.7" fill="#a8b878" stroke="#333" stroke-width="0.6"/>
<path d="M466.4,106 C466,101 469,97 473,95.6 C476,94.8 479,95.2 482,96.5 C486,98.2 489.5,101.5 489.9,105.5 C490,109.5 487,113 483,115 C479,116.8 474,116.8 470.5,114.5 C467.8,112.5 466.6,109.5 466.4,106 Z" fill="url(#gSeed)" stroke="#2b2026" stroke-width="0.9"/>
<path d="M469,113 C473,117 480,117 485,113.5" fill="none" stroke="#2a1a18" stroke-width="1.8" opacity="0.85"/>
<path d="M476,116.5 C477,121 476,125 478,131 M476,118 L472,121.5 M477,120 L481,123 M477,124 L474,127" fill="none" stroke="#333" stroke-width="0.7"/>
<rect x="495" y="54.4" width="48" height="11.4" fill="url(#gSoilT)"/><path d="M495,54.7 H543" stroke="#5a4636" stroke-width="1"/>
<path d="M516,14.6 C517.3,18 517.6,22 517,26 C516.3,30.5 515.5,34.5 515.6,38.5 C516,43.5 517.5,48.5 518.8,53 C520,58 521.3,63.5 522,69 L517.5,69.5 C516.8,64 515.5,58.5 514,53.3 C512.8,48.5 511.3,43.5 510.3,38.5 C509.5,34.5 509.3,30 510,26.5 C511,22 513.3,18 516,14.6 Z" fill="url(#gShoot)" stroke="#4a4a4a" stroke-width="0.7"/>
<path d="M513.8,52 L511.8,51.6 M517.2,65 L515.3,65" stroke="#444" stroke-width="0.9"/><circle cx="510.6" cy="51.3" r="1.7" fill="#a8b878" stroke="#333" stroke-width="0.6"/><circle cx="514" cy="65" r="1.7" fill="#a8b878" stroke="#333" stroke-width="0.6"/>
<path d="M509.2,80 C508.2,75 510.5,70.5 514.5,68.5 C518,67 521.5,67.6 525,68.2 C529,69 532.5,71.5 533.3,75.5 C534,80 531.5,84 528,86.5 C524.5,89.2 520.5,91.5 516.5,91 C512.5,90.3 510,85.5 509.2,80 Z" fill="url(#gSeed)" stroke="#2b2026" stroke-width="0.9"/>
<path d="M511.5,87 C514.5,91.5 520,92 525,88.5" fill="none" stroke="#2a1a18" stroke-width="1.6" opacity="0.8"/>
<path d="M516.5,91 C517.5,96 517,100 520,105.5 M517,93 L512.5,96 M517.5,96 L522,99 M518.3,100 L515.5,102.5" fill="none" stroke="#333" stroke-width="0.7"/>
<path d="M475.5,168.7 C475.3,164.5 477.5,161 480.6,159.4 C483.3,158.2 486.3,158.2 488.9,158.9 C491.3,159.8 492.8,162.3 494,164.6 C496,167.3 498.6,169.3 501.3,170.8 C503.8,172 506.5,173 508.5,175 C510.5,177.3 511.3,180.3 511,183.2 C510.6,186.3 508.9,189 506.4,190.4 C503.2,191.8 499.3,191.4 496,190.4 C493,189.5 490.3,188 487.9,186.3 C485.2,184.2 482.8,181.7 480.6,179 C479,177.2 477.5,175.2 476.5,172.9 C475.9,171.6 475.6,170.2 475.5,168.7 Z" fill="#c99aa2" stroke="#1c1418" stroke-width="1.2"/>
<path d="M477.2,168.5 C477,164.8 479,161.8 481.8,160.6 C484.5,159.6 487.5,159.7 489.5,161 C491.2,162.5 491.8,165 491.5,167 C489.5,168.6 487,169.3 485,171 C483.5,172.3 482,173.3 480,173 C478.4,172 477.4,170.3 477.2,168.5 Z" fill="#e9c6c4"/>
<path d="M477.5,173.5 C480.5,174.3 483,172.6 485.3,171 C487.5,169.2 490,168.5 491.6,166.8 C492,164.5 492.6,163 493.8,164.8 C495.5,167.8 498.3,169.8 501,171.2 C503,172 505,173 506.5,174.3 C504.5,174.8 502.5,174 500.8,174.8 C498.5,174.6 497.5,176.8 495.5,176.2 C494,177.8 492,177.5 490.5,179 C489,180.8 487.5,180.3 486.5,182.2 C484.5,181 482.5,179.5 481,177.6 C479.6,176.5 478.3,175 477.5,173.5 Z" fill="#17101a" opacity="0.93"/>
<path d="M509.3,177 C510.6,179.3 510.8,182 510.4,184.5 C509.6,187.3 507.8,189.3 505.6,190 C502.6,191 499.3,190.6 496.4,189.6 C499.5,189.3 502.5,188.5 504.6,186.8 C507,184.5 508.3,181 509.3,177 Z" fill="#17101a" opacity="0.85"/>
<ellipse cx="498" cy="182" rx="5.5" ry="4.5" fill="#dab4b6" opacity="0.7"/>
<clipPath id="cpStem"><rect x="587.6" y="116.5" width="93.4" height="117.5"/></clipPath>
<rect x="587.6" y="116.5" width="93.9" height="115.5" fill="#e6e0c4"/>
<rect x="672" y="116.5" width="9.5" height="115.5" fill="#b9b8a0" opacity="0.6"/>
<path d="M681,120 L683.6,116 L683.6,229 L681,232 Z" fill="#4a5048" stroke="#222" stroke-width="0.7"/>
<rect x="604.5" y="116.5" width="8.5" height="115.5" fill="#cdd088"/>
<rect x="607" y="116.5" width="3.2" height="115.5" fill="#8f9c5c" opacity="0.75"/>
<rect x="642.5" y="116.5" width="5" height="115.5" fill="#d6e6e2"/>
<rect x="647.5" y="116.5" width="7.5" height="115.5" fill="#c3cc84"/>
<rect x="649.5" y="116.5" width="3" height="115.5" fill="#8f9c5c" opacity="0.7"/>
<rect x="656.5" y="116.5" width="5" height="115.5" fill="#dfeae6" opacity="0.9"/>
<g clip-path="url(#cpStem)" fill="#f5f1dc" stroke="#857b68" stroke-width="0.55"><ellipse cx="590.1" cy="119.7" rx="2.6" ry="2.3"/><ellipse cx="595.3" cy="119.9" rx="2.1" ry="2.0"/><ellipse cx="600.5" cy="119.6" rx="2.6" ry="1.9"/><ellipse cx="615.0" cy="119.2" rx="2.4" ry="2.1"/><ellipse cx="619.4" cy="119.2" rx="2.3" ry="2.3"/><ellipse cx="625.3" cy="119.2" rx="2.6" ry="1.9"/><ellipse cx="630.1" cy="119.1" rx="2.1" ry="2.2"/><ellipse cx="634.7" cy="119.2" rx="2.7" ry="2.2"/><ellipse cx="639.7" cy="120.0" rx="2.4" ry="2.1"/><ellipse cx="664.6" cy="119.9" rx="2.5" ry="2.3"/><ellipse cx="670.5" cy="119.3" rx="2.3" ry="1.9"/><ellipse cx="674.6" cy="119.1" rx="2.3" ry="2.1"/><ellipse cx="679.4" cy="119.7" rx="2.3" ry="2.0"/><ellipse cx="592.9" cy="123.7" rx="2.3" ry="2.0"/><ellipse cx="597.7" cy="123.3" rx="2.7" ry="1.8"/><ellipse cx="602.8" cy="124.0" rx="2.1" ry="2.2"/><ellipse cx="617.3" cy="123.8" rx="2.1" ry="1.8"/><ellipse cx="622.1" cy="124.2" rx="2.2" ry="2.2"/><ellipse cx="628.0" cy="124.1" rx="2.3" ry="2.0"/><ellipse cx="632.5" cy="124.0" rx="2.2" ry="2.2"/><ellipse cx="637.9" cy="124.1" rx="2.1" ry="2.3"/><ellipse cx="662.0" cy="123.5" rx="2.5" ry="2.3"/><ellipse cx="667.3" cy="124.1" rx="2.4" ry="2.0"/><ellipse cx="672.3" cy="123.4" rx="2.1" ry="1.9"/><ellipse cx="677.7" cy="124.2" rx="2.2" ry="1.8"/><ellipse cx="590.6" cy="127.9" rx="2.3" ry="1.9"/><ellipse cx="595.1" cy="128.2" rx="2.4" ry="2.0"/><ellipse cx="599.5" cy="128.3" rx="2.1" ry="2.0"/><ellipse cx="615.4" cy="127.5" rx="2.5" ry="2.3"/><ellipse cx="620.2" cy="128.2" rx="2.2" ry="2.0"/><ellipse cx="624.6" cy="128.2" rx="2.3" ry="2.0"/><ellipse cx="630.6" cy="128.3" rx="2.7" ry="2.0"/><ellipse cx="635.0" cy="128.1" rx="2.4" ry="1.9"/><ellipse cx="639.9" cy="127.5" rx="2.3" ry="2.3"/><ellipse cx="665.6" cy="128.0" rx="2.4" ry="2.0"/><ellipse cx="669.5" cy="127.7" rx="2.6" ry="2.2"/><ellipse cx="674.8" cy="128.2" rx="2.6" ry="2.1"/><ellipse cx="680.2" cy="128.2" rx="2.3" ry="2.2"/><ellipse cx="592.2" cy="132.1" rx="2.6" ry="2.1"/><ellipse cx="597.3" cy="132.5" rx="2.5" ry="2.1"/><ellipse cx="601.9" cy="132.1" rx="2.3" ry="2.1"/><ellipse cx="617.5" cy="132.4" rx="2.5" ry="2.2"/><ellipse cx="622.3" cy="132.2" rx="2.5" ry="2.2"/><ellipse cx="627.3" cy="132.4" rx="2.6" ry="2.1"/><ellipse cx="633.1" cy="132.6" rx="2.4" ry="2.1"/><ellipse cx="637.1" cy="132.4" rx="2.7" ry="2.0"/><ellipse cx="662.7" cy="132.3" rx="2.5" ry="1.9"/><ellipse cx="667.8" cy="132.2" rx="2.5" ry="2.0"/><ellipse cx="672.6" cy="132.4" rx="2.5" ry="2.2"/><ellipse cx="676.9" cy="131.8" rx="2.4" ry="2.1"/><ellipse cx="589.7" cy="136.5" rx="2.5" ry="1.8"/><ellipse cx="595.0" cy="136.0" rx="2.1" ry="1.9"/><ellipse cx="599.8" cy="136.0" rx="2.2" ry="1.8"/><ellipse cx="615.0" cy="136.2" rx="2.5" ry="2.1"/><ellipse cx="619.7" cy="136.7" rx="2.1" ry="2.0"/><ellipse cx="624.7" cy="136.2" rx="2.2" ry="2.2"/><ellipse cx="629.8" cy="135.8" rx="2.5" ry="1.8"/><ellipse cx="635.1" cy="136.1" rx="2.4" ry="2.3"/><ellipse cx="640.4" cy="136.2" rx="2.6" ry="2.1"/><ellipse cx="664.8" cy="135.9" rx="2.5" ry="2.1"/><ellipse cx="670.5" cy="136.8" rx="2.5" ry="2.0"/><ellipse cx="675.5" cy="135.8" rx="2.2" ry="2.1"/><ellipse cx="680.1" cy="135.9" rx="2.5" ry="2.2"/><ellipse cx="592.4" cy="140.4" rx="2.2" ry="1.9"/><ellipse cx="598.1" cy="140.4" rx="2.7" ry="2.3"/><ellipse cx="602.6" cy="140.3" rx="2.7" ry="2.0"/><ellipse cx="617.4" cy="140.3" rx="2.7" ry="2.0"/><ellipse cx="622.2" cy="140.5" rx="2.2" ry="2.1"/><ellipse cx="627.4" cy="140.3" rx="2.6" ry="2.2"/><ellipse cx="631.9" cy="140.5" rx="2.3" ry="2.3"/><ellipse cx="637.8" cy="140.2" rx="2.3" ry="1.9"/><ellipse cx="663.1" cy="140.3" rx="2.5" ry="2.0"/><ellipse cx="667.7" cy="140.6" rx="2.5" ry="1.9"/><ellipse cx="672.8" cy="140.3" rx="2.4" ry="2.0"/><ellipse cx="677.3" cy="140.5" rx="2.4" ry="2.0"/><ellipse cx="590.3" cy="144.8" rx="2.1" ry="1.9"/><ellipse cx="594.9" cy="145.1" rx="2.6" ry="2.1"/><ellipse cx="599.4" cy="145.0" rx="2.4" ry="2.1"/><ellipse cx="615.2" cy="144.8" rx="2.4" ry="2.3"/><ellipse cx="619.9" cy="144.6" rx="2.6" ry="1.9"/><ellipse cx="624.8" cy="145.0" rx="2.1" ry="2.2"/><ellipse cx="630.2" cy="144.6" rx="2.3" ry="2.2"/><ellipse cx="635.5" cy="144.3" rx="2.4" ry="2.1"/><ellipse cx="640.0" cy="144.5" rx="2.2" ry="2.1"/><ellipse cx="665.4" cy="144.3" rx="2.2" ry="2.2"/><ellipse cx="670.4" cy="144.9" rx="2.1" ry="2.2"/><ellipse cx="675.6" cy="145.2" rx="2.5" ry="1.8"/><ellipse cx="680.4" cy="144.4" rx="2.5" ry="2.3"/><ellipse cx="592.8" cy="148.5" rx="2.3" ry="2.3"/><ellipse cx="597.1" cy="149.0" rx="2.3" ry="1.9"/><ellipse cx="602.6" cy="148.4" rx="2.2" ry="2.0"/><ellipse cx="617.0" cy="148.5" rx="2.4" ry="2.2"/><ellipse cx="623.0" cy="148.5" rx="2.4" ry="2.0"/><ellipse cx="627.6" cy="148.9" rx="2.7" ry="2.0"/><ellipse cx="632.0" cy="149.1" rx="2.2" ry="2.1"/><ellipse cx="637.5" cy="149.3" rx="2.4" ry="2.1"/><ellipse cx="662.2" cy="149.0" rx="2.3" ry="2.2"/><ellipse cx="667.5" cy="148.5" rx="2.2" ry="2.0"/><ellipse cx="672.8" cy="148.6" rx="2.5" ry="2.1"/><ellipse cx="677.0" cy="149.1" rx="2.2" ry="1.9"/><ellipse cx="590.1" cy="152.8" rx="2.6" ry="2.0"/><ellipse cx="594.8" cy="153.4" rx="2.1" ry="2.2"/><ellipse cx="599.5" cy="152.8" rx="2.7" ry="2.1"/><ellipse cx="614.7" cy="152.7" rx="2.7" ry="2.1"/><ellipse cx="620.4" cy="152.7" rx="2.5" ry="2.0"/><ellipse cx="624.7" cy="152.9" rx="2.5" ry="2.0"/><ellipse cx="629.9" cy="152.7" rx="2.6" ry="2.1"/><ellipse cx="635.4" cy="153.0" rx="2.6" ry="2.1"/><ellipse cx="640.1" cy="153.2" rx="2.5" ry="2.0"/><ellipse cx="664.5" cy="152.6" rx="2.2" ry="1.8"/><ellipse cx="670.5" cy="153.1" rx="2.6" ry="1.8"/><ellipse cx="675.0" cy="153.5" rx="2.5" ry="2.0"/><ellipse cx="680.0" cy="152.7" rx="2.2" ry="1.9"/><ellipse cx="592.3" cy="157.2" rx="2.6" ry="1.9"/><ellipse cx="597.2" cy="157.1" rx="2.2" ry="1.9"/><ellipse cx="602.2" cy="157.3" rx="2.1" ry="2.3"/><ellipse cx="617.3" cy="157.7" rx="2.5" ry="2.1"/><ellipse cx="622.5" cy="157.7" rx="2.2" ry="2.1"/><ellipse cx="627.2" cy="157.5" rx="2.5" ry="1.9"/><ellipse cx="632.1" cy="156.8" rx="2.2" ry="1.8"/><ellipse cx="637.4" cy="157.8" rx="2.3" ry="2.0"/><ellipse cx="662.5" cy="157.1" rx="2.5" ry="2.2"/><ellipse cx="667.1" cy="157.0" rx="2.5" ry="2.3"/><ellipse cx="672.7" cy="157.2" rx="2.7" ry="1.8"/><ellipse cx="677.0" cy="157.6" rx="2.3" ry="1.8"/><ellipse cx="590.1" cy="162.0" rx="2.4" ry="2.0"/><ellipse cx="594.5" cy="161.1" rx="2.6" ry="2.0"/><ellipse cx="600.5" cy="161.1" rx="2.2" ry="1.8"/><ellipse cx="614.9" cy="161.1" rx="2.3" ry="2.0"/><ellipse cx="619.8" cy="161.1" rx="2.1" ry="2.3"/><ellipse cx="624.6" cy="161.5" rx="2.3" ry="2.1"/><ellipse cx="629.5" cy="161.3" rx="2.2" ry="2.1"/><ellipse cx="635.5" cy="161.6" rx="2.6" ry="1.9"/><ellipse cx="639.4" cy="161.5" rx="2.4" ry="2.1"/><ellipse cx="664.9" cy="161.6" rx="2.5" ry="2.3"/><ellipse cx="669.8" cy="161.4" rx="2.6" ry="1.9"/><ellipse cx="674.5" cy="161.3" rx="2.2" ry="2.2"/><ellipse cx="680.4" cy="161.3" rx="2.2" ry="1.8"/><ellipse cx="592.2" cy="165.3" rx="2.4" ry="2.1"/><ellipse cx="597.2" cy="165.3" rx="2.5" ry="1.8"/><ellipse cx="602.1" cy="165.5" rx="2.3" ry="1.8"/><ellipse cx="617.4" cy="165.5" rx="2.6" ry="2.1"/><ellipse cx="623.0" cy="165.9" rx="2.6" ry="2.1"/><ellipse cx="627.4" cy="166.0" rx="2.5" ry="2.3"/><ellipse cx="632.8" cy="165.9" rx="2.3" ry="2.2"/><ellipse cx="637.4" cy="165.3" rx="2.1" ry="1.9"/><ellipse cx="662.2" cy="165.9" rx="2.3" ry="1.8"/><ellipse cx="667.8" cy="165.8" rx="2.1" ry="1.8"/><ellipse cx="672.1" cy="165.6" rx="2.6" ry="2.3"/><ellipse cx="677.6" cy="165.4" rx="2.4" ry="2.0"/><ellipse cx="589.8" cy="169.4" rx="2.5" ry="2.2"/><ellipse cx="595.3" cy="169.5" rx="2.4" ry="1.9"/><ellipse cx="600.3" cy="169.8" rx="2.7" ry="2.2"/><ellipse cx="614.5" cy="169.7" rx="2.6" ry="2.0"/><ellipse cx="619.9" cy="169.8" rx="2.6" ry="2.3"/><ellipse cx="625.0" cy="170.4" rx="2.5" ry="1.9"/><ellipse cx="630.4" cy="169.8" rx="2.1" ry="2.3"/><ellipse cx="634.4" cy="170.0" rx="2.4" ry="2.2"/><ellipse cx="639.9" cy="169.6" rx="2.3" ry="1.9"/><ellipse cx="665.1" cy="169.8" rx="2.6" ry="1.9"/><ellipse cx="669.8" cy="169.6" rx="2.7" ry="2.2"/><ellipse cx="675.4" cy="170.0" rx="2.3" ry="1.9"/><ellipse cx="680.4" cy="169.9" rx="2.1" ry="1.9"/><ellipse cx="592.0" cy="174.3" rx="2.6" ry="1.9"/><ellipse cx="597.9" cy="173.9" rx="2.5" ry="2.2"/><ellipse cx="602.6" cy="174.4" rx="2.3" ry="1.8"/><ellipse cx="617.5" cy="174.2" rx="2.2" ry="2.0"/><ellipse cx="622.3" cy="173.6" rx="2.3" ry="2.0"/><ellipse cx="627.5" cy="174.3" rx="2.3" ry="2.3"/><ellipse cx="632.9" cy="174.5" rx="2.5" ry="2.1"/><ellipse cx="637.5" cy="174.4" rx="2.3" ry="2.1"/><ellipse cx="662.7" cy="174.1" rx="2.3" ry="1.8"/><ellipse cx="667.0" cy="174.0" rx="2.4" ry="2.2"/><ellipse cx="672.8" cy="173.9" rx="2.7" ry="1.9"/><ellipse cx="677.8" cy="173.7" rx="2.6" ry="2.1"/><ellipse cx="590.5" cy="178.7" rx="2.5" ry="2.2"/><ellipse cx="595.3" cy="178.4" rx="2.2" ry="2.1"/><ellipse cx="600.5" cy="178.0" rx="2.7" ry="2.1"/><ellipse cx="614.9" cy="177.8" rx="2.3" ry="1.9"/><ellipse cx="620.2" cy="178.7" rx="2.6" ry="2.1"/><ellipse cx="624.9" cy="177.9" rx="2.5" ry="2.1"/><ellipse cx="630.3" cy="178.2" rx="2.6" ry="1.9"/><ellipse cx="634.8" cy="178.1" rx="2.5" ry="2.2"/><ellipse cx="639.6" cy="178.4" rx="2.6" ry="1.9"/><ellipse cx="664.5" cy="178.4" rx="2.6" ry="2.2"/><ellipse cx="670.3" cy="178.2" rx="2.4" ry="2.1"/><ellipse cx="675.5" cy="178.1" rx="2.3" ry="2.1"/><ellipse cx="680.6" cy="178.0" rx="2.1" ry="1.9"/><ellipse cx="592.6" cy="182.6" rx="2.2" ry="1.9"/><ellipse cx="597.6" cy="182.6" rx="2.5" ry="2.2"/><ellipse cx="602.0" cy="182.5" rx="2.6" ry="2.3"/><ellipse cx="617.3" cy="182.9" rx="2.5" ry="2.3"/><ellipse cx="622.2" cy="182.7" rx="2.6" ry="2.0"/><ellipse cx="627.0" cy="182.2" rx="2.2" ry="1.8"/><ellipse cx="632.1" cy="182.6" rx="2.2" ry="2.2"/><ellipse cx="637.8" cy="182.8" rx="2.6" ry="2.2"/><ellipse cx="663.0" cy="183.0" rx="2.5" ry="2.3"/><ellipse cx="667.0" cy="182.1" rx="2.1" ry="1.9"/><ellipse cx="672.3" cy="182.5" rx="2.5" ry="2.2"/><ellipse cx="677.0" cy="182.4" rx="2.4" ry="2.0"/><ellipse cx="589.5" cy="186.8" rx="2.3" ry="2.1"/><ellipse cx="595.0" cy="187.2" rx="2.7" ry="1.8"/><ellipse cx="600.3" cy="186.9" rx="2.3" ry="1.9"/><ellipse cx="615.0" cy="186.6" rx="2.5" ry="2.3"/><ellipse cx="619.9" cy="186.5" rx="2.4" ry="2.1"/><ellipse cx="625.3" cy="186.8" rx="2.3" ry="2.0"/><ellipse cx="630.4" cy="186.7" rx="2.1" ry="2.0"/><ellipse cx="634.7" cy="186.9" rx="2.1" ry="1.9"/><ellipse cx="639.5" cy="186.7" rx="2.7" ry="2.1"/><ellipse cx="664.9" cy="187.1" rx="2.2" ry="2.0"/><ellipse cx="670.4" cy="186.2" rx="2.6" ry="2.0"/><ellipse cx="674.4" cy="186.5" rx="2.4" ry="2.0"/><ellipse cx="680.0" cy="186.3" rx="2.2" ry="2.3"/><ellipse cx="592.4" cy="190.9" rx="2.2" ry="1.9"/><ellipse cx="598.0" cy="191.1" rx="2.4" ry="1.8"/><ellipse cx="602.4" cy="191.2" rx="2.4" ry="2.1"/><ellipse cx="618.0" cy="191.0" rx="2.5" ry="1.8"/><ellipse cx="621.9" cy="191.2" rx="2.3" ry="2.2"/><ellipse cx="627.9" cy="191.3" rx="2.3" ry="2.3"/><ellipse cx="632.8" cy="191.3" rx="2.2" ry="2.2"/><ellipse cx="637.4" cy="191.4" rx="2.7" ry="1.9"/><ellipse cx="662.4" cy="190.7" rx="2.4" ry="1.9"/><ellipse cx="667.7" cy="190.5" rx="2.2" ry="2.0"/><ellipse cx="672.0" cy="190.8" rx="2.6" ry="2.2"/><ellipse cx="677.1" cy="190.4" rx="2.6" ry="2.3"/><ellipse cx="590.1" cy="194.7" rx="2.2" ry="2.3"/><ellipse cx="595.5" cy="194.6" rx="2.2" ry="2.0"/><ellipse cx="599.7" cy="195.4" rx="2.3" ry="2.2"/><ellipse cx="614.6" cy="195.1" rx="2.7" ry="2.2"/><ellipse cx="619.5" cy="194.7" rx="2.5" ry="2.0"/><ellipse cx="624.8" cy="195.1" rx="2.4" ry="2.3"/><ellipse cx="629.7" cy="195.2" rx="2.3" ry="2.1"/><ellipse cx="635.3" cy="194.7" rx="2.4" ry="2.2"/><ellipse cx="639.4" cy="195.4" rx="2.4" ry="2.1"/><ellipse cx="665.1" cy="195.4" rx="2.1" ry="2.1"/><ellipse cx="669.4" cy="195.0" rx="2.3" ry="1.8"/><ellipse cx="674.8" cy="195.1" rx="2.5" ry="2.3"/><ellipse cx="679.8" cy="195.1" rx="2.5" ry="2.3"/><ellipse cx="593.0" cy="199.8" rx="2.3" ry="1.9"/><ellipse cx="598.0" cy="198.9" rx="2.4" ry="2.2"/><ellipse cx="602.5" cy="199.2" rx="2.7" ry="1.9"/><ellipse cx="617.6" cy="199.6" rx="2.2" ry="2.0"/><ellipse cx="622.5" cy="199.4" rx="2.2" ry="2.0"/><ellipse cx="627.0" cy="198.9" rx="2.3" ry="1.9"/><ellipse cx="633.1" cy="199.1" rx="2.3" ry="2.2"/><ellipse cx="637.8" cy="199.1" rx="2.6" ry="2.1"/><ellipse cx="662.4" cy="199.4" rx="2.2" ry="1.9"/><ellipse cx="668.0" cy="199.2" rx="2.6" ry="1.9"/><ellipse cx="672.1" cy="198.9" rx="2.5" ry="2.1"/><ellipse cx="676.9" cy="198.8" rx="2.6" ry="2.0"/><ellipse cx="590.4" cy="203.0" rx="2.5" ry="1.9"/><ellipse cx="595.3" cy="203.6" rx="2.5" ry="1.9"/><ellipse cx="600.5" cy="203.1" rx="2.1" ry="2.1"/><ellipse cx="614.5" cy="203.1" rx="2.4" ry="2.1"/><ellipse cx="620.5" cy="203.7" rx="2.1" ry="2.1"/><ellipse cx="625.4" cy="203.1" rx="2.6" ry="1.9"/><ellipse cx="629.8" cy="203.0" rx="2.6" ry="2.1"/><ellipse cx="635.5" cy="203.5" rx="2.2" ry="1.9"/><ellipse cx="639.7" cy="203.9" rx="2.2" ry="1.8"/><ellipse cx="664.8" cy="203.1" rx="2.4" ry="2.1"/><ellipse cx="670.2" cy="203.2" rx="2.2" ry="2.0"/><ellipse cx="675.2" cy="203.4" rx="2.4" ry="2.3"/><ellipse cx="679.6" cy="203.3" rx="2.4" ry="2.1"/><ellipse cx="593.0" cy="207.8" rx="2.5" ry="2.0"/><ellipse cx="597.8" cy="208.0" rx="2.3" ry="1.9"/><ellipse cx="602.2" cy="207.6" rx="2.6" ry="1.9"/><ellipse cx="617.7" cy="207.8" rx="2.7" ry="1.9"/><ellipse cx="622.8" cy="207.5" rx="2.2" ry="2.1"/><ellipse cx="627.9" cy="207.8" rx="2.1" ry="2.3"/><ellipse cx="632.4" cy="207.8" rx="2.5" ry="1.9"/><ellipse cx="637.4" cy="207.5" rx="2.2" ry="1.8"/><ellipse cx="662.8" cy="207.6" rx="2.6" ry="1.8"/><ellipse cx="667.3" cy="207.4" rx="2.7" ry="2.2"/><ellipse cx="673.0" cy="207.7" rx="2.2" ry="2.0"/><ellipse cx="677.2" cy="207.2" rx="2.4" ry="1.9"/><ellipse cx="589.5" cy="211.9" rx="2.7" ry="2.3"/><ellipse cx="595.0" cy="211.5" rx="2.6" ry="1.9"/><ellipse cx="600.0" cy="211.5" rx="2.7" ry="2.1"/><ellipse cx="614.9" cy="211.7" rx="2.4" ry="2.3"/><ellipse cx="619.9" cy="211.6" rx="2.4" ry="2.3"/><ellipse cx="624.9" cy="212.0" rx="2.7" ry="2.0"/><ellipse cx="630.4" cy="211.9" rx="2.2" ry="1.8"/><ellipse cx="635.5" cy="211.9" rx="2.4" ry="2.3"/><ellipse cx="640.1" cy="211.9" rx="2.3" ry="2.2"/><ellipse cx="664.7" cy="211.9" rx="2.6" ry="2.1"/><ellipse cx="669.6" cy="211.6" rx="2.5" ry="2.2"/><ellipse cx="674.5" cy="212.4" rx="2.2" ry="1.9"/><ellipse cx="679.5" cy="211.8" rx="2.5" ry="2.2"/><ellipse cx="592.1" cy="216.3" rx="2.2" ry="2.1"/><ellipse cx="597.2" cy="216.0" rx="2.1" ry="2.2"/><ellipse cx="602.0" cy="216.4" rx="2.3" ry="2.1"/><ellipse cx="617.7" cy="216.1" rx="2.6" ry="2.3"/><ellipse cx="622.2" cy="215.9" rx="2.6" ry="1.9"/><ellipse cx="627.4" cy="216.0" rx="2.7" ry="1.9"/><ellipse cx="632.7" cy="216.4" rx="2.5" ry="1.8"/><ellipse cx="638.0" cy="215.9" rx="2.6" ry="2.1"/><ellipse cx="662.4" cy="216.4" rx="2.5" ry="2.0"/><ellipse cx="667.8" cy="216.1" rx="2.5" ry="2.1"/><ellipse cx="672.9" cy="215.8" rx="2.4" ry="1.8"/><ellipse cx="677.8" cy="216.4" rx="2.6" ry="1.8"/><ellipse cx="590.0" cy="220.3" rx="2.2" ry="1.9"/><ellipse cx="595.6" cy="220.7" rx="2.2" ry="2.2"/><ellipse cx="600.2" cy="220.2" rx="2.5" ry="1.9"/><ellipse cx="614.7" cy="219.8" rx="2.5" ry="2.1"/><ellipse cx="620.3" cy="220.3" rx="2.4" ry="2.0"/><ellipse cx="625.3" cy="220.2" rx="2.5" ry="2.2"/><ellipse cx="629.9" cy="220.5" rx="2.1" ry="1.9"/><ellipse cx="635.4" cy="219.9" rx="2.1" ry="1.8"/><ellipse cx="640.3" cy="219.9" rx="2.4" ry="2.0"/><ellipse cx="665.4" cy="220.3" rx="2.4" ry="1.8"/><ellipse cx="670.4" cy="220.6" rx="2.5" ry="2.2"/><ellipse cx="675.1" cy="220.5" rx="2.6" ry="2.1"/><ellipse cx="679.4" cy="220.7" rx="2.7" ry="1.9"/><ellipse cx="592.0" cy="224.3" rx="2.2" ry="2.0"/><ellipse cx="597.0" cy="224.2" rx="2.1" ry="2.0"/><ellipse cx="602.3" cy="224.7" rx="2.3" ry="1.9"/><ellipse cx="618.0" cy="224.9" rx="2.5" ry="1.9"/><ellipse cx="622.4" cy="224.5" rx="2.3" ry="1.8"/><ellipse cx="627.4" cy="224.8" rx="2.5" ry="2.2"/><ellipse cx="632.7" cy="224.8" rx="2.6" ry="2.3"/><ellipse cx="637.9" cy="224.4" rx="2.5" ry="2.1"/><ellipse cx="663.0" cy="224.7" rx="2.4" ry="1.9"/><ellipse cx="667.3" cy="224.3" rx="2.5" ry="2.2"/><ellipse cx="672.1" cy="224.5" rx="2.6" ry="2.0"/><ellipse cx="677.0" cy="224.6" rx="2.3" ry="1.9"/><ellipse cx="589.7" cy="228.2" rx="2.2" ry="2.0"/><ellipse cx="594.5" cy="228.2" rx="2.4" ry="2.3"/><ellipse cx="600.4" cy="228.5" rx="2.7" ry="1.8"/><ellipse cx="614.6" cy="228.2" rx="2.1" ry="2.1"/><ellipse cx="620.3" cy="228.7" rx="2.6" ry="2.0"/><ellipse cx="625.5" cy="228.8" rx="2.4" ry="1.9"/><ellipse cx="629.9" cy="228.6" rx="2.6" ry="1.9"/><ellipse cx="634.8" cy="229.0" rx="2.1" ry="2.1"/><ellipse cx="639.7" cy="228.9" rx="2.5" ry="1.8"/><ellipse cx="665.3" cy="228.6" rx="2.3" ry="2.2"/><ellipse cx="670.3" cy="228.5" rx="2.5" ry="1.9"/><ellipse cx="675.0" cy="228.3" rx="2.5" ry="2.3"/><ellipse cx="680.2" cy="228.2" rx="2.4" ry="2.0"/><ellipse cx="592.4" cy="232.6" rx="2.3" ry="2.0"/><ellipse cx="597.0" cy="233.1" rx="2.2" ry="1.9"/><ellipse cx="602.0" cy="232.7" rx="2.7" ry="1.9"/><ellipse cx="617.0" cy="232.7" rx="2.7" ry="1.8"/><ellipse cx="622.3" cy="232.6" rx="2.5" ry="2.0"/><ellipse cx="627.0" cy="233.3" rx="2.3" ry="2.1"/><ellipse cx="632.4" cy="233.3" rx="2.1" ry="1.9"/><ellipse cx="637.2" cy="232.7" rx="2.6" ry="2.1"/><ellipse cx="662.3" cy="232.9" rx="2.6" ry="2.1"/><ellipse cx="667.4" cy="233.1" rx="2.5" ry="2.0"/><ellipse cx="672.4" cy="232.5" rx="2.4" ry="2.2"/><ellipse cx="677.3" cy="232.8" rx="2.5" ry="2.1"/></g>
<path d="M604.5,119.5 V232.0" stroke="#6a7a50" stroke-width="0.5" opacity="0.7"/>
<path d="M613.0,119.5 V232.0" stroke="#6a7a50" stroke-width="0.5" opacity="0.7"/>
<path d="M642.5,119.5 V232.0" stroke="#6a7a50" stroke-width="0.5" opacity="0.7"/>
<path d="M647.5,119.5 V232.0" stroke="#6a7a50" stroke-width="0.5" opacity="0.7"/>
<path d="M655.0,119.5 V232.0" stroke="#6a7a50" stroke-width="0.5" opacity="0.7"/>
<path d="M661.5,119.5 V232.0" stroke="#6a7a50" stroke-width="0.5" opacity="0.7"/>
<path d="M587.6,122.5 V228.0" stroke="#333" stroke-width="0.9" fill="none"/>
<path d="M586.6,225.0 l7,3 l8,-3 l9,4 l10,-3 l9,3 l10,-2 l9,5 l9,-3 l10,4 l8,-2 l8,3 V240 H586.6 Z" fill="#fff"/>
<path d="M587.6,122.5 C590,117 594,114 599,112 C606,108 613,105 620,103 C630,100 640,98.5 650,98.5 C659,98.7 667,101 674,104.5 C678,107 681,110.5 683.5,115 C683.5,118 683,121 681.6,123.4 C660,121 630,120.5 587.6,122.5 Z" fill="url(#gCap)" stroke="#333" stroke-width="0.9"/>
<g transform="translate(575,85) scale(0.3003)" fill="none" stroke="#a8501f" stroke-width="5.6" stroke-linecap="round" stroke-linejoin="round">
<path d="M105.0,245.0 C107.2,242.8 113.8,233.7 118.0,232.0 C122.2,230.3 126.3,236.7 130.0,235.0 C133.7,233.3 136.7,225.3 140.0,222.0 C143.3,218.7 146.7,215.3 150.0,215.0 C153.3,214.7 156.7,220.0 160.0,220.0 C163.3,220.0 167.0,218.3 170.0,215.0 C173.0,211.7 175.5,203.3 178.0,200.0 C180.5,196.7 183.0,194.2 185.0,195.0 C187.0,195.8 188.3,201.7 190.0,205.0 C191.7,208.3 194.2,213.3 195.0,215.0"/>
<path d="M105.0,245.0 C103.8,247.2 99.7,253.8 98.0,258.0 C96.3,262.2 94.3,265.5 95.0,270.0 C95.7,274.5 101.2,280.0 102.0,285.0 C102.8,290.0 102.3,295.8 100.0,300.0 C97.7,304.2 91.3,306.7 88.0,310.0 C84.7,313.3 82.0,315.8 80.0,320.0 C78.0,324.2 77.7,330.0 76.0,335.0 C74.3,340.0 69.7,345.0 70.0,350.0 C70.3,355.0 76.3,360.0 78.0,365.0 C79.7,370.0 81.0,375.0 80.0,380.0 C79.0,385.0 73.7,390.0 72.0,395.0 C70.3,400.0 69.0,405.8 70.0,410.0 C71.0,414.2 76.3,416.7 78.0,420.0 C79.7,423.3 79.7,428.3 80.0,430.0"/>
<path d="M125.0,250.0 C127.2,252.5 134.7,260.0 138.0,265.0 C141.3,270.0 142.7,275.0 145.0,280.0 C147.3,285.0 151.2,290.0 152.0,295.0 C152.8,300.0 151.7,305.0 150.0,310.0 C148.3,315.0 143.7,320.0 142.0,325.0 C140.3,330.0 138.3,335.0 140.0,340.0 C141.7,345.0 148.7,350.0 152.0,355.0 C155.3,360.0 157.0,365.0 160.0,370.0 C163.0,375.0 167.5,380.0 170.0,385.0 C172.5,390.0 174.7,395.5 175.0,400.0 C175.3,404.5 173.7,408.7 172.0,412.0 C170.3,415.3 167.7,419.3 165.0,420.0 C162.3,420.7 158.5,417.7 156.0,416.0 C153.5,414.3 152.3,412.3 150.0,410.0 C147.7,407.7 144.5,403.7 142.0,402.0 C139.5,400.3 136.2,400.3 135.0,400.0"/>
<path d="M150.0,215.0 C153.0,217.8 163.0,226.2 168.0,232.0 C173.0,237.8 176.0,244.3 180.0,250.0 C184.0,255.7 188.7,261.0 192.0,266.0 C195.3,271.0 197.3,278.3 200.0,280.0 C202.7,281.7 205.5,277.7 208.0,276.0 C210.5,274.3 212.0,272.3 215.0,270.0 C218.0,267.7 222.7,265.3 226.0,262.0 C229.3,258.7 233.3,254.7 235.0,250.0 C236.7,245.3 236.8,239.0 236.0,234.0 C235.2,229.0 231.0,222.3 230.0,220.0"/>
<path d="M200.0,280.0 C198.7,283.3 193.7,293.3 192.0,300.0 C190.3,306.7 189.0,314.0 190.0,320.0 C191.0,326.0 195.5,331.0 198.0,336.0 C200.5,341.0 205.0,345.0 205.0,350.0 C205.0,355.0 199.7,361.0 198.0,366.0 C196.3,371.0 193.7,374.3 195.0,380.0 C196.3,385.7 202.7,393.3 206.0,400.0 C209.3,406.7 213.0,414.0 215.0,420.0 C217.0,426.0 216.3,431.0 218.0,436.0 C219.7,441.0 222.7,445.7 225.0,450.0 C227.3,454.3 229.5,458.7 232.0,462.0 C234.5,465.3 236.7,469.0 240.0,470.0 C243.3,471.0 248.7,469.7 252.0,468.0 C255.3,466.3 257.3,463.3 260.0,460.0 C262.7,456.7 265.5,451.3 268.0,448.0 C270.5,444.7 272.3,440.7 275.0,440.0 C277.7,439.3 281.5,443.2 284.0,444.0 C286.5,444.8 287.8,447.0 290.0,445.0 C292.2,443.0 295.3,436.2 297.0,432.0 C298.7,427.8 299.5,422.0 300.0,420.0"/>
<path d="M235.0,250.0 C237.2,249.0 243.8,244.8 248.0,244.0 C252.2,243.2 256.7,243.7 260.0,245.0 C263.3,246.3 265.5,250.3 268.0,252.0 C270.5,253.7 272.3,256.0 275.0,255.0 C277.7,254.0 281.5,248.5 284.0,246.0 C286.5,243.5 287.8,240.0 290.0,240.0 C292.2,240.0 295.3,243.5 297.0,246.0 C298.7,248.5 300.2,250.7 300.0,255.0 C299.8,259.3 296.8,266.2 296.0,272.0 C295.2,277.8 294.5,284.5 295.0,290.0 C295.5,295.5 298.2,300.0 299.0,305.0 C299.8,310.0 300.8,315.2 300.0,320.0 C299.2,324.8 295.7,329.8 294.0,334.0 C292.3,338.2 290.7,343.2 290.0,345.0"/>
<path d="M255.0,260.0 C254.2,263.3 250.8,273.3 250.0,280.0 C249.2,286.7 251.0,294.0 250.0,300.0 C249.0,306.0 245.7,311.0 244.0,316.0 C242.3,321.0 240.7,327.7 240.0,330.0"/>
<path d="M215.0,420.0 C216.2,418.3 220.3,413.3 222.0,410.0 C223.7,406.7 225.2,403.3 225.0,400.0 C224.8,396.7 221.8,393.3 221.0,390.0 C220.2,386.7 220.2,381.7 220.0,380.0"/>
<path d="M100.0,300.0 C102.0,301.3 108.7,304.3 112.0,308.0 C115.3,311.7 118.7,319.7 120.0,322.0"/>
<path d="M160.0,370.0 C158.0,370.3 151.3,370.3 148.0,372.0 C144.7,373.7 141.3,378.7 140.0,380.0"/>
<path d="M295.0,290.0 C297.2,291.0 304.2,296.0 308.0,296.0 C311.8,296.0 316.3,291.0 318.0,290.0"/>
<path d="M105.0,245.0 C106.2,246.2 108.7,251.2 112.0,252.0 C115.3,252.8 122.8,250.3 125.0,250.0"/>
<path d="M80.0,380.0 C82.0,381.0 88.7,386.0 92.0,386.0 C95.3,386.0 98.7,381.0 100.0,380.0"/>
</g>
<rect x="581.0" y="393.0" width="58.0" height="48.0" fill="url(#gSoil3)"/>
<path d="M581.0,393.0 h58.0" stroke="#4a3a2c" stroke-width="0.8" fill="none"/>
<g fill="none" stroke="#2a1f1a" stroke-linecap="round">
<path d="M605,394 C606,405 606,414 603,422 C601,430 598,433 596,437" stroke-width="2.4"/>
<path d="M612,394 C613,408 612,420 612,430 C612,434 613,436 612.5,438" stroke-width="2.2"/>
<path d="M604,394 H613 M605,399 C608,401 610,398 612,401 M605,405 C608,407 610,404 612,407 M605,411 C608,413 610,410 612,413 M604,418 C607,420 610,417 612,420" stroke-width="1.3"/>
<path d="M605,412 C598,414 592,412 588,416 M604,420 C598,424 594,422 590,428 M613,414 C620,416 624,412 630,414 M613,422 C618,426 622,424 626,428 M604,404 C598,404 596,400 592,402 M613,405 C618,404 622,400 626,402 M602,426 C598,430 596,428 592,432" stroke-width="0.6"/>
</g>
<rect x="604.5" y="394" width="8" height="28" fill="#4a3a34" opacity="0.6"/>
<g fill="none" stroke-linejoin="round" opacity="0.85"><path d="M622.7,388.9 L626.9,389.3 L623.7,392.0" stroke="#444" stroke-width="0.6"/><path d="M605.5,362.5 L600.7,358.4 L606.1,362.2" stroke="#e3a878" stroke-width="0.6"/><path d="M609.8,366.2 L610.7,368.9 L608.2,371.3" stroke="#5f9a9a" stroke-width="0.8"/><path d="M603.3,358.0 L607.4,357.2 L612.6,356.5 L614.0,353.4" stroke="#e3a878" stroke-width="0.7"/><path d="M607.5,362.6 L602.0,361.5 L596.7,360.9" stroke="#dc9560" stroke-width="0.5"/><path d="M606.5,340.1 L610.3,338.8 L607.4,337.1 L611.6,334.4" stroke="#e3a878" stroke-width="0.7"/><path d="M621.2,352.2 L622.6,347.9 L620.9,350.7 L620.8,347.7 L617.3,350.6" stroke="#dc9560" stroke-width="0.5"/><path d="M618.8,360.9 L620.8,363.9 L624.7,364.2" stroke="#444" stroke-width="0.8"/><path d="M622.7,367.6 L628.8,368.2 L625.7,368.3 L625.2,373.0" stroke="#e3a878" stroke-width="0.8"/><path d="M609.5,349.9 L604.3,348.1 L602.4,343.7" stroke="#5f9a9a" stroke-width="0.6"/><path d="M617.2,361.2 L614.6,357.7 L617.4,361.9 L618.6,359.2" stroke="#444" stroke-width="0.7"/><path d="M605.8,368.0 L600.7,371.0 L595.8,369.3 L597.4,366.6" stroke="#444" stroke-width="0.5"/><path d="M609.6,391.1 L612.7,390.2 L607.9,388.4" stroke="#5f9a9a" stroke-width="0.8"/><path d="M603.5,390.7 L607.6,390.4 L605.9,392.8 L611.7,391.3" stroke="#e3a878" stroke-width="0.6"/><path d="M614.1,375.5 L618.6,374.3 L617.7,379.1 L623.6,378.8" stroke="#5f9a9a" stroke-width="0.7"/><path d="M618.0,354.4 L618.5,357.3 L622.0,354.7" stroke="#dc9560" stroke-width="0.7"/><path d="M608.9,371.3 L610.2,367.8 L613.5,366.4 L619.8,368.0" stroke="#444" stroke-width="0.6"/><path d="M616.7,368.5 L611.1,367.2 L606.2,371.1 L609.8,370.9" stroke="#9a7a5a" stroke-width="0.5"/><path d="M617.5,363.4 L620.7,363.6 L621.4,360.5 L621.8,355.8" stroke="#e3a878" stroke-width="0.5"/><path d="M616.7,382.4 L618.3,386.9 L613.9,383.1 L616.0,387.2" stroke="#7ab0a8" stroke-width="0.7"/><path d="M624.6,354.1 L622.1,352.4 L626.5,356.1 L630.0,355.8 L627.3,350.3" stroke="#9a7a5a" stroke-width="0.6"/><path d="M617.9,377.0 L618.8,374.2 L624.6,375.7 L627.1,377.4 L625.0,380.0" stroke="#5f9a9a" stroke-width="0.6"/><path d="M606.2,361.5 L600.5,358.3 L597.8,354.4 L598.8,359.0 L598.5,354.6" stroke="#444" stroke-width="0.8"/><path d="M618.9,392.0 L614.6,393.5 L612.1,393.5" stroke="#e3a878" stroke-width="0.6"/><path d="M611.0,377.8 L609.1,381.7 L614.8,383.0" stroke="#e3a878" stroke-width="0.7"/><path d="M601.5,370.4 L596.9,375.0 L601.0,375.8 L602.9,372.0" stroke="#9a7a5a" stroke-width="0.7"/><path d="M601.4,391.2 L602.9,388.1 L599.4,389.4 L600.4,383.2" stroke="#e3a878" stroke-width="0.8"/><path d="M608.1,359.5 L607.9,364.9 L604.0,366.8 L609.4,365.0" stroke="#444" stroke-width="0.8"/><path d="M623.1,377.6 L624.9,373.5 L625.0,367.5 L619.9,369.9 L626.0,369.1" stroke="#dc9560" stroke-width="0.7"/><path d="M623.2,379.3 L624.7,384.1 L628.4,379.7 L626.1,384.5 L620.1,387.1" stroke="#7ab0a8" stroke-width="0.6"/><path d="M622.2,391.0 L623.4,386.4 L629.0,388.5 L633.3,393.1 L631.9,389.5" stroke="#9a7a5a" stroke-width="0.5"/><path d="M612.2,383.5 L615.5,378.1 L620.3,379.0" stroke="#444" stroke-width="0.5"/><path d="M602.6,352.5 L598.7,347.9 L600.6,352.9 L600.3,350.0 L601.8,347.0" stroke="#5f9a9a" stroke-width="0.6"/><path d="M608.5,378.5 L608.0,384.5 L604.4,382.1" stroke="#dc9560" stroke-width="0.7"/><path d="M613.6,369.5 L615.5,371.6 L611.3,366.8" stroke="#7ab0a8" stroke-width="0.8"/><path d="M600.2,360.8 L604.0,362.7 L601.4,358.4 L603.3,355.4" stroke="#dc9560" stroke-width="0.5"/><path d="M595.9,345.7 L599.1,341.1 L600.3,344.2 L597.8,339.7 L592.5,336.2" stroke="#5f9a9a" stroke-width="0.8"/><path d="M599.9,352.6 L604.2,355.4 L606.5,350.1 L606.5,347.0 L603.6,348.2" stroke="#444" stroke-width="0.7"/><path d="M610.8,392.1 L614.2,393.5 L610.7,393.5" stroke="#7ab0a8" stroke-width="0.7"/><path d="M606.9,351.6 L600.6,349.2 L603.5,351.0" stroke="#5f9a9a" stroke-width="0.5"/><path d="M612.5,358.5 L615.9,363.5 L613.7,366.3" stroke="#444" stroke-width="0.7"/><path d="M610.9,356.6 L613.0,350.9 L613.9,347.9" stroke="#7ab0a8" stroke-width="0.7"/><path d="M610.0,358.7 L612.9,357.7 L616.7,353.5 L615.5,350.6 L614.9,345.1" stroke="#444" stroke-width="0.8"/><path d="M605.8,356.5 L601.3,352.0 L603.9,354.9 L598.9,354.1" stroke="#7ab0a8" stroke-width="0.7"/><path d="M597.9,372.2 L596.2,369.2 L595.5,374.5 L594.6,368.9" stroke="#9a7a5a" stroke-width="0.7"/><path d="M598.3,368.2 L592.4,368.8 L596.8,370.3 L597.0,367.3" stroke="#5f9a9a" stroke-width="0.5"/><path d="M613.5,371.5 L618.5,368.0 L613.5,364.7 L609.5,364.1" stroke="#5f9a9a" stroke-width="0.8"/><path d="M623.4,375.8 L627.0,375.5 L626.3,370.1 L625.8,366.2 L620.6,364.9" stroke="#444" stroke-width="0.5"/><path d="M605.1,358.6 L608.4,359.9 L611.0,365.2" stroke="#9a7a5a" stroke-width="0.8"/><path d="M623.0,357.5 L626.7,355.3 L624.9,360.9" stroke="#e3a878" stroke-width="0.8"/><path d="M612.9,393.0 L617.7,389.8 L616.7,393.5 L617.6,388.0" stroke="#444" stroke-width="0.7"/><path d="M620.7,340.1 L615.3,338.8 L620.0,340.0 L619.0,334.1" stroke="#444" stroke-width="0.6"/><path d="M619.2,350.6 L618.0,347.1 L619.1,343.8" stroke="#9a7a5a" stroke-width="0.8"/><path d="M603.5,370.3 L604.9,366.9 L601.2,366.4" stroke="#7ab0a8" stroke-width="0.8"/><path d="M614.1,361.2 L620.5,360.2 L624.8,363.9 L624.3,367.5" stroke="#5f9a9a" stroke-width="0.6"/><path d="M622.8,338.4 L621.8,341.7 L625.0,343.4 L627.3,349.0 L632.3,350.2" stroke="#5f9a9a" stroke-width="0.5"/><path d="M611.5,339.1 L616.1,339.8 L613.8,343.7 L611.5,341.6 L614.2,338.8" stroke="#5f9a9a" stroke-width="0.5"/><path d="M612.6,341.3 L616.0,343.1 L618.2,345.4" stroke="#e3a878" stroke-width="0.7"/><path d="M597.0,365.3 L600.6,361.9 L602.6,365.3" stroke="#7ab0a8" stroke-width="0.6"/><path d="M609.8,383.2 L606.4,385.4 L603.6,384.0 L603.8,377.9 L598.4,376.3" stroke="#7ab0a8" stroke-width="0.8"/><path d="M607.6,383.1 L610.8,378.7 L608.1,384.4 L605.0,381.8" stroke="#5f9a9a" stroke-width="0.6"/><path d="M610.7,373.8 L616.8,375.8 L612.6,378.7" stroke="#444" stroke-width="0.6"/><path d="M598.3,389.3 L599.1,393.5 L601.6,393.5" stroke="#7ab0a8" stroke-width="0.7"/><path d="M602.8,364.4 L600.2,366.4 L602.5,360.8" stroke="#dc9560" stroke-width="0.6"/><path d="M604.1,390.7 L603.9,384.7 L603.7,388.0 L600.2,392.9 L600.9,389.6" stroke="#9a7a5a" stroke-width="0.7"/><path d="M609.1,390.6 L612.3,393.5 L616.1,393.5 L612.2,392.7" stroke="#5f9a9a" stroke-width="0.8"/><path d="M612.3,346.1 L608.3,343.5 L609.2,349.1 L602.8,347.4 L603.2,343.1" stroke="#dc9560" stroke-width="0.6"/><path d="M609.7,373.4 L613.2,371.0 L613.4,365.2 L619.0,364.0 L615.9,369.1" stroke="#dc9560" stroke-width="0.6"/><path d="M606.7,374.9 L607.9,378.0 L613.7,379.2" stroke="#9a7a5a" stroke-width="0.5"/><path d="M625.3,342.0 L627.0,346.3 L624.6,349.5" stroke="#444" stroke-width="0.5"/><path d="M614.5,358.1 L617.0,361.2 L616.4,365.0 L610.1,365.4" stroke="#5f9a9a" stroke-width="0.7"/><path d="M614.4,377.6 L609.8,375.6 L606.9,373.6 L603.4,370.9 L604.6,366.1" stroke="#e3a878" stroke-width="0.6"/><path d="M604.5,385.7 L603.2,382.9 L602.9,379.9 L601.3,384.6 L606.0,385.1" stroke="#e3a878" stroke-width="0.7"/><path d="M615.9,359.4 L610.2,357.0 L607.7,360.4 L605.9,355.2 L604.6,352.2" stroke="#e3a878" stroke-width="0.8"/><path d="M618.5,359.2 L621.3,362.3 L627.1,362.9 L624.7,360.8" stroke="#444" stroke-width="0.8"/><path d="M618.6,379.3 L617.7,376.6 L617.1,380.1" stroke="#dc9560" stroke-width="0.5"/><path d="M609.3,370.6 L609.7,374.3 L612.7,376.6 L615.6,373.0 L615.1,367.2" stroke="#444" stroke-width="0.6"/><path d="M614.0,365.5 L618.0,367.5 L622.3,364.1" stroke="#9a7a5a" stroke-width="0.7"/><path d="M609.6,340.4 L608.8,337.8 L609.3,334.7 L604.5,330.5 L608.5,328.9" stroke="#e3a878" stroke-width="0.7"/><path d="M606.8,355.9 L609.6,358.4 L607.3,353.1 L611.5,353.3" stroke="#dc9560" stroke-width="0.6"/><path d="M606.3,377.1 L610.9,381.1 L612.5,376.1 L606.3,374.9 L610.6,379.1" stroke="#e3a878" stroke-width="0.6"/><path d="M610.3,375.3 L607.4,379.4 L604.5,375.6" stroke="#dc9560" stroke-width="0.6"/><path d="M612.1,363.1 L616.1,365.8 L615.5,372.1 L616.6,369.2" stroke="#e3a878" stroke-width="0.6"/><path d="M615.7,364.9 L611.1,369.6 L608.4,364.5 L610.1,362.1 L612.2,367.3" stroke="#e3a878" stroke-width="0.6"/><path d="M623.4,376.1 L618.1,379.1 L613.3,378.1 L615.8,383.2" stroke="#5f9a9a" stroke-width="0.7"/><path d="M612.1,363.8 L616.2,364.2 L620.9,365.4" stroke="#9a7a5a" stroke-width="0.8"/><path d="M619.9,378.4 L620.5,375.5 L620.2,372.6 L620.9,377.7 L627.7,377.5" stroke="#444" stroke-width="0.7"/><path d="M610.7,352.6 L609.1,348.5 L615.5,350.6 L618.3,352.5" stroke="#7ab0a8" stroke-width="0.8"/><path d="M614.5,356.1 L620.7,357.2 L624.7,353.9 L623.7,349.2" stroke="#5f9a9a" stroke-width="0.5"/><path d="M605.1,360.6 L607.1,355.3 L601.6,358.5" stroke="#5f9a9a" stroke-width="0.6"/><path d="M603.9,387.8 L608.8,386.3 L606.5,389.5 L607.8,393.5" stroke="#dc9560" stroke-width="0.8"/><path d="M601.1,385.8 L601.3,383.0 L595.5,382.7 L592.0,383.4" stroke="#5f9a9a" stroke-width="0.5"/><path d="M616.3,389.0 L612.5,392.6 L607.3,393.5 L602.6,393.5" stroke="#9a7a5a" stroke-width="0.6"/><path d="M596.7,359.8 L596.5,362.9 L595.4,367.8" stroke="#dc9560" stroke-width="0.7"/><path d="M601.6,346.5 L601.1,342.7 L597.0,342.3 L594.8,339.7 L598.7,342.0" stroke="#5f9a9a" stroke-width="0.7"/><path d="M608.2,364.6 L610.9,368.8 L607.7,372.7" stroke="#7ab0a8" stroke-width="0.7"/><path d="M601.2,373.0 L603.9,367.8 L600.3,366.8 L604.4,370.7 L611.0,372.5" stroke="#5f9a9a" stroke-width="0.5"/><path d="M617.9,363.4 L612.4,362.4 L611.1,359.8" stroke="#5f9a9a" stroke-width="0.8"/><path d="M611.4,387.5 L617.6,387.9 L621.0,392.4 L625.0,387.3 L622.1,386.0" stroke="#9a7a5a" stroke-width="0.6"/><path d="M611.3,373.1 L617.7,372.0 L620.9,373.2" stroke="#444" stroke-width="0.6"/><path d="M613.7,380.3 L608.8,377.5 L611.5,378.8 L611.2,373.9" stroke="#9a7a5a" stroke-width="0.7"/><path d="M616.7,339.1 L620.0,341.6 L623.7,344.6" stroke="#e3a878" stroke-width="0.7"/><path d="M610.7,372.2 L606.8,376.1 L609.3,378.8 L610.1,374.9" stroke="#e3a878" stroke-width="0.5"/><path d="M603.6,349.7 L598.5,351.3 L599.2,357.0" stroke="#7ab0a8" stroke-width="0.6"/><path d="M610.3,342.1 L607.8,347.4 L611.4,349.4" stroke="#dc9560" stroke-width="0.6"/><path d="M597.5,359.2 L603.3,359.6 L601.3,357.6 L595.8,356.2 L590.7,358.5" stroke="#5f9a9a" stroke-width="0.6"/><path d="M620.4,363.2 L623.7,367.7 L620.0,369.1 L623.5,367.0" stroke="#dc9560" stroke-width="0.7"/><path d="M614.4,377.4 L619.1,380.5 L619.6,375.7" stroke="#5f9a9a" stroke-width="0.7"/><path d="M603.9,371.4 L605.9,366.8 L604.5,369.3 L602.8,364.2" stroke="#dc9560" stroke-width="0.5"/><path d="M598.0,384.6 L593.0,382.0 L588.6,379.2" stroke="#5f9a9a" stroke-width="0.5"/><path d="M612.0,380.7 L612.5,377.6 L616.3,378.4" stroke="#7ab0a8" stroke-width="0.7"/><path d="M619.5,340.3 L625.4,340.9 L626.9,337.1" stroke="#5f9a9a" stroke-width="0.7"/><path d="M604.5,384.0 L606.0,378.4 L605.9,381.2 L608.7,385.9 L603.8,385.4" stroke="#e3a878" stroke-width="0.6"/><path d="M601.7,356.8 L596.9,354.8 L590.3,355.0" stroke="#e3a878" stroke-width="0.7"/><path d="M608.4,365.0 L605.4,362.2 L608.4,365.9 L607.6,368.5" stroke="#444" stroke-width="0.7"/><path d="M618.1,387.5 L613.8,389.2 L616.7,388.3 L623.1,388.4" stroke="#dc9560" stroke-width="0.7"/><path d="M607.8,339.4 L614.0,338.0 L609.0,339.0 L607.6,335.6 L614.5,336.4" stroke="#7ab0a8" stroke-width="0.8"/><path d="M608.7,392.6 L611.7,393.5 L612.4,393.5" stroke="#444" stroke-width="0.6"/><path d="M619.2,362.6 L623.0,363.9 L619.8,366.0 L616.7,365.0" stroke="#dc9560" stroke-width="0.5"/><path d="M608.8,370.5 L611.3,374.0 L614.6,371.4 L613.9,375.8 L618.3,372.8" stroke="#e3a878" stroke-width="0.7"/><path d="M612.6,382.2 L613.6,386.5 L615.5,381.3" stroke="#444" stroke-width="0.8"/><path d="M608.2,387.7 L610.8,390.1 L611.5,393.2" stroke="#5f9a9a" stroke-width="0.6"/><path d="M606.8,365.0 L604.4,359.8 L610.1,358.9 L606.9,358.9" stroke="#9a7a5a" stroke-width="0.6"/><path d="M621.0,390.8 L621.0,393.5 L623.5,392.0 L618.9,393.0 L614.1,393.5" stroke="#7ab0a8" stroke-width="0.7"/><path d="M602.9,338.2 L599.2,340.9 L594.9,337.3 L591.2,335.1 L586.2,335.4" stroke="#e3a878" stroke-width="0.6"/><path d="M582.1,310.0 L586.3,306.6 L588.7,303.2" stroke="#dc9560" stroke-width="0.7"/><path d="M594.4,350.0 L593.1,344.0 L592.3,337.4 L590.9,331.6 L590.0,325.6 L585.7,321.4 L585.6,314.2 L582.1,310.0 L579.4,303.3 L577.5,298.6" stroke="#dc9560" stroke-width="0.75"/><path d="M596.4,335.6 L599.8,333.7 L604.4,331.8" stroke="#e3a878" stroke-width="0.7"/><path d="M588.2,324.4 L592.1,321.4 L594.0,318.4" stroke="#e3a878" stroke-width="0.7"/><path d="M598.2,350.0 L599.2,345.0 L595.9,343.9 L597.6,340.4 L596.4,335.6 L592.5,332.4 L590.0,327.5 L588.2,324.4 L590.8,322.5 L587.6,318.1" stroke="#e3a878" stroke-width="0.75"/><path d="M603.7,323.0 L602.2,319.9 L599.5,316.8" stroke="#dc9560" stroke-width="0.7"/><path d="M597.8,303.7 L596.2,300.2 L593.8,296.8" stroke="#dc9560" stroke-width="0.7"/><path d="M604.5,350.0 L606.5,344.4 L600.4,337.2 L603.5,331.2 L603.7,323.0 L599.3,317.4 L596.8,309.3 L597.8,303.7 L599.9,296.4 L598.2,290.2" stroke="#dc9560" stroke-width="0.75"/><path d="M603.4,329.5 L606.0,327.7 L607.4,325.9" stroke="#5f9a9a" stroke-width="0.7"/><path d="M603.3,311.4 L599.7,309.6 L595.6,307.8" stroke="#5f9a9a" stroke-width="0.7"/><path d="M607.9,350.0 L608.2,343.8 L607.6,338.1 L603.9,334.3 L603.4,329.5 L608.1,322.4 L604.8,317.0 L603.3,311.4 L602.0,306.0 L601.9,300.2" stroke="#5f9a9a" stroke-width="0.75"/><path d="M615.9,332.4 L612.8,329.1 L609.9,325.8" stroke="#7ab0a8" stroke-width="0.7"/><path d="M612.9,350.0 L611.4,345.4 L611.0,341.1 L614.7,337.0 L615.9,332.4 L616.0,328.3 L614.3,324.4 L615.2,320.6 L611.9,318.5 L615.2,312.7" stroke="#7ab0a8" stroke-width="0.75"/><path d="M615.6,329.3 L614.2,325.9 L611.2,322.5" stroke="#dc9560" stroke-width="0.7"/><path d="M617.1,314.0 L614.8,310.8 L612.5,307.7" stroke="#dc9560" stroke-width="0.7"/><path d="M617.4,350.0 L615.1,343.8 L620.0,338.6 L619.9,335.0 L615.6,329.3 L619.7,323.7 L620.1,320.5 L617.1,314.0 L620.7,309.4 L621.9,303.3" stroke="#dc9560" stroke-width="0.75"/><path d="M620.3,329.5 L616.8,327.1 L614.4,324.7" stroke="#e3a878" stroke-width="0.7"/><path d="M615.4,350.0 L614.9,345.8 L617.0,340.1 L619.5,333.5 L620.3,329.5 L620.5,324.4 L619.9,317.8 L621.8,312.1 L625.0,306.1 L625.1,301.5" stroke="#e3a878" stroke-width="0.75"/><path d="M624.7,328.2 L627.4,325.3 L629.0,322.5" stroke="#dc9560" stroke-width="0.7"/><path d="M627.1,309.8 L629.0,308.2 L632.6,306.5" stroke="#dc9560" stroke-width="0.7"/><path d="M620.1,350.0 L618.8,344.8 L621.4,339.4 L621.4,333.4 L624.7,328.2 L625.2,321.8 L626.7,316.7 L627.1,309.8 L632.3,306.9 L631.1,300.3" stroke="#dc9560" stroke-width="0.75"/><path d="M633.9,324.8 L631.2,323.0 L628.1,321.1" stroke="#e3a878" stroke-width="0.7"/><path d="M638.6,307.5 L640.9,305.4 L644.0,303.2" stroke="#e3a878" stroke-width="0.7"/><path d="M626.8,350.0 L626.0,343.0 L629.0,336.7 L630.8,333.0 L633.9,324.8 L631.4,320.5 L632.6,312.5 L638.6,307.5 L636.3,301.7 L639.6,295.8" stroke="#e3a878" stroke-width="0.75"/><path d="M627.4,334.9 L629.8,332.3 L633.5,329.6" stroke="#7ab0a8" stroke-width="0.7"/><path d="M635.2,325.0 L638.6,322.8 L641.5,320.5" stroke="#7ab0a8" stroke-width="0.7"/><path d="M623.6,350.0 L622.8,346.6 L623.7,342.7 L630.3,340.5 L627.4,334.9 L631.5,331.5 L634.5,329.3 L635.2,325.0 L637.0,321.3 L643.2,317.0" stroke="#7ab0a8" stroke-width="0.75"/></g>
<g fill="#d9dedc" stroke="#666" stroke-width="0.55"><circle cx="590.5" cy="348.5" r="1.7"/><circle cx="591.0" cy="355.5" r="1.7"/><circle cx="593.7" cy="363.4" r="1.7"/><circle cx="596.2" cy="372.4" r="1.7"/><circle cx="596.8" cy="382.0" r="1.7"/><circle cx="597.5" cy="389.0" r="1.7"/><circle cx="636.7" cy="327.8" r="1.7"/><circle cx="639.8" cy="335.7" r="1.7"/><circle cx="628.7" cy="353.2" r="1.7"/><circle cx="627.0" cy="361.2" r="1.7"/><circle cx="628.0" cy="367.6" r="1.7"/><circle cx="624.0" cy="375.5" r="1.7"/><circle cx="625.5" cy="381.3" r="1.7"/><circle cx="622.3" cy="388.3" r="1.7"/><circle cx="600.0" cy="376.0" r="1.7"/><circle cx="606.0" cy="368.0" r="1.7"/><circle cx="616.0" cy="380.0" r="1.7"/></g>
<rect x="474.0" y="452.7" width="57.0" height="18.0" fill="url(#gSoil)"/>
<path d="M474.0,452.7 h57.0" stroke="#4a3a2c" stroke-width="0.8" fill="none"/>
<g stroke="#444" stroke-width="0.55" fill="none"><path d="M512.8,350.5 L518.0,360.0"/><path d="M508.8,364.1 L518.0,360.0"/><path d="M526.4,360.5 L518.0,360.0"/><path d="M512.0,373.3 L520.0,372.0"/><path d="M531.7,367.6 L520.0,372.0"/><path d="M530.9,382.0 L518.0,385.0"/><path d="M529.8,387.8 L518.0,385.0"/><path d="M506.2,382.0 L518.0,385.0"/><path d="M509.9,382.5 L518.0,385.0"/><path d="M502.0,388.0 L511.0,396.0"/><path d="M499.7,394.6 L511.0,396.0"/><path d="M494.1,396.4 L506.0,405.0"/><path d="M489.2,408.8 L500.0,414.0"/><path d="M483.1,413.0 L494.0,424.0"/><path d="M481.8,428.7 L489.0,436.0"/><path d="M485.7,430.6 L489.0,436.0"/><path d="M481.0,441.0 L489.0,436.0"/><path d="M486.3,447.6 L496.0,442.0"/><path d="M501.0,430.6 L494.0,424.0"/><path d="M512.0,429.2 L522.0,423.0"/><path d="M517.2,431.9 L522.0,423.0"/><path d="M518.6,408.8 L510.0,417.0"/><path d="M512.0,407.7 L506.0,405.0"/><path d="M517.2,397.7 L511.0,396.0"/><path d="M526.4,414.8 L522.0,423.0"/><path d="M529.8,416.1 L522.0,423.0"/><path d="M519.9,425.3 L522.0,423.0"/><path d="M543.5,431.1 L532.0,432.0"/><path d="M554.0,445.8 L552.0,454.0"/><path d="M529.8,442.9 L532.0,432.0"/><path d="M501.5,402.5 L506.0,405.0"/><path d="M505.4,403.0 L506.0,405.0"/></g>
<path d="M504,418.7 C508,414 510,411.5 512,410.9 C516,413 519,414.5 522.5,416 C526,417.5 530,418.5 533,421.4 C537,425 538.5,428.5 540.9,431.9 C544,436.5 548,441 551.4,445 C556,450.5 560,456 563.2,461.3 L559,461.3 C554,458 550,455.5 546,452.9 C541,449 537,445 533,441 C529,437 526,433 522.5,429.2 C520,426 517.5,423 514.6,421.4 C511,420 507,419.5 504,418.7 Z" fill="url(#gLeafC)" stroke="#6a4a44" stroke-width="0.7"/>
<path d="M512,414 C520,418 528,424 535,434 C542,443 550,451 559,459" fill="none" stroke="#8a5a50" stroke-width="0.5" opacity="0.7"/>
<path d="M516,358 C517,356 519,355 519.9,356 C522,359 524,362.5 525,366 C526,369 526.8,371.5 526.4,374 C526,377.5 525,380.5 523.8,383 C522,386.5 519,388.5 517,391 C515,393.5 514,396 513,399 L512,410.9 L502.8,405.6 C503.5,403 504.5,401 505.4,399 C506.5,396 508,393 509.4,390 C511.5,386 514,381.5 515,376.7 C515.8,373 516.8,369.5 516.7,366 C516.6,363 516,360.5 516,358 Z" fill="url(#gLeafC)" stroke="#6a4a44" stroke-width="0.7"/>
<path d="M502.8,405.6 L512,410.9 C509,413 506,414.5 504,418.7 C502,420.5 499.5,422 497.6,424 C496,426 494.5,428.5 493.6,430.6 C495,433 497,434.8 498.9,435.8 C501.5,436.5 504.5,436.3 506.7,437 C508.5,438 509.5,439.5 509.4,441 C508,443 505,443.3 502.8,443.7 L501.5,447.6 L497,446 C496,445 494.8,444 493.6,443.7 C491,445 488.5,446 487,445 C484.5,443 483,440 483,437 C483.3,433 484.5,430 485.7,426.6 C487,423 489,419.5 491,416 C492.5,412.5 494.5,409 496.2,405.6 Z" fill="#caa4a2" stroke="#6a4a44" stroke-width="0.7"/>
<path d="M499,410 C497,416 492,424 490,432 M503,414 C500,420 496,426 495,431" fill="none" stroke="#8a5a58" stroke-width="0.6"/>
<path d="M501.5,447.6 C502.5,450 500.5,452 501.5,455 C502.5,460 500.5,465 502.5,470 C503,474 502,476 503,479" fill="none" stroke="#3a2a26" stroke-width="0.8"/>
<circle cx="512.8" cy="350.5" r="1.6" fill="#8f9aa0" stroke="#2a2a2a" stroke-width="0.6"/><circle cx="508.8" cy="364.1" r="1.6" fill="#8f9aa0" stroke="#2a2a2a" stroke-width="0.6"/><circle cx="526.4" cy="360.5" r="1.6" fill="#8f9aa0" stroke="#2a2a2a" stroke-width="0.6"/><circle cx="512.0" cy="373.3" r="1.6" fill="#8f9aa0" stroke="#2a2a2a" stroke-width="0.6"/><circle cx="531.7" cy="367.6" r="1.6" fill="#8f9aa0" stroke="#2a2a2a" stroke-width="0.6"/><circle cx="530.9" cy="382.0" r="1.6" fill="#8f9aa0" stroke="#2a2a2a" stroke-width="0.6"/><circle cx="529.8" cy="387.8" r="1.6" fill="#8f9aa0" stroke="#2a2a2a" stroke-width="0.6"/><circle cx="506.2" cy="382.0" r="1.6" fill="#8f9aa0" stroke="#2a2a2a" stroke-width="0.6"/><circle cx="509.9" cy="382.5" r="1.6" fill="#8f9aa0" stroke="#2a2a2a" stroke-width="0.6"/><circle cx="502.0" cy="388.0" r="1.6" fill="#8f9aa0" stroke="#2a2a2a" stroke-width="0.6"/><circle cx="499.7" cy="394.6" r="1.6" fill="#8f9aa0" stroke="#2a2a2a" stroke-width="0.6"/><circle cx="494.1" cy="396.4" r="1.6" fill="#8f9aa0" stroke="#2a2a2a" stroke-width="0.6"/><circle cx="489.2" cy="408.8" r="1.6" fill="#8f9aa0" stroke="#2a2a2a" stroke-width="0.6"/><circle cx="483.1" cy="413.0" r="1.6" fill="#8f9aa0" stroke="#2a2a2a" stroke-width="0.6"/><circle cx="481.8" cy="428.7" r="1.6" fill="#8f9aa0" stroke="#2a2a2a" stroke-width="0.6"/><circle cx="485.7" cy="430.6" r="1.6" fill="#8f9aa0" stroke="#2a2a2a" stroke-width="0.6"/><circle cx="481.0" cy="441.0" r="1.6" fill="#8f9aa0" stroke="#2a2a2a" stroke-width="0.6"/><circle cx="486.3" cy="447.6" r="1.6" fill="#8f9aa0" stroke="#2a2a2a" stroke-width="0.6"/><circle cx="501.0" cy="430.6" r="1.6" fill="#8f9aa0" stroke="#2a2a2a" stroke-width="0.6"/><circle cx="512.0" cy="429.2" r="1.6" fill="#8f9aa0" stroke="#2a2a2a" stroke-width="0.6"/><circle cx="517.2" cy="431.9" r="1.6" fill="#8f9aa0" stroke="#2a2a2a" stroke-width="0.6"/><circle cx="518.6" cy="408.8" r="1.6" fill="#8f9aa0" stroke="#2a2a2a" stroke-width="0.6"/><circle cx="512.0" cy="407.7" r="1.6" fill="#8f9aa0" stroke="#2a2a2a" stroke-width="0.6"/><circle cx="517.2" cy="397.7" r="1.6" fill="#8f9aa0" stroke="#2a2a2a" stroke-width="0.6"/><circle cx="526.4" cy="414.8" r="1.6" fill="#8f9aa0" stroke="#2a2a2a" stroke-width="0.6"/><circle cx="529.8" cy="416.1" r="1.6" fill="#8f9aa0" stroke="#2a2a2a" stroke-width="0.6"/><circle cx="519.9" cy="425.3" r="1.6" fill="#8f9aa0" stroke="#2a2a2a" stroke-width="0.6"/><circle cx="543.5" cy="431.1" r="1.6" fill="#8f9aa0" stroke="#2a2a2a" stroke-width="0.6"/><circle cx="554.0" cy="445.8" r="1.6" fill="#8f9aa0" stroke="#2a2a2a" stroke-width="0.6"/><circle cx="529.8" cy="442.9" r="1.6" fill="#8f9aa0" stroke="#2a2a2a" stroke-width="0.6"/><circle cx="501.5" cy="402.5" r="1.6" fill="#8f9aa0" stroke="#2a2a2a" stroke-width="0.6"/><circle cx="505.4" cy="403.0" r="1.6" fill="#8f9aa0" stroke="#2a2a2a" stroke-width="0.6"/>
<rect x="375.5" y="452.3" width="70.0" height="18.4" fill="url(#gSoil)"/>
<path d="M375.5,452.3 h70.0" stroke="#4a3a2c" stroke-width="0.8" fill="none"/>
<path d="M340.2,403.6 C342,400 344.5,398 347.4,396.4 C350.5,394.8 354,394 357.7,394.3 C362,394.8 366,396.8 370,398.4 C373.5,399.6 376.5,400.8 379.4,402.6 C381.5,404 383.3,405.7 384.6,407.7 C387.2,411.3 389.5,415 391.8,419 C393.7,422 395.5,425 397,428.4 L394.9,431.5 C392.5,429.5 390,427.5 387.7,425.3 C385,422.3 383,419 380.5,416 C378.8,413.5 376.8,411 374.3,409.8 C371.5,408.3 368.8,407 366,406.7 C362.5,407 359,408.3 355.7,408.8 C352,409.2 348.5,408.8 345.3,407.7 C343.3,406.8 341.5,405.3 340.2,403.6 Z" fill="url(#gLeafA)" stroke="#7a5a54" stroke-width="0.7"/>
<path d="M346,403 C354,401 362,400 370,402" fill="none" stroke="#8a6a60" stroke-width="0.5"/>
<path d="M379,401 C382,400 385,402 384,405 C383,407 380,406 380,404" fill="none" stroke="#7a4a50" stroke-width="0.7"/>
<path d="M397,429.4 C397.3,425.5 398,421.5 399,418 C400.6,413.8 402.8,410 405.2,406.7 C407.6,403.5 410.4,400.6 413.5,398.4 C415.7,396.8 418.2,395.5 420.7,395.3 C423.4,395.6 425.9,397.3 428,399.5 C431,402 433.8,404.8 436.2,407.7 C438.8,410.8 441,414.3 442.4,418 C443.2,420 443.6,422.2 443.5,424.3 L440.8,424.3 C439.8,421.3 438.8,418.5 437.3,416 C435.5,413.3 433.3,410.9 431,408.8 C428.8,406.5 426.5,404 423.8,402.6 C421.5,402.4 419.4,402.6 417.6,403.6 C415.3,405.4 413.2,407.5 411.4,409.8 C409.3,412.3 407.6,415.1 406.3,418 C405,420.7 404,423.5 403.2,426.3 Z" fill="url(#gLeafB)" stroke="#7a5a54" stroke-width="0.7"/>
<path d="M401,424 C404,414 410,404 420,399" fill="none" stroke="#8a6a60" stroke-width="0.5"/>
<path d="M394.9,431.5 L397,428.4 L403.2,426.3 C404,430 405,433.5 406.3,436.7 C408.3,439.5 411,441.5 413.5,442.9 C414.8,443.8 416.2,444.5 417.6,444.9 C420.3,445.6 423.2,445.7 425.9,446 C427.7,446.2 429.4,446.5 431,447 L429.5,450 C425,449 420,449.5 415.5,448.5 C411,448.5 406,448 401,446 C398.7,445.5 397.5,444.5 397,442.9 C396.3,440 396,437.3 396,434.6 Z" fill="#c29a9a" stroke="#7a5a54" stroke-width="0.7"/>
<path d="M403,432 C405,438 410,443 416,446.5 C421,447.5 426,447.3 430,448.3 L431,447 C428,446 424,446 420,445.5 C414,444 408,440 405,434 Z" fill="#f0dfc0" stroke="#7a5a54" stroke-width="0.4"/>
<path d="M395,430.5 C398,431 401,429.5 403.5,427" fill="none" stroke="#1a1216" stroke-width="1.8"/>
<path d="M398,432 C399,437 401,441 404,445" fill="none" stroke="#5a3a3a" stroke-width="0.8"/>
<path d="M431,447 C431.5,450 430.5,453 429,455.2 C426.5,456.5 424,456 421.8,456.3 C419,457 416,457.5 414.5,459.4 C413.8,462 416,465 416.6,467.6 C417,470 414.8,471.5 414.5,473.8 C415,477 418,479 419.7,481.7" fill="none" stroke="#3a2a26" stroke-width="0.8"/>
<path d="M375.5,452.3 C385,451.5 395,453.5 405,452 C415,451 425,453 435,451.8 L445.5,452.3" fill="none" stroke="#3a2a26" stroke-width="0.7"/>
<defs><marker id="ah" viewBox="-12 -4 13 8" refX="-1" refY="0" markerWidth="13" markerHeight="8" markerUnits="userSpaceOnUse" orient="auto"><path d="M0,0 L-11,-3.3 L-8,0 L-11,3.3 Z" fill="#111"/></marker></defs>
<g fill="none" stroke="#111" stroke-width="1">
<path d="M156.5,96 L182.7,80" marker-end="url(#ah)"/>
<path d="M222,64 Q238,59 254,57" marker-end="url(#ah)"/>
<path d="M291,53 Q315,49 338,49.5" marker-end="url(#ah)"/>
<path d="M116,147 L126,127" marker-end="url(#ah)"/>
<path d="M197.5,217 C215,150 270,85 347.5,54" marker-end="url(#ah)"/>
<path d="M314,132 C322,100 335,75 356,57.5" marker-end="url(#ah)"/>
<path d="M367,110 Q363,85 361,62" marker-end="url(#ah)"/>
<path d="M357,47.5 L409.6,47.5" marker-end="url(#ah)"/>
<path d="M422.8,48.5 Q463,48.5 492.4,54.4" marker-end="url(#ah)"/>
<path d="M411.4,54.4 Q413,75 419.7,93.6" marker-end="url(#ah)"/>
<path d="M417.7,51.8 Q431,84 462,98.2" marker-end="url(#ah)"/>
<path d="M545,62 Q590,72 614,97" marker-end="url(#ah)"/>
<path d="M500,122 Q540,135 582,139" marker-end="url(#ah)"/>
<path d="M437,129 Q450,148 473.4,158.4" marker-end="url(#ah)"/>
<path d="M657.5,240 L657.5,285 Q657,325 636.7,355.3" marker-end="url(#ah)"/>
<path d="M585,418 L553,430" marker-end="url(#ah)"/>
<path d="M472,447 L447,450" marker-end="url(#ah)"/>
<path d="M365,453 L327,451" marker-end="url(#ah)"/>
<path d="M250,443 Q232,440 213,433" marker-end="url(#ah)"/>
<path d="M148,402 L137,388" marker-end="url(#ah)"/>
<path d="M107,330 L101,309" marker-end="url(#ah)"/>
<path d="M140,330 L149,317" marker-end="url(#ah)"/>
<path d="M503,364 Q465,366 435,352" marker-end="url(#ah)"/>
<path d="M493,326 C440,300 395,260 383,210" marker-end="url(#ah)"/>
<path d="M336.6,288.8 L325.5,270.5" marker-end="url(#ah)"/>
<path d="M314,241 L310.3,229.7" marker-end="url(#ah)"/>
<path d="M305,201 L305,190" marker-end="url(#ah)"/>
<path d="M284,27 L289,37" stroke-width="0.85"/>
<path d="M88,130 L118,117" stroke-width="0.85"/>
<path d="M84,139 L90,160" stroke-width="0.85"/>
<path d="M128,170 L139,165" stroke-width="0.85"/>
<path d="M101,197 L108,207" stroke-width="0.85"/>
<path d="M200.5,267.5 L190.5,268.5" stroke-width="0.85"/>
<path d="M298,358 L300,371" stroke-width="0.85"/>
<path d="M258,377 L270,392" stroke-width="0.85"/>
<path d="M312,143 L322,152" stroke-width="0.85"/>
<path d="M377,128 L386,138" stroke-width="0.85"/>
<path d="M297,273 L303,265" stroke-width="0.85"/>
<path d="M293,285 L310,305" stroke-width="0.85"/>
<path d="M294,312 L303,312" stroke-width="0.85"/>
<path d="M412,307 L408,319" stroke-width="0.85"/>
<path d="M503,344 L511,352" stroke-width="0.85"/>
<path d="M503,344 L508,362" stroke-width="0.85"/>
<path d="M517,34 L527,34" stroke-width="0.85"/>
<path d="M543,53 L552,49" stroke-width="0.85"/>
<path d="M635,222 L625,240" stroke-width="0.85"/>
<path d="M619,285 L619,305" stroke-width="0.85"/>
<path d="M641,362 L627,365" stroke-width="0.85"/>
<path d="M641,362 L625,375" stroke-width="0.85"/>
<path d="M641,381 L628,378" stroke-width="0.85"/>
<path d="M641,381 L622,382" stroke-width="0.85"/>
</g>
<g font-family="'Liberation Sans', sans-serif" font-size="10.4" fill="#14141f">
<text x="240.5" y="24.0" textLength="51.5" lengthAdjust="spacingAndGlyphs">Germ tube</text>
<text x="137.3" y="61.0" textLength="43.7" lengthAdjust="spacingAndGlyphs">Encysted</text>
<text x="136.8" y="74.7" textLength="44.5" lengthAdjust="spacingAndGlyphs">zoospore</text>
<text x="58.7" y="136.5" textLength="50.1" lengthAdjust="spacingAndGlyphs">Zoospores</text>
<text x="140.0" y="168.0" textLength="32.5" lengthAdjust="spacingAndGlyphs">Vesicle</text>
<text x="97.9" y="216.3" textLength="58.9" lengthAdjust="spacingAndGlyphs">Sporangium</text>
<text x="105.3" y="255.3" textLength="41.4" lengthAdjust="spacingAndGlyphs">Oospore</text>
<text x="201.3" y="264.7" textLength="26.7" lengthAdjust="spacingAndGlyphs">Germ</text>
<text x="201.6" y="277.2" textLength="22.4" lengthAdjust="spacingAndGlyphs">tube</text>
<text x="186.7" y="315.9" textLength="41.3" lengthAdjust="spacingAndGlyphs">Oospore</text>
<text x="88.8" y="339.9" textLength="60.5" lengthAdjust="spacingAndGlyphs">Germination</text>
<text x="24.0" y="363.9" textLength="69.9" lengthAdjust="spacingAndGlyphs">Overwintering</text>
<text x="54.7" y="376.0" textLength="39.2" lengthAdjust="spacingAndGlyphs">oospore</text>
<text x="85.3" y="404.7" textLength="54.7" lengthAdjust="spacingAndGlyphs">Karyogamy</text>
<text x="212.0" y="424.8" textLength="35.3" lengthAdjust="spacingAndGlyphs">Meiosis</text>
<text x="255.3" y="354.7" textLength="52.0" lengthAdjust="spacingAndGlyphs">Oogonium</text>
<text x="225.0" y="374.0" textLength="61.0" lengthAdjust="spacingAndGlyphs">Antheridium</text>
<text x="358.7" y="40.5" textLength="42.6" lengthAdjust="spacingAndGlyphs">Infection</text>
<text x="289.2" y="136.5" textLength="26.7" lengthAdjust="spacingAndGlyphs">Germ</text>
<text x="289.2" y="147.5" textLength="21.3" lengthAdjust="spacingAndGlyphs">tube</text>
<text x="353.2" y="120.5" textLength="26.0" lengthAdjust="spacingAndGlyphs">Germ</text>
<text x="353.2" y="132.0" textLength="21.5" lengthAdjust="spacingAndGlyphs">tube</text>
<text x="243.9" y="212.0" textLength="43.4" lengthAdjust="spacingAndGlyphs">Encysted</text>
<text x="243.9" y="224.8" textLength="44.3" lengthAdjust="spacingAndGlyphs">zoospore</text>
<text x="248.7" y="281.9" textLength="50.1" lengthAdjust="spacingAndGlyphs">Zoospores</text>
<text x="259.3" y="314.7" textLength="33.4" lengthAdjust="spacingAndGlyphs">Vesicle</text>
<text x="381.3" y="302.0" textLength="58.8" lengthAdjust="spacingAndGlyphs">Sporangium</text>
<text x="472.5" y="340.0" textLength="48.8" lengthAdjust="spacingAndGlyphs">Sporangia</text>
<text x="527.9" y="37.3" textLength="41.3" lengthAdjust="spacingAndGlyphs">Seedling</text>
<text x="553.2" y="52.0" textLength="38.5" lengthAdjust="spacingAndGlyphs">Soil line</text>
<text x="440.7" y="128.5" textLength="22.6" lengthAdjust="spacingAndGlyphs">Seed</text>
<text x="489.2" y="117.3" textLength="22.8" lengthAdjust="spacingAndGlyphs">Seed</text>
<text x="474.8" y="203.5" textLength="45.1" lengthAdjust="spacingAndGlyphs">Seed rots</text>
<text x="450.8" y="215.2" textLength="92.5" lengthAdjust="spacingAndGlyphs">(poor germination)</text>
<text x="573.0" y="245.8" textLength="56.0" lengthAdjust="spacingAndGlyphs">Intracellular</text>
<text x="578.0" y="256.7" textLength="46.7" lengthAdjust="spacingAndGlyphs">mycelium</text>
<text x="603.3" y="280.7" textLength="46.7" lengthAdjust="spacingAndGlyphs">Mycelium</text>
<text x="642.5" y="365.0" textLength="83.5" lengthAdjust="spacingAndGlyphs">Sporangiophores</text>
<text x="642.5" y="384.7" textLength="48.8" lengthAdjust="spacingAndGlyphs">Sporangia</text>
<text x="483.2" y="486.8" textLength="71.6" lengthAdjust="spacingAndGlyphs">Dying seedling</text>
<text x="483.3" y="82.7" font-size="9" textLength="24" lengthAdjust="spacingAndGlyphs">Seed-</text>
<text x="483.3" y="92" font-size="9" textLength="15.5" lengthAdjust="spacingAndGlyphs">ling</text>
</g>
<text transform="translate(120.4,513.2) scale(0.8,1)" x="0" y="0" font-family="'Liberation Sans', sans-serif" font-size="14.2" fill="#9a6c3e" stroke="#9a6c3e" stroke-width="0.4" textLength="126.2" lengthAdjust="spacing">FIGURE 11-18</text>
<text x="237.2" y="513.2" font-family="'Liberation Serif', serif" font-size="13.6" fill="#15151c" textLength="395.6" lengthAdjust="spacing">Disease cycle of damping-off and seed decay caused by <tspan font-style="italic">Pythium</tspan> sp.</text>
</svg></body></html>
